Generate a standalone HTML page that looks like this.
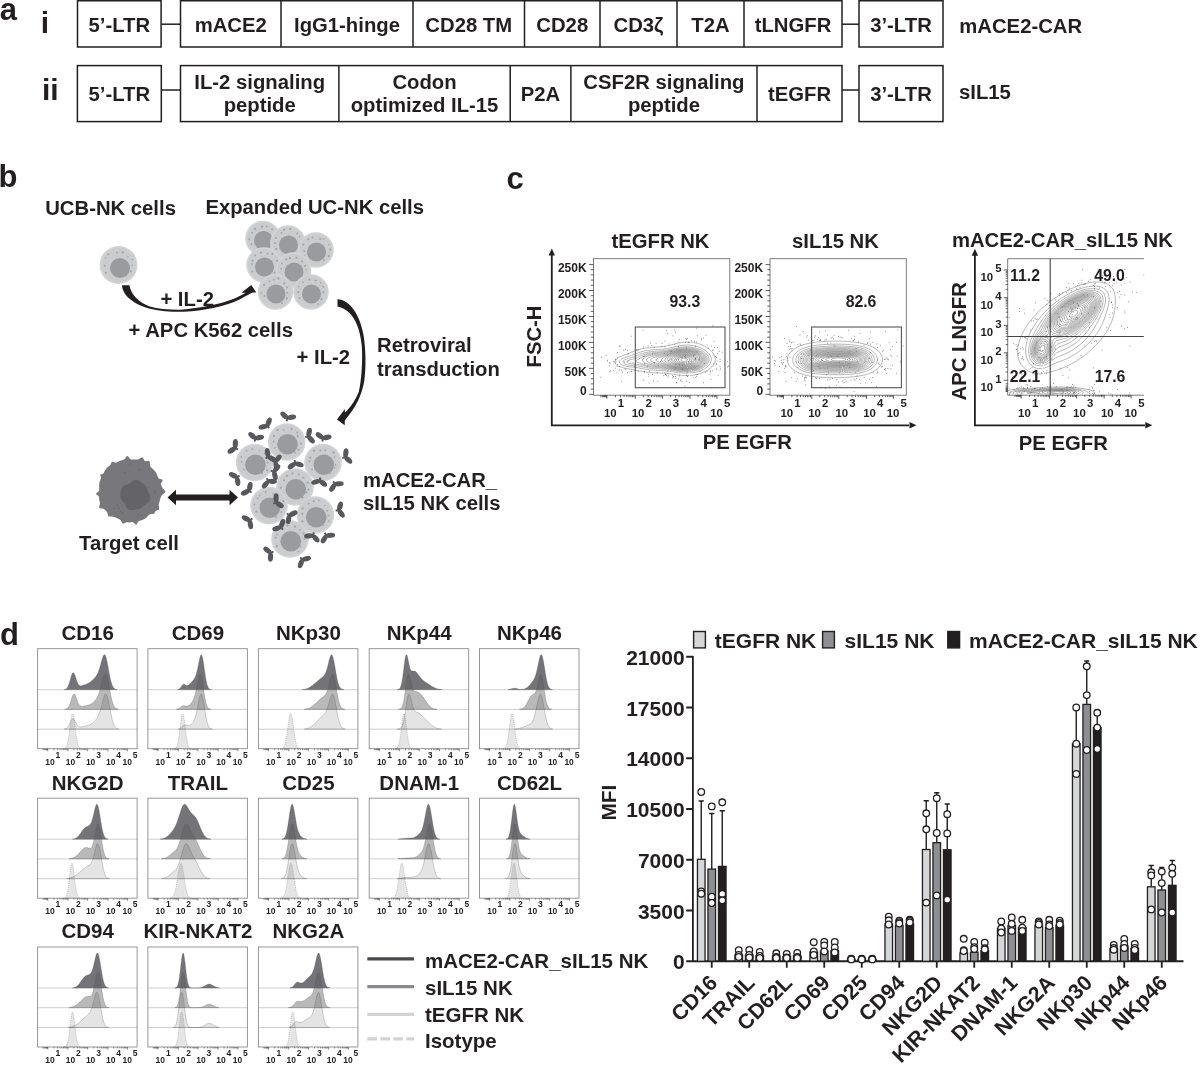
<!DOCTYPE html>
<html><head><meta charset="utf-8"><title>Figure</title>
<style>
html,body{margin:0;padding:0;background:#fff;}
svg{display:block;}
text{font-family:"Liberation Sans", Arial, Helvetica, sans-serif;font-weight:bold;fill:#231f20;}
</style></head>
<body>
<svg width="1200" height="1066" viewBox="0 0 1200 1066">
<rect width="1200" height="1066" fill="#fff"/>
<text x="-0.30" y="20.30" font-size="31">a</text>
<text x="40.80" y="32.60" font-size="30">i</text>
<text x="42.00" y="99.80" font-size="30">ii</text>
<g fill="none" stroke="#231f20" stroke-width="1.5">
<rect x="77.5" y="0.75" width="83.60" height="46.25"/>
<line x1="161.1" y1="24.2" x2="180.5" y2="24.2"/>
<rect x="180.5" y="0.75" width="661.50" height="46.25"/>
<line x1="281" y1="0.75" x2="281" y2="47.0"/>
<line x1="413" y1="0.75" x2="413" y2="47.0"/>
<line x1="524.5" y1="0.75" x2="524.5" y2="47.0"/>
<line x1="600" y1="0.75" x2="600" y2="47.0"/>
<line x1="677" y1="0.75" x2="677" y2="47.0"/>
<line x1="744" y1="0.75" x2="744" y2="47.0"/>
<line x1="842" y1="24.2" x2="859" y2="24.2"/>
<rect x="859" y="0.75" width="84" height="46.25"/>
<rect x="77.4" y="65.6" width="83.90" height="56.00"/>
<line x1="161.3" y1="90" x2="180.5" y2="90"/>
<rect x="180.5" y="65.6" width="661.50" height="56.00"/>
<line x1="338.9" y1="65.6" x2="338.9" y2="121.6"/>
<line x1="510.2" y1="65.6" x2="510.2" y2="121.6"/>
<line x1="570.9" y1="65.6" x2="570.9" y2="121.6"/>
<line x1="757" y1="65.6" x2="757" y2="121.6"/>
<line x1="842" y1="90" x2="859" y2="90"/>
<rect x="859" y="65.6" width="84" height="56.00"/>
</g>
<text x="119.30" y="32.20" font-size="20.3" text-anchor="middle">5’-LTR</text>
<text x="230.75" y="32.20" font-size="20.3" text-anchor="middle">mACE2</text>
<text x="347.00" y="32.20" font-size="20.3" text-anchor="middle">IgG1-hinge</text>
<text x="468.75" y="32.20" font-size="20.3" text-anchor="middle">CD28 TM</text>
<text x="562.25" y="32.20" font-size="20.3" text-anchor="middle">CD28</text>
<text x="638.50" y="32.20" font-size="20.3" text-anchor="middle">CD3ζ</text>
<text x="710.50" y="32.20" font-size="20.3" text-anchor="middle">T2A</text>
<text x="793.00" y="32.20" font-size="20.3" text-anchor="middle">tLNGFR</text>
<text x="901.00" y="32.20" font-size="20.3" text-anchor="middle">3’-LTR</text>
<text x="959.30" y="33.00" font-size="20.3">mACE2-CAR</text>
<text x="119.35" y="100.80" font-size="20.3" text-anchor="middle">5’-LTR</text>
<text x="259.70" y="88.80" font-size="20.3" text-anchor="middle">IL-2 signaling</text>
<text x="259.70" y="111.60" font-size="20.3" text-anchor="middle">peptide</text>
<text x="424.55" y="88.80" font-size="20.3" text-anchor="middle">Codon</text>
<text x="424.55" y="111.60" font-size="20.3" text-anchor="middle">optimized IL-15</text>
<text x="540.55" y="100.80" font-size="20.3" text-anchor="middle">P2A</text>
<text x="663.95" y="88.80" font-size="20.3" text-anchor="middle">CSF2R signaling</text>
<text x="663.95" y="111.60" font-size="20.3" text-anchor="middle">peptide</text>
<text x="799.50" y="100.80" font-size="20.3" text-anchor="middle">tEGFR</text>
<text x="901.00" y="100.80" font-size="20.3" text-anchor="middle">3’-LTR</text>
<text x="959.00" y="99.40" font-size="20.3">sIL15</text>
<text x="-1.50" y="186.60" font-size="31">b</text>
<text x="45.20" y="214.60" font-size="20.3">UCB-NK cells</text>
<text x="205.40" y="214.40" font-size="20.3">Expanded UC-NK cells</text>
<circle cx="118.5" cy="265.0" r="19.0" fill="#d3d4d6"/>
<circle cx="118.5" cy="265.0" r="17.4" fill="#cbccce"/>
<circle cx="120.0" cy="268.0" r="10.0" fill="#9a9b9f"/>
<circle cx="105.9" cy="272.7" r="1.07" fill="#a4a5a9"/>
<circle cx="104.7" cy="265.8" r="0.96" fill="#a4a5a9"/>
<circle cx="105.6" cy="258.0" r="0.83" fill="#a4a5a9"/>
<circle cx="108.3" cy="254.3" r="0.95" fill="#a4a5a9"/>
<circle cx="116.9" cy="252.6" r="0.96" fill="#a4a5a9"/>
<circle cx="122.7" cy="252.5" r="1.13" fill="#a4a5a9"/>
<circle cx="127.8" cy="256.5" r="0.81" fill="#a4a5a9"/>
<circle cx="132.5" cy="259.6" r="0.93" fill="#a4a5a9"/>
<circle cx="132.2" cy="265.2" r="0.81" fill="#a4a5a9"/>
<circle cx="130.7" cy="271.2" r="0.97" fill="#a4a5a9"/>
<circle cx="126.3" cy="275.6" r="0.88" fill="#a4a5a9"/>
<circle cx="263.0" cy="238.5" r="17.8" fill="#d3d4d6"/>
<circle cx="263.0" cy="238.5" r="16.2" fill="#cbccce"/>
<circle cx="263.5" cy="240.5" r="9.5" fill="#9a9b9f"/>
<circle cx="251.4" cy="244.0" r="1.00" fill="#a4a5a9"/>
<circle cx="249.3" cy="239.4" r="1.09" fill="#a4a5a9"/>
<circle cx="252.3" cy="232.7" r="0.98" fill="#a4a5a9"/>
<circle cx="255.1" cy="229.0" r="1.13" fill="#a4a5a9"/>
<circle cx="262.2" cy="226.7" r="1.10" fill="#a4a5a9"/>
<circle cx="266.7" cy="226.4" r="0.90" fill="#a4a5a9"/>
<circle cx="272.0" cy="229.3" r="1.04" fill="#a4a5a9"/>
<circle cx="274.4" cy="234.5" r="1.07" fill="#a4a5a9"/>
<circle cx="276.9" cy="241.3" r="1.01" fill="#a4a5a9"/>
<circle cx="273.7" cy="243.4" r="0.85" fill="#a4a5a9"/>
<circle cx="268.6" cy="249.7" r="0.93" fill="#a4a5a9"/>
<circle cx="288.0" cy="243.0" r="17.8" fill="#d3d4d6"/>
<circle cx="288.0" cy="243.0" r="16.2" fill="#cbccce"/>
<circle cx="288.5" cy="245.0" r="9.5" fill="#9a9b9f"/>
<circle cx="276.3" cy="249.0" r="1.12" fill="#a4a5a9"/>
<circle cx="275.0" cy="243.1" r="1.01" fill="#a4a5a9"/>
<circle cx="275.9" cy="238.1" r="1.02" fill="#a4a5a9"/>
<circle cx="281.4" cy="233.0" r="0.91" fill="#a4a5a9"/>
<circle cx="284.1" cy="229.8" r="1.04" fill="#a4a5a9"/>
<circle cx="290.3" cy="229.0" r="1.14" fill="#a4a5a9"/>
<circle cx="297.2" cy="233.4" r="0.86" fill="#a4a5a9"/>
<circle cx="299.5" cy="236.8" r="0.82" fill="#a4a5a9"/>
<circle cx="300.4" cy="243.1" r="0.81" fill="#a4a5a9"/>
<circle cx="299.1" cy="249.5" r="1.09" fill="#a4a5a9"/>
<circle cx="295.2" cy="254.3" r="0.97" fill="#a4a5a9"/>
<circle cx="316.0" cy="250.0" r="17.8" fill="#d3d4d6"/>
<circle cx="316.0" cy="250.0" r="16.2" fill="#cbccce"/>
<circle cx="316.5" cy="252.0" r="9.5" fill="#9a9b9f"/>
<circle cx="304.0" cy="256.0" r="1.03" fill="#a4a5a9"/>
<circle cx="304.3" cy="251.0" r="0.93" fill="#a4a5a9"/>
<circle cx="303.4" cy="244.5" r="1.04" fill="#a4a5a9"/>
<circle cx="308.3" cy="239.3" r="1.03" fill="#a4a5a9"/>
<circle cx="312.5" cy="237.6" r="0.86" fill="#a4a5a9"/>
<circle cx="320.3" cy="238.9" r="1.09" fill="#a4a5a9"/>
<circle cx="323.9" cy="239.1" r="0.92" fill="#a4a5a9"/>
<circle cx="328.7" cy="244.6" r="0.81" fill="#a4a5a9"/>
<circle cx="330.0" cy="249.6" r="0.98" fill="#a4a5a9"/>
<circle cx="328.8" cy="256.1" r="1.13" fill="#a4a5a9"/>
<circle cx="323.9" cy="260.1" r="0.85" fill="#a4a5a9"/>
<circle cx="264.0" cy="265.0" r="17.8" fill="#d3d4d6"/>
<circle cx="264.0" cy="265.0" r="16.2" fill="#cbccce"/>
<circle cx="264.5" cy="267.0" r="9.5" fill="#9a9b9f"/>
<circle cx="252.3" cy="271.6" r="1.04" fill="#a4a5a9"/>
<circle cx="251.8" cy="264.0" r="0.88" fill="#a4a5a9"/>
<circle cx="252.6" cy="260.5" r="1.06" fill="#a4a5a9"/>
<circle cx="255.2" cy="255.3" r="0.87" fill="#a4a5a9"/>
<circle cx="261.0" cy="252.5" r="1.09" fill="#a4a5a9"/>
<circle cx="267.4" cy="253.7" r="0.90" fill="#a4a5a9"/>
<circle cx="272.4" cy="253.9" r="1.08" fill="#a4a5a9"/>
<circle cx="277.2" cy="260.8" r="1.06" fill="#a4a5a9"/>
<circle cx="277.5" cy="267.6" r="0.89" fill="#a4a5a9"/>
<circle cx="274.5" cy="272.6" r="1.06" fill="#a4a5a9"/>
<circle cx="270.8" cy="275.9" r="0.93" fill="#a4a5a9"/>
<circle cx="293.5" cy="270.0" r="17.8" fill="#d3d4d6"/>
<circle cx="293.5" cy="270.0" r="16.2" fill="#cbccce"/>
<circle cx="294.0" cy="272.0" r="9.5" fill="#9a9b9f"/>
<circle cx="282.0" cy="277.1" r="1.03" fill="#a4a5a9"/>
<circle cx="281.1" cy="268.7" r="0.89" fill="#a4a5a9"/>
<circle cx="281.9" cy="263.4" r="0.91" fill="#a4a5a9"/>
<circle cx="286.3" cy="259.5" r="1.07" fill="#a4a5a9"/>
<circle cx="290.1" cy="258.2" r="1.12" fill="#a4a5a9"/>
<circle cx="296.4" cy="257.9" r="1.08" fill="#a4a5a9"/>
<circle cx="301.9" cy="261.2" r="0.99" fill="#a4a5a9"/>
<circle cx="305.0" cy="265.9" r="1.03" fill="#a4a5a9"/>
<circle cx="306.1" cy="269.9" r="0.83" fill="#a4a5a9"/>
<circle cx="306.2" cy="276.4" r="0.94" fill="#a4a5a9"/>
<circle cx="299.1" cy="281.5" r="1.01" fill="#a4a5a9"/>
<circle cx="275.5" cy="292.0" r="17.8" fill="#d3d4d6"/>
<circle cx="275.5" cy="292.0" r="16.2" fill="#cbccce"/>
<circle cx="276.0" cy="294.0" r="9.5" fill="#9a9b9f"/>
<circle cx="264.4" cy="296.0" r="1.06" fill="#a4a5a9"/>
<circle cx="261.3" cy="293.1" r="0.81" fill="#a4a5a9"/>
<circle cx="264.1" cy="284.9" r="1.10" fill="#a4a5a9"/>
<circle cx="269.3" cy="281.3" r="0.92" fill="#a4a5a9"/>
<circle cx="273.8" cy="279.7" r="0.89" fill="#a4a5a9"/>
<circle cx="278.3" cy="278.4" r="1.11" fill="#a4a5a9"/>
<circle cx="284.3" cy="283.4" r="1.12" fill="#a4a5a9"/>
<circle cx="287.0" cy="287.5" r="0.96" fill="#a4a5a9"/>
<circle cx="287.4" cy="292.7" r="1.00" fill="#a4a5a9"/>
<circle cx="287.0" cy="298.4" r="1.13" fill="#a4a5a9"/>
<circle cx="282.0" cy="303.0" r="1.10" fill="#a4a5a9"/>
<circle cx="311.0" cy="292.0" r="17.8" fill="#d3d4d6"/>
<circle cx="311.0" cy="292.0" r="16.2" fill="#cbccce"/>
<circle cx="311.5" cy="294.0" r="9.5" fill="#9a9b9f"/>
<circle cx="299.6" cy="298.1" r="0.95" fill="#a4a5a9"/>
<circle cx="298.2" cy="292.1" r="1.03" fill="#a4a5a9"/>
<circle cx="298.7" cy="286.8" r="0.80" fill="#a4a5a9"/>
<circle cx="302.9" cy="282.3" r="0.85" fill="#a4a5a9"/>
<circle cx="309.4" cy="279.6" r="1.08" fill="#a4a5a9"/>
<circle cx="315.6" cy="280.5" r="1.11" fill="#a4a5a9"/>
<circle cx="320.7" cy="282.7" r="0.81" fill="#a4a5a9"/>
<circle cx="323.3" cy="286.9" r="0.90" fill="#a4a5a9"/>
<circle cx="323.5" cy="292.2" r="0.89" fill="#a4a5a9"/>
<circle cx="321.3" cy="299.2" r="0.95" fill="#a4a5a9"/>
<circle cx="318.2" cy="304.1" r="0.90" fill="#a4a5a9"/>
<path d="M122,285.3 C122.5,296 135,305 150,308.7 C160,311 170,311.8 180,311.8 C200,311.5 228,306.5 243,297.5 L252.5,292.6 L256.3,292.5 L251.3,285 L241.3,292.7 L245.5,292.8 C236,299.5 212,307.5 180,309.7 C168,309.8 158,308.6 150,306.4 C140,303 131.5,296 129.3,285.3 Z" fill="#231f20"/>
<text x="160.40" y="305.60" font-size="20.3">+ IL-2</text>
<text x="128.50" y="336.80" font-size="20.3">+ APC K562 cells</text>
<path d="M337.5,299.2 C350,299.5 360,315 363.5,335 C366,350 366,368 364.4,380 C362.5,392 358,403 351.3,411.9 L344.8,420.5 L344.7,425.3 L337,419.6 L344.9,409.1 L344.9,412.5 C351,407 356,399 358.8,391.7 C361.5,381 362.8,360 361.8,346 C360,325 352,309.5 337.5,306.4 Z" fill="#231f20"/>
<text x="296.60" y="363.70" font-size="20.3">+ IL-2</text>
<text x="377.00" y="352.00" font-size="20.3">Retroviral</text>
<text x="377.00" y="375.80" font-size="20.3">transduction</text>
<circle cx="286.7" cy="442.0" r="18.8" fill="#d3d4d6"/>
<circle cx="286.7" cy="442.0" r="17.2" fill="#cbccce"/>
<circle cx="287.5" cy="444.2" r="10.3" fill="#9a9b9f"/>
<circle cx="274.8" cy="447.7" r="0.81" fill="#a4a5a9"/>
<circle cx="273.7" cy="441.5" r="0.89" fill="#a4a5a9"/>
<circle cx="273.9" cy="436.0" r="1.15" fill="#a4a5a9"/>
<circle cx="277.5" cy="430.1" r="1.15" fill="#a4a5a9"/>
<circle cx="283.6" cy="429.8" r="0.86" fill="#a4a5a9"/>
<circle cx="291.5" cy="428.9" r="1.12" fill="#a4a5a9"/>
<circle cx="297.3" cy="432.6" r="0.99" fill="#a4a5a9"/>
<circle cx="297.7" cy="436.2" r="1.08" fill="#a4a5a9"/>
<circle cx="301.0" cy="443.7" r="1.00" fill="#a4a5a9"/>
<circle cx="298.5" cy="449.7" r="1.11" fill="#a4a5a9"/>
<circle cx="295.1" cy="452.8" r="0.91" fill="#a4a5a9"/>
<circle cx="254.6" cy="462.5" r="18.8" fill="#d3d4d6"/>
<circle cx="254.6" cy="462.5" r="17.2" fill="#cbccce"/>
<circle cx="255.4" cy="464.7" r="10.3" fill="#9a9b9f"/>
<circle cx="243.9" cy="469.4" r="0.94" fill="#a4a5a9"/>
<circle cx="241.8" cy="461.9" r="0.84" fill="#a4a5a9"/>
<circle cx="241.3" cy="456.9" r="0.85" fill="#a4a5a9"/>
<circle cx="246.7" cy="450.8" r="0.85" fill="#a4a5a9"/>
<circle cx="252.2" cy="449.1" r="0.94" fill="#a4a5a9"/>
<circle cx="259.4" cy="450.8" r="0.81" fill="#a4a5a9"/>
<circle cx="264.6" cy="453.5" r="0.87" fill="#a4a5a9"/>
<circle cx="266.8" cy="457.0" r="1.13" fill="#a4a5a9"/>
<circle cx="267.6" cy="462.6" r="1.00" fill="#a4a5a9"/>
<circle cx="267.3" cy="470.3" r="1.09" fill="#a4a5a9"/>
<circle cx="262.0" cy="473.1" r="1.09" fill="#a4a5a9"/>
<circle cx="323.0" cy="462.5" r="18.8" fill="#d3d4d6"/>
<circle cx="323.0" cy="462.5" r="17.2" fill="#cbccce"/>
<circle cx="323.8" cy="464.7" r="10.3" fill="#9a9b9f"/>
<circle cx="312.0" cy="469.4" r="0.91" fill="#a4a5a9"/>
<circle cx="309.4" cy="461.2" r="1.05" fill="#a4a5a9"/>
<circle cx="310.2" cy="457.6" r="1.10" fill="#a4a5a9"/>
<circle cx="314.1" cy="450.6" r="1.11" fill="#a4a5a9"/>
<circle cx="320.3" cy="450.4" r="1.06" fill="#a4a5a9"/>
<circle cx="325.2" cy="450.3" r="1.06" fill="#a4a5a9"/>
<circle cx="333.6" cy="452.5" r="1.13" fill="#a4a5a9"/>
<circle cx="334.4" cy="457.0" r="0.84" fill="#a4a5a9"/>
<circle cx="335.5" cy="465.0" r="0.86" fill="#a4a5a9"/>
<circle cx="334.4" cy="467.7" r="0.81" fill="#a4a5a9"/>
<circle cx="330.3" cy="473.1" r="0.91" fill="#a4a5a9"/>
<circle cx="295.0" cy="487.0" r="18.8" fill="#d3d4d6"/>
<circle cx="295.0" cy="487.0" r="17.2" fill="#cbccce"/>
<circle cx="295.8" cy="489.2" r="10.3" fill="#9a9b9f"/>
<circle cx="282.3" cy="493.0" r="1.09" fill="#a4a5a9"/>
<circle cx="280.9" cy="487.7" r="1.11" fill="#a4a5a9"/>
<circle cx="284.1" cy="480.2" r="1.03" fill="#a4a5a9"/>
<circle cx="287.0" cy="475.8" r="1.14" fill="#a4a5a9"/>
<circle cx="292.5" cy="473.6" r="1.13" fill="#a4a5a9"/>
<circle cx="298.9" cy="474.4" r="0.91" fill="#a4a5a9"/>
<circle cx="303.4" cy="477.6" r="1.01" fill="#a4a5a9"/>
<circle cx="307.8" cy="482.7" r="1.10" fill="#a4a5a9"/>
<circle cx="308.6" cy="489.5" r="1.04" fill="#a4a5a9"/>
<circle cx="306.3" cy="492.4" r="1.14" fill="#a4a5a9"/>
<circle cx="302.6" cy="497.5" r="1.11" fill="#a4a5a9"/>
<circle cx="269.0" cy="505.6" r="18.8" fill="#d3d4d6"/>
<circle cx="269.0" cy="505.6" r="17.2" fill="#cbccce"/>
<circle cx="269.8" cy="507.8" r="10.3" fill="#9a9b9f"/>
<circle cx="256.4" cy="511.7" r="1.10" fill="#a4a5a9"/>
<circle cx="254.3" cy="504.2" r="0.93" fill="#a4a5a9"/>
<circle cx="257.6" cy="498.3" r="0.91" fill="#a4a5a9"/>
<circle cx="259.7" cy="495.5" r="0.85" fill="#a4a5a9"/>
<circle cx="265.6" cy="492.0" r="1.07" fill="#a4a5a9"/>
<circle cx="273.1" cy="493.7" r="0.82" fill="#a4a5a9"/>
<circle cx="277.6" cy="494.8" r="1.09" fill="#a4a5a9"/>
<circle cx="283.2" cy="501.1" r="1.01" fill="#a4a5a9"/>
<circle cx="282.1" cy="507.1" r="0.91" fill="#a4a5a9"/>
<circle cx="281.3" cy="511.9" r="1.01" fill="#a4a5a9"/>
<circle cx="276.1" cy="517.0" r="0.95" fill="#a4a5a9"/>
<circle cx="315.4" cy="515.0" r="18.8" fill="#d3d4d6"/>
<circle cx="315.4" cy="515.0" r="17.2" fill="#cbccce"/>
<circle cx="316.2" cy="517.2" r="10.3" fill="#9a9b9f"/>
<circle cx="302.4" cy="521.2" r="1.06" fill="#a4a5a9"/>
<circle cx="302.3" cy="513.8" r="1.14" fill="#a4a5a9"/>
<circle cx="302.6" cy="508.4" r="1.06" fill="#a4a5a9"/>
<circle cx="308.6" cy="503.8" r="0.93" fill="#a4a5a9"/>
<circle cx="313.5" cy="501.2" r="1.06" fill="#a4a5a9"/>
<circle cx="318.9" cy="500.5" r="0.80" fill="#a4a5a9"/>
<circle cx="324.9" cy="505.5" r="0.81" fill="#a4a5a9"/>
<circle cx="327.2" cy="510.8" r="0.88" fill="#a4a5a9"/>
<circle cx="328.2" cy="515.5" r="0.86" fill="#a4a5a9"/>
<circle cx="328.7" cy="521.2" r="0.83" fill="#a4a5a9"/>
<circle cx="323.1" cy="525.0" r="1.12" fill="#a4a5a9"/>
<circle cx="290.0" cy="539.0" r="18.8" fill="#d3d4d6"/>
<circle cx="290.0" cy="539.0" r="17.2" fill="#cbccce"/>
<circle cx="290.8" cy="541.2" r="10.3" fill="#9a9b9f"/>
<circle cx="276.8" cy="546.2" r="1.14" fill="#a4a5a9"/>
<circle cx="275.6" cy="537.5" r="1.11" fill="#a4a5a9"/>
<circle cx="276.8" cy="534.3" r="0.89" fill="#a4a5a9"/>
<circle cx="282.4" cy="527.8" r="1.00" fill="#a4a5a9"/>
<circle cx="287.5" cy="525.3" r="1.09" fill="#a4a5a9"/>
<circle cx="295.0" cy="526.7" r="1.08" fill="#a4a5a9"/>
<circle cx="299.9" cy="529.9" r="0.84" fill="#a4a5a9"/>
<circle cx="303.4" cy="533.6" r="0.98" fill="#a4a5a9"/>
<circle cx="304.3" cy="539.1" r="0.91" fill="#a4a5a9"/>
<circle cx="300.4" cy="546.6" r="1.01" fill="#a4a5a9"/>
<circle cx="298.4" cy="551.4" r="0.85" fill="#a4a5a9"/>
<g transform="translate(286.7,421.3) rotate(14) scale(1.0)" fill="#58585c"><ellipse cx="-3.7" cy="-5.1" rx="4.7" ry="2.6" transform="rotate(27 -3.7 -5.1)"/><ellipse cx="3.7" cy="-5.1" rx="4.7" ry="2.6" transform="rotate(-27 3.7 -5.1)"/><path d="M-0.9,0 L0.9,0 L1.2,-3.6 L-1.2,-3.6 Z"/></g>
<g transform="translate(269.3,428.2) rotate(-41) scale(1.0)" fill="#58585c"><ellipse cx="-3.7" cy="-5.1" rx="4.7" ry="2.6" transform="rotate(27 -3.7 -5.1)"/><ellipse cx="3.7" cy="-5.1" rx="4.7" ry="2.6" transform="rotate(-27 3.7 -5.1)"/><path d="M-0.9,0 L0.9,0 L1.2,-3.6 L-1.2,-3.6 Z"/></g>
<g transform="translate(254.6,441.6) rotate(14) scale(1.0)" fill="#58585c"><ellipse cx="-3.7" cy="-5.1" rx="4.7" ry="2.6" transform="rotate(27 -3.7 -5.1)"/><ellipse cx="3.7" cy="-5.1" rx="4.7" ry="2.6" transform="rotate(-27 3.7 -5.1)"/><path d="M-0.9,0 L0.9,0 L1.2,-3.6 L-1.2,-3.6 Z"/></g>
<g transform="translate(238.0,449.5) rotate(-61) scale(1.0)" fill="#58585c"><ellipse cx="-3.7" cy="-5.1" rx="4.7" ry="2.6" transform="rotate(27 -3.7 -5.1)"/><ellipse cx="3.7" cy="-5.1" rx="4.7" ry="2.6" transform="rotate(-27 3.7 -5.1)"/><path d="M-0.9,0 L0.9,0 L1.2,-3.6 L-1.2,-3.6 Z"/></g>
<g transform="translate(305.2,437.2) rotate(75) scale(1.0)" fill="#58585c"><ellipse cx="-3.7" cy="-5.1" rx="4.7" ry="2.6" transform="rotate(27 -3.7 -5.1)"/><ellipse cx="3.7" cy="-5.1" rx="4.7" ry="2.6" transform="rotate(-27 3.7 -5.1)"/><path d="M-0.9,0 L0.9,0 L1.2,-3.6 L-1.2,-3.6 Z"/></g>
<g transform="translate(322.3,441.6) rotate(12) scale(1.0)" fill="#58585c"><ellipse cx="-3.7" cy="-5.1" rx="4.7" ry="2.6" transform="rotate(27 -3.7 -5.1)"/><ellipse cx="3.7" cy="-5.1" rx="4.7" ry="2.6" transform="rotate(-27 3.7 -5.1)"/><path d="M-0.9,0 L0.9,0 L1.2,-3.6 L-1.2,-3.6 Z"/></g>
<g transform="translate(342.3,458.2) rotate(70) scale(1.0)" fill="#58585c"><ellipse cx="-3.7" cy="-5.1" rx="4.7" ry="2.6" transform="rotate(27 -3.7 -5.1)"/><ellipse cx="3.7" cy="-5.1" rx="4.7" ry="2.6" transform="rotate(-27 3.7 -5.1)"/><path d="M-0.9,0 L0.9,0 L1.2,-3.6 L-1.2,-3.6 Z"/></g>
<g transform="translate(265.6,458.6) rotate(54) scale(1.0)" fill="#58585c"><ellipse cx="-3.7" cy="-5.1" rx="4.7" ry="2.6" transform="rotate(27 -3.7 -5.1)"/><ellipse cx="3.7" cy="-5.1" rx="4.7" ry="2.6" transform="rotate(-27 3.7 -5.1)"/><path d="M-0.9,0 L0.9,0 L1.2,-3.6 L-1.2,-3.6 Z"/></g>
<g transform="translate(272.1,461.1) rotate(103) scale(1.0)" fill="#58585c"><ellipse cx="-3.7" cy="-5.1" rx="4.7" ry="2.6" transform="rotate(27 -3.7 -5.1)"/><ellipse cx="3.7" cy="-5.1" rx="4.7" ry="2.6" transform="rotate(-27 3.7 -5.1)"/><path d="M-0.9,0 L0.9,0 L1.2,-3.6 L-1.2,-3.6 Z"/></g>
<g transform="translate(294.6,460.0) rotate(170) scale(1.0)" fill="#58585c"><ellipse cx="-3.7" cy="-5.1" rx="4.7" ry="2.6" transform="rotate(27 -3.7 -5.1)"/><ellipse cx="3.7" cy="-5.1" rx="4.7" ry="2.6" transform="rotate(-27 3.7 -5.1)"/><path d="M-0.9,0 L0.9,0 L1.2,-3.6 L-1.2,-3.6 Z"/></g>
<g transform="translate(239.6,475.4) rotate(-126) scale(1.0)" fill="#58585c"><ellipse cx="-3.7" cy="-5.1" rx="4.7" ry="2.6" transform="rotate(27 -3.7 -5.1)"/><ellipse cx="3.7" cy="-5.1" rx="4.7" ry="2.6" transform="rotate(-27 3.7 -5.1)"/><path d="M-0.9,0 L0.9,0 L1.2,-3.6 L-1.2,-3.6 Z"/></g>
<g transform="translate(270.8,470.9) rotate(103) scale(1.0)" fill="#58585c"><ellipse cx="-3.7" cy="-5.1" rx="4.7" ry="2.6" transform="rotate(27 -3.7 -5.1)"/><ellipse cx="3.7" cy="-5.1" rx="4.7" ry="2.6" transform="rotate(-27 3.7 -5.1)"/><path d="M-0.9,0 L0.9,0 L1.2,-3.6 L-1.2,-3.6 Z"/></g>
<g transform="translate(266.8,478.2) rotate(156) scale(1.0)" fill="#58585c"><ellipse cx="-3.7" cy="-5.1" rx="4.7" ry="2.6" transform="rotate(27 -3.7 -5.1)"/><ellipse cx="3.7" cy="-5.1" rx="4.7" ry="2.6" transform="rotate(-27 3.7 -5.1)"/><path d="M-0.9,0 L0.9,0 L1.2,-3.6 L-1.2,-3.6 Z"/></g>
<g transform="translate(251.6,492.6) rotate(-52) scale(1.0)" fill="#58585c"><ellipse cx="-3.7" cy="-5.1" rx="4.7" ry="2.6" transform="rotate(27 -3.7 -5.1)"/><ellipse cx="3.7" cy="-5.1" rx="4.7" ry="2.6" transform="rotate(-27 3.7 -5.1)"/><path d="M-0.9,0 L0.9,0 L1.2,-3.6 L-1.2,-3.6 Z"/></g>
<g transform="translate(320.3,477.5) rotate(-170) scale(1.0)" fill="#58585c"><ellipse cx="-3.7" cy="-5.1" rx="4.7" ry="2.6" transform="rotate(27 -3.7 -5.1)"/><ellipse cx="3.7" cy="-5.1" rx="4.7" ry="2.6" transform="rotate(-27 3.7 -5.1)"/><path d="M-0.9,0 L0.9,0 L1.2,-3.6 L-1.2,-3.6 Z"/></g>
<g transform="translate(333.2,481.3) rotate(149) scale(1.0)" fill="#58585c"><ellipse cx="-3.7" cy="-5.1" rx="4.7" ry="2.6" transform="rotate(27 -3.7 -5.1)"/><ellipse cx="3.7" cy="-5.1" rx="4.7" ry="2.6" transform="rotate(-27 3.7 -5.1)"/><path d="M-0.9,0 L0.9,0 L1.2,-3.6 L-1.2,-3.6 Z"/></g>
<g transform="translate(273.3,503.7) rotate(62) scale(1.0)" fill="#58585c"><ellipse cx="-3.7" cy="-5.1" rx="4.7" ry="2.6" transform="rotate(27 -3.7 -5.1)"/><ellipse cx="3.7" cy="-5.1" rx="4.7" ry="2.6" transform="rotate(-27 3.7 -5.1)"/><path d="M-0.9,0 L0.9,0 L1.2,-3.6 L-1.2,-3.6 Z"/></g>
<g transform="translate(335.6,510.6) rotate(81) scale(1.0)" fill="#58585c"><ellipse cx="-3.7" cy="-5.1" rx="4.7" ry="2.6" transform="rotate(27 -3.7 -5.1)"/><ellipse cx="3.7" cy="-5.1" rx="4.7" ry="2.6" transform="rotate(-27 3.7 -5.1)"/><path d="M-0.9,0 L0.9,0 L1.2,-3.6 L-1.2,-3.6 Z"/></g>
<g transform="translate(252.4,518.6) rotate(-126) scale(1.0)" fill="#58585c"><ellipse cx="-3.7" cy="-5.1" rx="4.7" ry="2.6" transform="rotate(27 -3.7 -5.1)"/><ellipse cx="3.7" cy="-5.1" rx="4.7" ry="2.6" transform="rotate(-27 3.7 -5.1)"/><path d="M-0.9,0 L0.9,0 L1.2,-3.6 L-1.2,-3.6 Z"/></g>
<g transform="translate(286.8,513.4) rotate(128) scale(1.0)" fill="#58585c"><ellipse cx="-3.7" cy="-5.1" rx="4.7" ry="2.6" transform="rotate(27 -3.7 -5.1)"/><ellipse cx="3.7" cy="-5.1" rx="4.7" ry="2.6" transform="rotate(-27 3.7 -5.1)"/><path d="M-0.9,0 L0.9,0 L1.2,-3.6 L-1.2,-3.6 Z"/></g>
<g transform="translate(283.0,529.6) rotate(-43) scale(1.0)" fill="#58585c"><ellipse cx="-3.7" cy="-5.1" rx="4.7" ry="2.6" transform="rotate(27 -3.7 -5.1)"/><ellipse cx="3.7" cy="-5.1" rx="4.7" ry="2.6" transform="rotate(-27 3.7 -5.1)"/><path d="M-0.9,0 L0.9,0 L1.2,-3.6 L-1.2,-3.6 Z"/></g>
<g transform="translate(314.0,532.4) rotate(-160) scale(1.0)" fill="#58585c"><ellipse cx="-3.7" cy="-5.1" rx="4.7" ry="2.6" transform="rotate(27 -3.7 -5.1)"/><ellipse cx="3.7" cy="-5.1" rx="4.7" ry="2.6" transform="rotate(-27 3.7 -5.1)"/><path d="M-0.9,0 L0.9,0 L1.2,-3.6 L-1.2,-3.6 Z"/></g>
<g transform="translate(324.7,532.8) rotate(149) scale(1.0)" fill="#58585c"><ellipse cx="-3.7" cy="-5.1" rx="4.7" ry="2.6" transform="rotate(27 -3.7 -5.1)"/><ellipse cx="3.7" cy="-5.1" rx="4.7" ry="2.6" transform="rotate(-27 3.7 -5.1)"/><path d="M-0.9,0 L0.9,0 L1.2,-3.6 L-1.2,-3.6 Z"/></g>
<g transform="translate(273.6,551.5) rotate(-115) scale(1.0)" fill="#58585c"><ellipse cx="-3.7" cy="-5.1" rx="4.7" ry="2.6" transform="rotate(27 -3.7 -5.1)"/><ellipse cx="3.7" cy="-5.1" rx="4.7" ry="2.6" transform="rotate(-27 3.7 -5.1)"/><path d="M-0.9,0 L0.9,0 L1.2,-3.6 L-1.2,-3.6 Z"/></g>
<g transform="translate(300.2,557.4) rotate(138) scale(1.0)" fill="#58585c"><ellipse cx="-3.7" cy="-5.1" rx="4.7" ry="2.6" transform="rotate(27 -3.7 -5.1)"/><ellipse cx="3.7" cy="-5.1" rx="4.7" ry="2.6" transform="rotate(-27 3.7 -5.1)"/><path d="M-0.9,0 L0.9,0 L1.2,-3.6 L-1.2,-3.6 Z"/></g>
<text x="363.00" y="487.20" font-size="20.3">mACE2-CAR_</text>
<text x="363.00" y="510.20" font-size="20.3">sIL15 NK cells</text>
<path d="M164.8,490.4 L165.4,491.3 L165.2,492.2 L164.4,493.1 L163.3,493.9 L162.3,494.7 L161.7,495.4 L161.2,496.2 L160.9,497.0 L160.6,497.8 L160.4,498.5 L160.2,499.3 L159.9,500.1 L159.7,500.9 L159.5,501.7 L159.2,502.5 L159.0,503.3 L158.8,504.1 L158.7,505.0 L158.8,506.1 L159.1,507.2 L159.3,508.4 L159.1,509.3 L158.4,509.9 L157.4,510.3 L156.3,510.6 L155.6,511.1 L155.2,511.9 L154.8,512.8 L154.3,513.4 L153.4,513.8 L152.3,513.9 L151.2,514.0 L150.3,514.2 L149.5,514.5 L148.9,515.0 L148.3,515.6 L147.7,516.2 L147.2,516.8 L146.5,517.4 L145.9,517.9 L145.2,518.5 L144.5,518.9 L143.8,519.3 L143.0,519.7 L142.3,520.0 L141.5,520.3 L140.7,520.5 L139.9,520.7 L139.0,520.9 L138.3,521.4 L137.7,522.3 L137.1,523.8 L136.4,524.8 L135.4,524.5 L134.3,523.2 L133.4,522.4 L132.5,522.1 L131.7,522.2 L130.8,522.3 L130.0,522.3 L129.2,522.4 L128.3,522.4 L127.5,522.3 L126.6,522.3 L125.8,522.5 L124.9,522.9 L123.9,523.4 L123.0,523.5 L122.2,522.9 L121.6,521.9 L121.0,520.8 L120.4,520.0 L119.7,519.4 L119.0,519.0 L118.3,518.7 L117.5,518.4 L116.8,518.1 L116.0,517.8 L115.3,517.5 L114.5,517.3 L113.7,517.0 L112.9,516.7 L112.1,516.4 L111.1,516.4 L110.0,516.5 L108.8,516.5 L108.1,516.0 L107.8,515.0 L107.7,513.9 L107.4,513.0 L107.0,512.2 L106.5,511.6 L106.0,510.9 L105.5,510.3 L104.9,509.7 L104.2,509.2 L103.2,508.8 L102.0,508.6 L100.6,508.4 L99.5,508.0 L99.1,507.2 L99.3,506.1 L99.7,504.9 L100.0,503.8 L100.0,502.8 L99.8,502.0 L99.6,501.2 L99.4,500.3 L99.2,499.5 L99.1,498.7 L99.1,497.8 L99.0,497.0 L98.7,496.2 L97.9,495.5 L96.7,494.8 L95.9,494.0 L96.5,493.0 L97.9,492.1 L98.8,491.2 L99.2,490.4 L99.3,489.6 L99.2,488.8 L99.2,488.0 L99.2,487.2 L99.1,486.3 L99.2,485.5 L99.2,484.7 L99.3,483.9 L99.4,483.0 L99.5,482.2 L99.8,481.4 L100.0,480.7 L100.3,479.9 L100.6,479.1 L100.9,478.4 L101.0,477.5 L100.7,476.4 L100.3,475.3 L100.7,474.5 L101.9,474.2 L102.9,473.8 L103.5,473.2 L104.0,472.5 L104.3,471.8 L104.7,471.0 L105.1,470.3 L105.6,469.5 L106.0,468.8 L106.6,468.2 L107.1,467.5 L107.7,466.9 L108.4,466.4 L109.0,465.9 L109.7,465.4 L110.4,464.9 L110.9,464.1 L111.3,463.1 L111.6,462.1 L112.5,461.8 L113.7,462.1 L114.9,462.5 L115.8,462.6 L116.7,462.4 L117.4,462.1 L118.2,461.8 L118.9,461.5 L119.6,461.1 L120.4,460.8 L121.1,460.5 L121.9,460.2 L122.7,459.9 L123.5,459.7 L124.2,459.4 L125.0,458.8 L125.7,457.7 L126.4,456.4 L127.3,455.9 L128.2,456.5 L129.1,457.8 L130.0,458.8 L130.8,459.2 L131.6,459.4 L132.4,459.5 L133.2,459.5 L134.1,459.5 L134.9,459.5 L135.7,459.5 L136.6,459.5 L137.4,459.4 L138.4,459.2 L139.4,458.7 L140.5,458.0 L141.7,457.5 L142.6,457.5 L143.3,458.2 L143.8,459.3 L144.3,460.4 L144.9,461.1 L145.8,461.3 L146.9,461.1 L148.1,460.9 L149.1,460.9 L149.7,461.7 L149.9,463.0 L149.9,464.4 L150.1,465.6 L150.4,466.5 L150.9,467.2 L151.5,467.7 L152.1,468.3 L152.7,468.9 L153.3,469.4 L153.9,470.0 L154.4,470.6 L155.0,471.2 L155.5,471.9 L155.9,472.6 L156.3,473.3 L156.7,474.0 L157.0,474.8 L157.4,475.5 L157.6,476.3 L157.9,477.1 L158.3,477.8 L158.9,478.4 L160.0,478.9 L161.5,479.3 L162.6,479.8 L162.6,480.8 L161.8,481.9 L161.1,482.9 L160.9,483.8 L161.1,484.6 L161.3,485.4 L161.6,486.2 L162.0,487.0 L162.4,487.9 L163.0,488.7 L163.9,489.5 Z" fill="#78787c"/>
<path d="M149.8,495.4 L150.3,497.4 L150.1,499.5 L149.1,501.3 L147.6,502.7 L146.0,503.9 L144.7,505.1 L143.4,506.3 L142.0,507.6 L140.4,508.5 L138.7,509.0 L136.8,509.4 L135.0,509.7 L133.1,510.1 L131.0,510.2 L129.0,509.8 L127.4,508.6 L126.2,506.9 L125.3,505.1 L124.5,503.4 L123.4,502.1 L122.2,500.7 L121.0,499.1 L120.3,497.3 L120.2,495.4 L120.4,493.5 L120.8,491.6 L121.2,489.7 L122.0,487.9 L123.2,486.3 L124.8,485.2 L126.7,484.6 L128.4,484.0 L129.9,483.2 L131.4,482.0 L133.1,480.8 L135.0,480.1 L137.0,480.1 L138.9,480.8 L140.6,481.9 L142.2,482.9 L143.7,484.0 L145.2,485.2 L146.3,486.7 L147.0,488.5 L147.5,490.2 L148.0,491.9 L148.9,493.6 Z" fill="#646468"/>
<circle cx="117.4" cy="505.5" r="0.9" fill="#6c6c70"/>
<circle cx="141.4" cy="505.2" r="0.9" fill="#6c6c70"/>
<circle cx="122.4" cy="513.2" r="0.9" fill="#6c6c70"/>
<circle cx="154.8" cy="490.9" r="0.9" fill="#6c6c70"/>
<circle cx="118.9" cy="508.4" r="0.9" fill="#6c6c70"/>
<circle cx="139.5" cy="469.7" r="0.9" fill="#6c6c70"/>
<circle cx="120.8" cy="511.3" r="0.9" fill="#6c6c70"/>
<circle cx="124.8" cy="472.6" r="0.9" fill="#6c6c70"/>
<circle cx="148.0" cy="487.6" r="0.9" fill="#6c6c70"/>
<circle cx="130.0" cy="464.0" r="0.9" fill="#6c6c70"/>
<circle cx="155.7" cy="493.3" r="0.9" fill="#6c6c70"/>
<circle cx="114.1" cy="508.1" r="0.9" fill="#6c6c70"/>
<circle cx="148.4" cy="491.5" r="0.9" fill="#6c6c70"/>
<circle cx="141.6" cy="515.4" r="0.9" fill="#6c6c70"/>
<circle cx="138.4" cy="514.5" r="0.9" fill="#6c6c70"/>
<circle cx="154.8" cy="478.7" r="0.9" fill="#6c6c70"/>
<path d="M167.5,497.5 L176,489.8 L176,494.6 L229.5,494.6 L229.5,489.8 L238,497.5 L229.5,505.2 L229.5,500.4 L176,500.4 L176,505.2 Z" fill="#231f20"/>
<text x="79.00" y="550.00" font-size="20.3">Target cell</text>
<text x="506.50" y="189.00" font-size="31">c</text>
<text x="660.50" y="247.50" font-size="20.3" text-anchor="middle">tEGFR NK</text>
<text x="835.50" y="247.50" font-size="20.3" text-anchor="middle">sIL15 NK</text>
<text x="1062.40" y="247.20" font-size="20.3" text-anchor="middle">mACE2-CAR_sIL15 NK</text>
<path d="M551.8,255 V425.3 H909" fill="none" stroke="#231f20" stroke-width="1.8"/>
<path d="M551.8,248.5 L548.5999999999999,255.5 L555.0,255.5 Z" fill="#231f20"/>
<path d="M916.5,425.3 L909.5,422.1 L909.5,428.5 Z" fill="#231f20"/>
<path d="M974.9,255 V425.3 H1145" fill="none" stroke="#231f20" stroke-width="1.8"/>
<path d="M974.9,248.8 L971.6999999999999,255.8 L978.1,255.8 Z" fill="#231f20"/>
<path d="M1152.3,425.3 L1145.3,422.1 L1145.3,428.5 Z" fill="#231f20"/>
<text x="541.30" y="336.50" font-size="20.3" text-anchor="middle" transform="rotate(-90 541.3 336.5)">FSC-H</text>
<text x="966.30" y="341.30" font-size="20.3" text-anchor="middle" transform="rotate(-90 966.3 341.3)">APC LNGFR</text>
<text x="747.30" y="448.80" font-size="20.3" text-anchor="middle">PE EGFR</text>
<text x="1063.30" y="449.60" font-size="20.3" text-anchor="middle">PE EGFR</text>
<defs><clipPath id="cp1"><rect x="593.5" y="258.7" width="136.3" height="136.5"/></clipPath><clipPath id="cp2"><rect x="770" y="258.7" width="136.3" height="136.5"/></clipPath><clipPath id="cp3"><rect x="1007.7" y="258.7" width="136.3" height="136.2"/></clipPath></defs>
<path d="M606.8,361.1h0.7M681.7,381.4h0.7M700.8,340.0h0.7M623.0,350.0h0.7M688.6,342.5h0.7M713.6,341.4h0.7M693.5,377.8h0.7M716.9,353.7h0.7M685.7,359.8h0.7M704.3,363.5h0.7M728.2,366.2h0.7M664.5,373.1h0.7M654.1,363.2h0.7M643.2,347.1h0.7M600.5,377.2h0.7M624.6,369.0h0.7M627.6,353.8h0.7M696.1,376.4h0.7M658.1,365.9h0.7M609.0,362.9h0.7M680.0,380.8h0.7M634.3,366.6h0.7M668.6,344.0h0.7M672.3,377.9h0.7M704.9,372.4h0.7M693.1,355.3h0.7M614.8,362.8h0.7M660.3,361.5h0.7M605.7,355.6h0.7M666.1,375.7h0.7M719.6,366.2h0.7M655.7,343.4h0.7M685.5,338.4h0.7M631.5,371.1h0.7M695.5,377.7h0.7M648.7,382.9h0.7M699.1,357.8h0.7M642.7,330.2h0.7M648.4,374.2h0.7M709.9,370.9h0.7M644.0,356.4h0.7M635.2,344.9h0.7M613.0,370.7h0.7M665.5,374.5h0.7M682.3,365.3h0.7M672.0,375.6h0.7M718.8,351.4h0.7M680.7,357.5h0.7M679.5,376.2h0.7M625.5,369.4h0.7M668.0,360.6h0.7M717.4,347.6h0.7M715.1,356.7h0.7M627.3,350.4h0.7M632.6,362.8h0.7M712.4,370.7h0.7M653.1,380.9h0.7M661.6,343.4h0.7M716.1,363.6h0.7M678.5,342.0h0.7M727.0,367.1h0.7M676.5,349.2h0.7M686.1,375.2h0.7M617.5,366.4h0.7M637.1,350.8h0.7M672.6,335.9h0.7M715.8,364.7h0.7M699.7,371.5h0.7M709.7,374.0h0.7M727.0,361.7h0.7M615.3,368.1h0.7M665.5,374.6h0.7M694.3,354.7h0.7M679.4,339.6h0.7M621.4,370.2h0.7M687.3,376.0h0.7M686.2,339.2h0.7M652.3,374.3h0.7M716.4,369.4h0.7M667.4,355.3h0.7M673.0,376.5h0.7M634.8,370.6h0.7M685.3,357.7h0.7M696.5,328.2h0.7M697.0,374.5h0.7M670.4,351.6h0.7M679.2,364.7h0.7M678.3,346.4h0.7M610.2,371.0h0.7M721.9,352.2h0.7M686.3,348.0h0.7M619.4,366.5h0.7M686.1,381.2h0.7M607.2,360.2h0.7M676.2,382.4h0.7M685.1,342.4h0.7M686.8,372.2h0.7M691.0,340.7h0.7M702.9,338.1h0.7M638.3,350.0h0.7M675.6,364.1h0.7M713.3,364.1h0.7M707.7,348.1h0.7M639.0,358.6h0.7M690.9,361.7h0.7M675.5,367.8h0.7M695.1,359.6h0.7M617.1,352.5h0.7M709.8,371.8h0.7M671.0,351.0h0.7M623.9,361.9h0.7M662.9,375.7h0.7M647.9,376.2h0.7M705.5,335.3h0.7M689.6,359.8h0.7M636.1,349.8h0.7M716.0,357.5h0.7M653.9,347.5h0.7M713.4,355.0h0.7M627.6,360.8h0.7M667.1,371.2h0.7M644.4,363.5h0.7M619.3,346.3h0.7M712.0,350.6h0.7M653.5,362.6h0.7M693.3,355.9h0.7M652.0,354.0h0.7M719.7,370.0h0.7M609.8,363.4h0.7M719.7,359.5h0.7M627.0,372.7h0.7M643.8,371.8h0.7M675.6,359.1h0.7M675.6,378.2h0.7M660.9,346.4h0.7M631.3,371.6h0.7M696.3,341.9h0.7M714.0,347.4h0.7M674.5,369.4h0.7M695.3,358.5h0.7M688.0,361.7h0.7M678.0,378.9h0.7M674.5,330.1h0.7M698.8,359.7h0.7M615.6,361.1h0.7M615.0,359.6h0.7M695.2,358.0h0.7M694.0,341.2h0.7M679.5,350.0h0.7M664.5,346.8h0.7M617.4,358.1h0.7M678.0,359.2h0.7M706.7,344.9h0.7M684.7,386.0h0.7M667.7,377.1h0.7M615.6,359.3h0.7M713.2,349.8h0.7M717.7,375.2h0.7M716.5,368.1h0.7M719.7,361.7h0.7M667.0,333.7h0.7M631.2,336.2h0.7M711.4,387.8h0.7M621.1,381.4h0.7M642.9,380.4h0.7M681.8,357.7h0.7M675.2,332.3h0.7M647.1,366.1h0.7M616.9,364.7h0.7M637.8,371.6h0.7M701.0,338.7h0.7M647.7,345.8h0.7M696.5,374.4h0.7M608.9,371.8h0.7M720.1,368.2h0.7M675.1,376.6h0.7M688.4,342.2h0.7M643.3,356.6h0.7M629.7,371.7h0.7M685.2,355.6h0.7M712.6,325.8h0.7M651.5,345.5h0.7M625.1,349.3h0.7M695.2,346.1h0.7M616.6,372.9h0.7M622.1,372.1h0.7M619.0,369.7h0.7M649.1,370.9h0.7M619.8,346.2h0.7M650.1,342.9h0.7M682.2,369.3h0.7M666.0,330.7h0.7M664.6,341.0h0.7M710.6,379.4h0.7M644.3,372.0h0.7M703.0,382.8h0.7M664.1,353.3h0.7M668.1,375.2h0.7M687.3,376.5h0.7M657.0,373.0h0.7M696.5,351.9h0.7M686.9,338.5h0.7M657.5,381.3h0.7M678.9,375.1h0.7M673.4,376.8h0.7M696.9,335.7h0.7M676.1,383.0h0.7M608.8,365.8h0.7M684.0,356.6h0.7M628.0,353.9h0.7M670.7,359.2h0.7M711.3,346.1h0.7M613.3,361.7h0.7M601.4,357.3h0.7M674.5,344.4h0.7M706.7,371.3h0.7M680.7,379.7h0.7M689.0,382.5h0.7M724.3,363.8h0.7M716.6,361.1h0.7" stroke="#3a3a3a" stroke-width="0.75" fill="none"/>
<path d="M686.5,361.0 685.0,361.4 683.5,361.4 682.0,361.1 681.0,360.5 681.0,359.2 682.0,358.6 683.5,358.3 685.0,358.3 686.2,358.5 687.2,359.0 687.7,360.0 686.6,361.0 M684.5,362.5 683.0,362.5 681.5,362.2 680.0,361.7 679.0,361.2 678.2,360.0 679.0,358.5 680.0,357.9 681.3,357.5 682.5,357.3 684.0,357.1 685.5,357.2 687.0,357.4 688.5,358.0 689.5,358.6 690.1,360.0 689.5,361.0 688.5,361.6 687.0,362.2 685.5,362.5 M687.0,363.1 685.5,363.3 684.0,363.3 682.5,363.2 681.0,363.0 679.5,362.6 678.0,362.0 677.0,361.3 676.3,360.0 676.9,358.5 678.0,357.7 679.0,357.3 680.5,356.8 681.9,356.5 683.0,356.4 684.5,356.3 686.0,356.4 687.5,356.6 688.8,357.0 690.0,357.5 691.0,358.2 691.7,359.5 691.5,360.7 690.5,361.7 689.5,362.3 688.0,362.8 M685.0,364.0 683.5,364.0 682.0,363.9 680.5,363.7 679.0,363.3 677.5,362.8 676.5,362.3 675.5,361.7 674.6,360.5 674.7,359.0 675.5,358.1 676.5,357.4 677.5,356.9 679.0,356.3 680.3,356.0 681.5,355.8 683.0,355.6 684.5,355.6 686.0,355.6 687.5,355.8 689.0,356.2 690.1,356.5 691.1,357.0 692.5,358.0 693.2,359.0 693.2,360.5 692.5,361.5 691.5,362.3 690.5,362.9 689.0,363.4 687.5,363.8 686.0,364.0 M686.5,364.5 685.0,364.6 683.5,364.6 682.0,364.5 680.5,364.3 679.0,364.0 677.5,363.6 676.0,363.1 675.0,362.6 674.0,361.9 673.2,361.0 672.9,359.5 673.4,358.5 674.5,357.5 675.5,356.9 676.5,356.4 677.6,356.0 679.0,355.6 680.5,355.3 682.0,355.1 683.5,354.9 685.0,354.9 686.4,355.0 687.5,355.1 689.0,355.4 690.5,355.8 692.0,356.5 693.0,357.1 693.9,358.0 694.5,359.0 694.5,360.5 694.0,361.5 693.0,362.4 692.1,363.0 691.0,363.5 689.5,364.0 688.0,364.3 686.8,364.5 M688.0,365.0 686.5,365.2 685.0,365.3 683.5,365.3 682.0,365.2 680.5,365.0 679.0,364.7 677.9,364.5 676.5,364.1 675.0,363.5 674.0,363.1 673.0,362.5 672.0,361.7 671.2,360.5 671.3,359.0 672.0,358.1 673.0,357.3 674.0,356.6 675.0,356.2 676.5,355.6 678.0,355.1 679.5,354.8 681.0,354.5 682.5,354.4 684.0,354.3 685.5,354.3 687.0,354.4 688.5,354.6 690.0,354.9 691.5,355.4 692.9,356.0 694.0,356.7 695.0,357.5 695.7,358.5 695.9,360.0 695.5,361.3 694.5,362.4 693.5,363.2 692.5,363.7 691.0,364.3 689.5,364.7 688.0,365.0 M688.5,365.6 687.0,365.7 685.5,365.8 684.0,365.9 682.5,365.8 681.0,365.7 679.6,365.5 678.5,365.3 677.2,365.0 676.0,364.7 674.5,364.2 673.0,363.6 672.0,363.1 671.0,362.4 670.0,361.5 669.4,360.5 669.5,359.0 670.2,358.0 671.5,357.0 672.5,356.4 673.5,355.9 674.5,355.5 675.9,355.0 677.0,354.7 678.5,354.3 680.0,354.0 681.5,353.8 683.0,353.7 684.5,353.6 686.0,353.7 687.5,353.8 689.0,354.0 690.5,354.3 692.0,354.8 693.5,355.4 694.5,355.9 695.5,356.7 696.3,357.5 696.9,358.5 697.2,360.0 696.7,361.5 695.9,362.5 695.0,363.2 694.0,363.8 693.0,364.3 691.5,364.9 690.0,365.3 688.8,365.5 M689.5,366.0 688.0,366.3 686.5,366.4 685.0,366.5 683.5,366.5 682.0,366.4 680.5,366.3 679.0,366.0 677.5,365.8 676.3,365.5 675.0,365.1 673.5,364.7 672.0,364.1 671.0,363.6 670.0,363.1 669.0,362.5 668.0,361.7 667.2,360.5 667.4,359.0 668.1,358.0 669.4,357.0 670.5,356.4 671.5,355.9 673.0,355.2 674.5,354.7 676.0,354.2 677.5,353.8 679.0,353.5 680.5,353.3 682.0,353.1 683.5,353.0 685.0,353.0 686.5,353.0 688.0,353.2 689.5,353.4 691.0,353.7 692.1,354.0 693.5,354.5 694.5,354.9 695.5,355.5 696.5,356.2 697.3,357.0 698.0,358.0 698.4,359.0 698.4,360.5 697.7,362.0 696.8,363.0 695.5,363.9 694.5,364.5 693.3,365.0 692.0,365.4 690.5,365.8 M686.0,367.0 684.5,367.0 683.0,367.0 681.5,366.9 680.0,366.8 678.5,366.6 677.0,366.3 675.7,366.0 674.5,365.7 673.0,365.2 671.5,364.7 670.0,364.1 668.6,363.5 667.5,362.9 666.5,362.3 665.5,361.5 664.8,360.5 665.0,359.0 665.9,358.0 667.0,357.2 668.0,356.6 669.0,356.1 670.0,355.6 671.5,355.0 672.5,354.6 674.0,354.1 675.5,353.7 677.0,353.3 678.5,353.0 680.0,352.7 681.5,352.6 683.0,352.4 684.5,352.4 686.0,352.4 687.5,352.5 689.0,352.6 690.5,352.9 692.0,353.2 693.5,353.7 695.0,354.3 696.0,354.9 697.0,355.5 698.0,356.3 699.0,357.5 699.4,358.5 699.6,360.0 699.2,361.5 698.5,362.5 697.5,363.5 696.5,364.2 695.5,364.8 694.5,365.3 693.0,365.8 691.5,366.2 690.3,366.5 689.0,366.7 687.5,366.9 686.2,367.0 M687.0,367.5 685.5,367.6 684.0,367.6 682.5,367.6 681.0,367.5 679.5,367.3 678.0,367.1 676.5,366.8 675.1,366.5 674.0,366.2 672.5,365.8 671.4,365.5 670.0,365.0 668.5,364.5 667.2,364.0 666.0,363.5 665.0,363.0 664.0,362.5 663.0,362.0 662.0,361.3 661.2,360.0 662.0,358.6 663.0,357.9 664.0,357.3 665.0,356.8 666.0,356.4 667.0,355.9 668.5,355.3 670.0,354.7 671.5,354.2 673.0,353.7 674.5,353.3 676.0,352.9 677.5,352.5 679.0,352.3 680.5,352.0 682.0,351.9 683.5,351.8 685.0,351.7 686.5,351.8 688.0,351.9 689.2,352.0 690.5,352.2 691.9,352.5 693.0,352.8 694.5,353.3 696.0,354.0 697.0,354.5 698.0,355.2 699.0,356.0 699.9,357.0 700.4,358.0 700.8,359.5 700.6,361.0 700.1,362.0 699.4,363.0 698.5,363.8 697.6,364.5 696.5,365.1 695.5,365.6 694.0,366.2 692.5,366.6 691.0,367.0 689.5,367.3 688.0,367.4 M687.5,368.0 686.0,368.1 684.5,368.1 683.0,368.1 681.5,368.0 680.0,367.9 678.5,367.7 677.3,367.5 676.0,367.3 674.8,367.0 673.5,366.7 672.0,366.3 670.8,366.0 669.5,365.6 668.0,365.1 666.5,364.7 665.0,364.2 663.5,363.6 662.0,363.1 660.5,362.6 659.0,362.1 657.5,361.5 656.5,361.0 655.8,360.0 656.5,359.0 657.5,358.4 659.0,357.8 660.5,357.3 662.0,356.7 663.5,356.2 665.0,355.7 666.5,355.2 668.0,354.6 669.5,354.1 671.0,353.6 672.5,353.2 674.0,352.8 675.5,352.4 677.0,352.1 678.5,351.8 680.0,351.5 681.5,351.4 683.0,351.2 684.5,351.2 686.0,351.2 687.5,351.2 689.0,351.4 690.5,351.6 692.0,351.9 693.5,352.3 695.0,352.8 696.5,353.4 697.5,354.0 698.5,354.6 699.5,355.3 700.5,356.4 701.3,357.5 701.8,359.0 701.8,360.5 701.2,362.0 700.5,363.0 699.5,364.0 698.5,364.7 697.5,365.3 696.5,365.8 695.0,366.5 693.5,367.0 692.0,367.3 690.5,367.6 689.0,367.9 687.7,368.0 M687.0,368.5 685.5,368.6 684.0,368.6 682.5,368.5 681.0,368.4 679.5,368.3 678.0,368.1 676.5,367.9 675.0,367.6 673.5,367.3 672.4,367.0 671.0,366.7 669.5,366.3 668.0,365.8 666.8,365.5 665.5,365.2 664.0,364.8 662.5,364.4 661.0,364.0 659.5,363.7 658.0,363.4 656.5,363.1 655.0,362.7 653.5,362.3 652.0,361.7 651.0,361.0 650.5,360.0 651.0,359.0 652.0,358.3 653.0,357.9 654.1,357.5 655.5,357.1 657.0,356.8 658.2,356.5 659.5,356.2 661.0,355.9 662.5,355.5 664.0,355.1 665.5,354.7 667.0,354.2 668.5,353.8 670.0,353.3 671.5,352.9 672.8,352.5 674.0,352.2 675.5,351.8 677.0,351.5 678.5,351.2 680.0,351.0 681.5,350.8 683.0,350.7 684.5,350.6 686.0,350.6 687.5,350.7 689.0,350.8 690.3,351.0 691.5,351.2 692.8,351.5 694.0,351.8 695.5,352.3 697.0,353.0 698.0,353.5 699.0,354.1 700.0,354.8 701.0,355.7 702.0,357.0 702.5,358.0 702.8,359.5 702.6,361.0 702.0,362.3 701.1,363.5 700.0,364.5 699.0,365.2 698.0,365.8 697.0,366.3 695.5,366.9 694.0,367.4 692.5,367.8 691.3,368.0 690.0,368.2 688.5,368.4 687.0,368.5 M687.5,369.0 686.0,369.1 684.5,369.1 683.0,369.1 681.6,369.0 680.5,368.9 679.0,368.8 677.5,368.5 676.0,368.3 674.5,368.0 673.0,367.7 671.5,367.4 670.0,367.0 668.5,366.7 667.0,366.3 665.7,366.0 664.5,365.7 663.4,365.5 662.0,365.2 660.7,365.0 659.5,364.8 658.0,364.6 656.5,364.4 655.0,364.2 653.5,363.9 652.0,363.6 650.5,363.2 649.0,362.6 648.0,362.1 647.1,361.5 646.4,360.5 646.8,359.0 648.0,358.0 649.0,357.5 650.1,357.0 651.5,356.6 653.0,356.2 654.5,355.9 656.0,355.7 657.5,355.4 659.0,355.2 660.1,355.0 661.5,354.7 662.7,354.5 664.0,354.2 665.5,353.8 666.8,353.5 668.0,353.2 669.5,352.8 671.0,352.4 672.4,352.0 673.5,351.7 675.0,351.4 676.5,351.0 678.0,350.8 679.5,350.5 681.0,350.3 682.5,350.2 684.0,350.1 685.5,350.1 687.0,350.1 688.5,350.2 690.0,350.3 691.1,350.5 692.5,350.8 694.0,351.1 695.2,351.5 696.5,352.0 697.7,352.5 698.6,353.0 700.0,353.8 700.9,354.5 702.0,355.5 702.8,356.5 703.3,357.5 703.8,359.0 703.7,360.5 703.2,362.0 702.6,363.0 701.7,364.0 700.5,365.0 699.5,365.7 698.5,366.3 697.5,366.7 696.0,367.3 694.5,367.8 693.0,368.2 691.6,368.5 690.5,368.7 689.0,368.9 687.7,369.0 M688.5,369.5 687.0,369.6 685.5,369.7 684.0,369.7 682.5,369.6 681.0,369.5 679.5,369.4 678.0,369.2 676.6,369.0 675.5,368.8 674.0,368.5 672.5,368.3 671.3,368.0 670.0,367.7 668.5,367.4 667.0,367.1 665.5,366.8 664.0,366.5 662.5,366.3 661.0,366.0 659.5,365.9 658.0,365.7 656.5,365.5 655.0,365.4 653.5,365.2 652.0,364.9 650.5,364.6 649.0,364.3 647.9,364.0 646.5,363.5 645.1,363.0 644.1,362.5 643.0,361.8 642.2,360.5 643.0,359.0 644.0,358.1 645.0,357.4 646.0,356.9 647.5,356.3 649.0,355.8 650.5,355.4 652.0,355.1 653.5,354.8 655.0,354.6 656.5,354.4 658.0,354.2 659.5,354.1 661.0,353.8 662.5,353.6 664.0,353.3 665.5,353.0 667.0,352.7 668.5,352.3 669.6,352.0 671.0,351.7 672.5,351.3 673.7,351.0 675.0,350.7 676.5,350.4 678.0,350.1 679.5,349.9 681.0,349.7 682.5,349.5 684.0,349.4 685.5,349.4 687.0,349.4 688.5,349.5 690.0,349.6 691.5,349.9 693.0,350.2 694.4,350.5 695.5,350.8 697.0,351.4 698.4,352.0 699.5,352.6 700.5,353.2 701.5,353.9 702.5,354.7 703.5,355.9 704.2,357.0 704.8,358.5 704.9,360.0 704.6,361.5 704.1,362.5 703.4,363.5 702.5,364.5 701.5,365.3 700.5,366.0 699.5,366.5 698.5,367.0 697.5,367.5 696.1,368.0 695.0,368.3 693.5,368.7 692.3,369.0 691.0,369.2 689.5,369.4 M690.0,370.0 688.5,370.2 687.0,370.3 685.5,370.3 684.0,370.3 682.5,370.2 681.0,370.1 679.5,370.0 678.0,369.8 676.5,369.6 675.0,369.4 673.5,369.1 672.0,368.8 670.5,368.5 669.0,368.3 667.7,368.0 666.5,367.8 665.0,367.5 663.5,367.3 662.0,367.1 660.5,366.9 659.0,366.8 657.5,366.7 656.0,366.5 654.5,366.4 653.0,366.2 651.5,366.0 650.0,365.8 648.5,365.5 647.0,365.2 645.5,364.8 644.0,364.4 642.8,364.0 641.5,363.6 640.0,363.1 638.5,362.7 637.0,362.2 635.6,361.5 636.3,360.5 637.5,359.8 638.5,359.1 639.5,358.5 640.5,357.9 641.5,357.3 642.5,356.8 643.5,356.3 645.0,355.7 646.5,355.1 648.0,354.7 649.5,354.3 651.0,354.1 652.5,353.8 654.0,353.6 655.2,353.5 656.5,353.4 658.0,353.2 659.5,353.1 661.0,352.9 662.5,352.7 663.6,352.5 665.0,352.2 666.2,352.0 667.5,351.7 669.0,351.4 670.5,351.0 672.0,350.7 673.5,350.3 675.0,350.0 676.5,349.7 678.0,349.4 679.5,349.2 680.8,349.0 682.0,348.9 683.5,348.7 685.0,348.7 686.5,348.7 688.0,348.7 689.5,348.8 691.0,349.0 692.5,349.2 693.7,349.5 695.0,349.8 696.5,350.3 698.0,350.9 699.0,351.3 700.0,351.8 701.0,352.4 702.0,353.1 703.0,353.9 704.0,354.9 704.9,356.0 705.5,357.0 706.0,358.5 706.1,360.0 705.8,361.5 705.4,362.5 704.7,363.5 703.8,364.5 703.0,365.2 702.0,366.0 701.0,366.6 700.0,367.2 699.0,367.7 697.5,368.3 696.0,368.8 694.5,369.2 693.1,369.5 692.0,369.7 690.5,369.9 M691.0,370.6 689.5,370.7 688.0,370.9 686.5,370.9 685.0,370.9 683.5,370.9 682.0,370.9 680.5,370.7 679.0,370.6 677.5,370.4 676.0,370.2 674.8,370.0 673.5,369.8 672.0,369.5 670.5,369.3 669.1,369.0 667.5,368.7 666.1,368.5 664.5,368.3 663.0,368.1 661.5,367.9 660.0,367.8 658.5,367.7 657.0,367.6 655.7,367.5 654.5,367.4 653.0,367.3 651.5,367.1 650.0,366.9 648.5,366.7 647.0,366.4 645.5,366.0 644.0,365.7 642.5,365.3 641.0,365.0 639.5,364.7 638.0,364.4 636.5,364.2 635.0,364.1 633.8,364.0 632.5,363.9 631.0,363.7 629.7,363.5 628.5,363.1 627.5,362.6 627.0,361.5 628.0,360.6 629.0,360.1 630.5,359.6 632.0,359.2 633.5,358.9 634.7,358.5 636.0,358.1 637.4,357.5 638.5,357.0 639.5,356.5 640.5,356.1 641.5,355.6 643.0,355.0 644.0,354.6 645.5,354.1 647.0,353.7 648.5,353.4 650.0,353.1 651.5,352.9 653.0,352.7 654.5,352.6 656.0,352.4 657.5,352.3 659.0,352.2 660.5,352.0 662.0,351.8 663.5,351.6 665.0,351.4 666.5,351.1 668.0,350.8 669.4,350.5 671.0,350.1 672.5,349.8 673.9,349.5 675.0,349.2 676.2,349.0 677.5,348.8 679.0,348.5 680.5,348.3 682.0,348.1 683.2,348.0 684.5,347.9 686.0,347.9 687.5,347.9 689.0,348.0 690.5,348.1 692.0,348.3 693.5,348.6 695.0,349.0 696.5,349.4 698.0,350.0 699.3,350.5 700.3,351.0 701.5,351.7 702.5,352.3 703.4,353.0 704.5,353.9 705.5,355.0 706.2,356.0 706.8,357.0 707.2,358.5 707.3,360.0 707.0,361.5 706.5,362.7 705.6,364.0 704.7,365.0 703.5,366.0 702.5,366.7 701.5,367.3 700.5,367.8 699.5,368.3 698.0,368.9 696.5,369.4 695.0,369.8 693.5,370.1 692.0,370.4 M690.5,371.6 689.0,371.7 687.5,371.8 686.0,371.8 684.5,371.8 683.0,371.8 681.5,371.7 680.0,371.6 678.5,371.4 677.0,371.2 675.5,371.0 674.0,370.8 672.5,370.5 671.0,370.3 669.5,370.0 668.0,369.8 666.5,369.6 665.0,369.4 663.5,369.2 662.0,369.1 660.6,369.0 659.0,368.9 657.5,368.8 656.0,368.7 654.5,368.6 653.0,368.5 651.5,368.4 650.0,368.2 648.5,368.0 647.0,367.8 645.6,367.5 644.5,367.3 643.2,367.0 642.0,366.8 640.8,366.5 639.5,366.3 638.0,366.0 636.5,365.8 635.0,365.7 633.5,365.5 632.0,365.4 630.5,365.3 629.0,365.1 627.5,364.8 626.4,364.5 625.0,364.0 624.0,363.4 623.2,362.5 623.3,361.0 624.4,360.0 625.5,359.4 627.0,358.8 628.5,358.4 629.8,358.0 631.0,357.7 632.5,357.3 634.0,356.8 635.5,356.3 637.0,355.7 638.5,355.1 639.8,354.5 641.0,354.0 642.5,353.5 644.0,353.0 645.5,352.6 647.0,352.3 648.5,352.0 650.0,351.8 651.5,351.6 653.0,351.5 654.5,351.3 656.0,351.2 657.5,351.1 658.8,351.0 660.0,350.9 661.5,350.8 663.0,350.6 664.5,350.4 666.0,350.1 667.5,349.9 669.0,349.6 670.5,349.2 672.0,348.9 673.5,348.6 675.0,348.2 676.1,348.0 677.5,347.7 678.8,347.5 680.0,347.3 681.5,347.1 683.0,346.9 684.5,346.8 686.0,346.8 687.5,346.8 689.0,346.8 690.5,347.0 692.0,347.2 693.5,347.4 695.0,347.8 696.5,348.2 698.0,348.7 699.5,349.3 700.5,349.7 701.5,350.2 702.5,350.8 703.5,351.4 704.5,352.2 705.5,353.0 706.5,354.0 707.3,355.0 708.0,356.0 708.5,357.0 708.9,358.5 709.0,360.0 708.7,361.5 708.0,363.0 707.4,364.0 706.5,365.0 705.5,366.0 704.5,366.7 703.5,367.4 702.5,368.0 701.5,368.5 700.5,369.0 699.3,369.5 698.0,369.9 696.5,370.4 695.0,370.8 693.5,371.1 692.0,371.4 690.5,371.6 M689.0,373.0 687.5,373.1 686.0,373.1 684.5,373.1 683.0,373.1 681.5,373.0 680.0,372.8 678.5,372.7 677.1,372.5 675.5,372.3 674.0,372.1 672.5,371.8 671.0,371.6 669.5,371.4 668.0,371.2 666.5,371.0 665.0,370.8 663.5,370.7 662.0,370.6 660.5,370.5 659.0,370.4 657.5,370.4 656.0,370.3 654.5,370.2 653.0,370.1 651.5,370.0 650.0,369.9 648.5,369.7 647.1,369.5 645.5,369.3 644.1,369.0 643.0,368.8 641.6,368.5 640.0,368.2 638.5,367.9 637.0,367.7 635.5,367.4 634.0,367.3 632.5,367.1 631.0,366.9 629.5,366.8 628.0,366.5 626.5,366.3 625.3,366.0 624.0,365.6 622.5,365.1 621.5,364.6 620.5,363.9 619.7,363.0 619.4,361.5 619.9,360.5 620.9,359.5 622.0,358.8 623.0,358.3 624.5,357.7 626.0,357.2 627.5,356.8 629.0,356.3 630.1,356.0 631.5,355.5 633.0,355.0 634.3,354.5 635.5,354.0 636.7,353.5 638.0,353.0 639.0,352.6 640.5,352.1 642.0,351.6 643.5,351.2 645.0,350.9 646.5,350.6 648.0,350.4 649.5,350.2 651.0,350.0 652.5,349.9 654.0,349.7 655.5,349.6 657.0,349.5 658.5,349.5 660.0,349.3 661.5,349.2 663.0,349.1 664.5,348.9 666.0,348.6 667.5,348.4 669.0,348.1 670.5,347.7 672.0,347.4 673.5,347.1 675.0,346.7 676.5,346.4 678.0,346.1 679.5,345.8 681.0,345.6 682.5,345.4 684.0,345.2 685.5,345.2 687.0,345.1 688.5,345.1 690.0,345.2 691.5,345.4 693.0,345.6 694.5,345.9 696.0,346.2 697.5,346.6 698.5,347.0 699.9,347.5 701.0,348.0 702.0,348.5 703.0,349.0 704.0,349.6 705.0,350.2 706.0,350.9 707.0,351.8 708.0,352.7 709.0,353.8 709.9,355.0 710.4,356.0 711.0,357.5 711.3,359.0 711.2,360.5 710.8,362.0 710.1,363.5 709.5,364.5 708.6,365.5 707.6,366.5 706.5,367.4 705.5,368.1 704.5,368.7 703.5,369.3 702.5,369.8 701.5,370.2 700.0,370.8 698.5,371.3 697.0,371.8 695.5,372.1 694.0,372.4 692.5,372.7 691.0,372.9 689.5,373.0 M689.0,375.5 687.5,375.6 686.0,375.6 684.5,375.5 683.0,375.5 681.5,375.3 680.0,375.2 678.5,375.0 677.0,374.8 675.5,374.6 674.0,374.4 672.5,374.2 671.0,373.9 669.5,373.7 668.0,373.5 666.5,373.4 665.0,373.2 663.5,373.1 662.0,373.0 660.5,373.0 659.0,372.9 657.5,372.9 656.0,372.8 654.5,372.8 653.0,372.7 651.5,372.6 650.0,372.5 648.5,372.3 647.0,372.2 645.9,372.0 644.5,371.8 643.0,371.5 641.5,371.3 640.2,371.0 639.0,370.8 637.8,370.5 636.5,370.2 635.3,370.0 634.0,369.8 632.5,369.5 631.0,369.3 629.5,369.0 628.0,368.8 626.5,368.5 625.0,368.2 623.9,368.0 622.5,367.6 621.0,367.2 619.5,366.6 618.5,366.2 617.5,365.6 616.5,364.9 615.6,364.0 615.0,363.0 614.8,361.5 615.4,360.0 616.3,359.0 617.5,358.1 618.4,357.5 619.5,357.0 620.5,356.5 621.7,356.0 623.0,355.5 624.4,355.0 625.5,354.6 627.0,354.0 628.4,353.5 629.5,353.0 630.7,352.5 631.9,352.0 633.0,351.5 634.3,351.0 635.5,350.5 637.0,350.0 638.5,349.6 640.0,349.2 641.5,348.8 643.0,348.5 644.5,348.2 645.9,348.0 647.5,347.8 649.0,347.6 650.1,347.5 651.5,347.4 653.0,347.3 654.5,347.2 656.0,347.1 657.4,347.0 658.5,346.9 660.0,346.8 661.5,346.7 663.0,346.5 664.5,346.3 666.0,346.0 667.5,345.7 668.6,345.5 670.0,345.2 671.5,344.8 673.0,344.4 674.5,344.0 676.0,343.6 677.5,343.3 678.8,343.0 680.0,342.8 681.5,342.5 683.0,342.3 684.5,342.2 686.0,342.1 687.5,342.1 689.0,342.1 690.5,342.2 692.0,342.3 693.5,342.5 695.0,342.8 696.1,343.0 697.5,343.3 699.0,343.8 700.5,344.3 702.0,344.9 703.4,345.5 704.4,346.0 705.5,346.6 706.5,347.2 707.5,347.9 708.5,348.6 709.5,349.4 710.5,350.3 711.5,351.3 712.5,352.5 713.2,353.5 713.8,354.5 714.3,355.5 714.9,357.0 715.2,358.5 715.2,360.0 715.0,361.4 714.7,362.5 714.0,364.0 713.4,365.0 712.6,366.0 711.7,367.0 710.6,368.0 709.5,368.9 708.5,369.6 707.5,370.3 706.5,370.8 705.5,371.4 704.5,371.9 703.5,372.3 702.0,372.9 700.5,373.5 699.0,373.9 697.5,374.3 696.0,374.7 694.5,374.9 693.0,375.2 691.5,375.3 690.0,375.5" fill="none" stroke="#5e5e5e" stroke-width="0.45" clip-path="url(#cp1)"/>
<path d="M828.0,357.0h0.7M854.6,380.2h0.7M787.8,346.3h0.7M830.5,343.0h0.7M859.8,383.4h0.7M799.6,335.0h0.7M878.0,363.1h0.7M819.6,368.5h0.7M853.7,391.7h0.7M805.6,377.0h0.7M885.4,359.0h0.7M889.9,355.2h0.7M825.4,330.8h0.7M809.7,350.6h0.7M783.5,362.8h0.7M785.3,366.0h0.7M824.8,388.2h0.7M869.9,352.6h0.7M824.7,340.1h0.7M808.4,340.2h0.7M888.8,342.4h0.7M856.8,361.6h0.7M774.6,365.1h0.7M900.8,354.3h0.7M820.5,387.1h0.7M813.6,340.2h0.7M787.7,360.3h0.7M786.5,353.9h0.7M876.7,373.4h0.7M799.7,343.8h0.7M785.5,365.9h0.7M816.0,378.4h0.7M853.6,340.8h0.7M783.6,359.6h0.7M774.0,363.6h0.7M784.3,368.4h0.7M887.4,359.2h0.7M819.9,340.5h0.7M850.9,338.1h0.7M876.1,386.7h0.7M805.3,384.9h0.7M842.2,381.1h0.7M796.1,362.2h0.7M900.0,361.9h0.7M870.0,332.3h0.7M781.2,362.6h0.7M884.3,359.5h0.7M827.0,334.8h0.7M819.2,378.4h0.7M849.4,367.3h0.7M838.5,382.2h0.7M816.9,339.4h0.7M848.2,330.3h0.7M789.7,357.1h0.7M806.4,337.2h0.7M855.9,378.5h0.7M837.4,356.1h0.7M811.0,339.5h0.7M797.5,344.8h0.7M828.9,386.3h0.7M863.7,345.0h0.7M791.7,350.7h0.7M815.4,377.7h0.7M802.9,331.5h0.7M806.8,335.7h0.7M838.9,372.8h0.7M791.2,377.8h0.7M806.1,377.8h0.7M872.0,377.6h0.7M885.0,331.4h0.7M825.8,339.4h0.7M815.2,335.8h0.7M794.0,372.9h0.7M870.0,344.1h0.7M864.7,362.0h0.7M818.1,337.3h0.7M885.1,370.1h0.7M892.0,346.9h0.7M853.9,336.3h0.7M787.2,358.2h0.7M843.6,366.0h0.7M804.3,378.1h0.7M849.0,352.2h0.7M833.3,338.8h0.7M792.8,342.2h0.7M784.9,366.3h0.7M854.2,339.3h0.7M772.4,357.0h0.7M827.2,367.9h0.7M814.1,337.2h0.7M830.7,338.0h0.7M902.7,345.9h0.7M897.5,330.0h0.7M891.5,356.1h0.7M859.1,379.3h0.7M789.5,349.1h0.7M804.7,377.5h0.7M827.1,343.1h0.7M867.2,343.5h0.7M803.6,363.4h0.7M779.6,357.7h0.7M829.7,379.4h0.7M801.2,353.8h0.7M846.6,365.3h0.7M892.1,365.3h0.7M827.8,352.9h0.7M798.3,362.1h0.7M877.5,372.5h0.7M859.5,333.5h0.7M796.1,326.5h0.7M775.4,361.0h0.7M782.2,364.3h0.7M886.5,357.8h0.7M795.8,381.3h0.7M780.8,360.3h0.7M785.6,367.0h0.7M790.0,346.5h0.7M831.9,337.2h0.7M784.2,338.6h0.7M818.9,340.4h0.7M844.7,379.3h0.7M841.8,337.8h0.7M786.1,356.6h0.7M869.1,358.1h0.7M884.1,369.6h0.7M864.9,382.8h0.7M901.2,359.7h0.7M867.6,342.4h0.7M869.4,379.2h0.7M872.6,342.3h0.7M832.2,378.6h0.7M847.3,359.5h0.7M782.6,362.9h0.7M857.9,370.0h0.7M803.5,354.3h0.7M836.5,379.7h0.7M878.7,364.1h0.7M779.4,366.6h0.7M800.1,344.9h0.7M828.1,372.8h0.7M833.6,345.0h0.7M852.8,340.6h0.7M820.0,339.9h0.7M810.9,381.0h0.7M838.3,336.3h0.7M791.1,342.8h0.7M872.0,362.2h0.7M815.9,355.8h0.7M896.1,342.4h0.7M881.0,367.0h0.7M784.7,372.6h0.7M836.1,385.3h0.7M845.7,381.6h0.7M890.2,349.6h0.7M848.8,363.4h0.7M877.0,347.5h0.7M849.2,358.9h0.7M840.6,337.2h0.7M810.9,361.7h0.7M879.9,345.3h0.7M845.6,361.4h0.7M858.3,341.9h0.7M886.4,373.6h0.7M818.5,366.3h0.7M896.8,356.1h0.7M863.8,377.7h0.7M839.3,366.2h0.7M872.7,372.9h0.7M778.4,371.5h0.7M834.6,346.3h0.7M843.7,382.6h0.7M797.4,378.9h0.7M850.8,380.0h0.7M871.1,382.6h0.7M800.6,363.6h0.7M803.8,380.0h0.7M855.7,348.3h0.7M831.3,356.3h0.7M896.2,373.2h0.7M802.2,376.1h0.7M788.6,339.7h0.7M839.7,386.9h0.7M821.2,359.9h0.7M813.0,370.6h0.7M855.9,351.1h0.7M881.8,366.4h0.7M856.7,375.9h0.7M826.2,374.6h0.7M853.7,379.3h0.7M869.1,338.6h0.7M887.6,368.5h0.7M890.5,368.8h0.7M839.0,362.3h0.7M888.0,359.8h0.7M812.8,358.7h0.7M822.1,360.4h0.7M833.7,335.4h0.7M882.2,351.7h0.7M791.7,348.5h0.7M790.5,348.6h0.7M884.9,368.5h0.7M876.4,344.0h0.7M786.7,343.4h0.7M789.3,341.6h0.7M883.0,350.3h0.7M800.9,358.5h0.7M804.7,381.0h0.7M819.3,332.2h0.7M781.0,356.6h0.7M812.2,340.6h0.7M797.4,367.5h0.7M773.9,360.4h0.7M876.8,371.2h0.7M827.4,379.9h0.7M807.8,355.4h0.7M811.0,359.8h0.7M855.5,372.5h0.7M785.8,381.4h0.7M877.2,359.9h0.7M829.7,355.9h0.7" stroke="#3a3a3a" stroke-width="0.75" fill="none"/>
<path d="M843.5,360.5 842.0,360.7 840.5,360.8 839.0,360.9 837.5,360.9 836.0,360.9 834.5,360.7 833.0,360.5 831.5,360.1 831.3,359.0 832.5,358.6 834.0,358.3 835.5,358.1 837.0,358.0 838.5,358.0 840.0,358.1 841.5,358.2 843.0,358.4 844.5,358.6 845.7,359.0 845.0,360.2 843.7,360.5 M844.5,361.5 843.0,361.6 841.5,361.7 840.0,361.8 838.5,361.8 837.0,361.8 835.5,361.8 834.0,361.7 832.5,361.6 831.0,361.4 829.5,361.2 828.0,360.9 826.7,360.5 825.7,360.0 826.0,358.9 827.5,358.4 828.8,358.0 830.0,357.8 831.5,357.5 833.0,357.4 834.5,357.2 836.0,357.1 837.5,357.1 839.0,357.1 840.5,357.2 842.0,357.2 843.5,357.3 845.0,357.5 846.5,357.7 848.0,358.0 849.5,358.5 850.5,359.5 849.5,360.5 848.0,361.0 846.5,361.2 845.0,361.5 M840.0,362.5 838.5,362.5 837.0,362.5 835.5,362.5 834.0,362.4 832.5,362.3 831.0,362.2 829.5,362.1 828.0,361.9 826.5,361.6 825.0,361.4 823.5,361.1 822.0,360.6 821.1,359.5 822.0,358.7 823.5,358.2 825.0,357.8 826.3,357.5 827.5,357.3 829.0,357.1 830.5,356.9 832.0,356.7 833.5,356.6 834.7,356.5 836.0,356.5 837.5,356.4 839.0,356.4 840.5,356.5 842.0,356.5 843.5,356.6 845.0,356.7 846.5,356.9 848.0,357.1 849.5,357.4 851.0,357.8 852.0,358.3 852.8,359.0 852.5,360.3 851.5,361.0 850.0,361.5 848.5,361.8 847.1,362.0 846.0,362.1 844.5,362.3 843.0,362.4 841.5,362.4 840.2,362.5 M843.0,363.0 841.5,363.1 840.0,363.1 838.5,363.1 837.0,363.1 835.5,363.1 834.0,363.1 832.6,363.0 831.0,362.9 829.5,362.8 828.0,362.6 826.8,362.5 825.5,362.3 824.0,362.1 822.5,361.9 821.0,361.6 819.5,361.1 818.5,360.6 817.9,359.5 818.8,358.5 819.9,358.0 821.0,357.7 822.5,357.3 824.0,357.0 825.5,356.8 827.0,356.6 828.5,356.4 830.0,356.2 831.5,356.1 833.0,356.0 834.5,355.9 836.0,355.8 837.5,355.8 839.0,355.8 840.5,355.8 842.0,355.9 843.5,356.0 845.0,356.1 846.5,356.2 848.0,356.4 849.5,356.6 851.0,356.9 852.5,357.3 853.5,357.8 854.5,358.5 854.8,360.0 854.0,360.8 853.0,361.4 851.5,361.9 850.0,362.3 848.7,362.5 847.5,362.6 846.0,362.8 844.5,362.9 843.1,363.0 M844.5,363.5 843.0,363.6 841.5,363.7 840.0,363.7 838.5,363.7 837.0,363.7 835.5,363.7 834.0,363.7 832.5,363.6 831.0,363.5 829.5,363.4 828.0,363.3 826.5,363.2 825.0,363.0 823.5,362.9 822.0,362.7 820.8,362.5 819.5,362.2 818.0,361.8 816.5,361.1 815.5,360.0 816.0,358.7 816.9,358.0 818.0,357.5 819.5,357.1 821.0,356.7 822.3,356.5 823.5,356.3 825.0,356.1 826.5,355.9 828.0,355.8 829.5,355.6 830.8,355.5 832.0,355.4 833.5,355.3 835.0,355.3 836.5,355.2 838.0,355.2 839.5,355.2 841.0,355.3 842.5,355.3 844.0,355.4 845.5,355.5 847.0,355.6 848.5,355.8 850.0,356.0 851.5,356.2 852.6,356.5 854.0,357.0 855.0,357.5 856.0,358.3 856.5,359.5 856.0,360.7 855.0,361.5 854.0,362.0 852.5,362.5 851.0,362.8 849.5,363.1 848.0,363.2 846.5,363.4 845.0,363.5 M846.5,364.0 845.0,364.1 843.5,364.2 842.0,364.3 840.5,364.3 839.0,364.3 837.5,364.3 836.0,364.3 834.5,364.3 833.0,364.3 831.5,364.2 830.0,364.1 828.5,364.0 827.0,363.9 825.5,363.8 824.0,363.6 822.5,363.5 821.0,363.3 819.5,363.1 818.0,362.8 816.8,362.5 815.5,362.0 814.5,361.4 813.7,360.5 813.7,359.0 814.5,358.1 815.5,357.4 816.5,357.0 818.0,356.5 819.5,356.2 820.6,356.0 822.0,355.8 823.5,355.6 825.0,355.4 826.5,355.2 828.0,355.1 829.5,355.0 831.0,354.8 832.5,354.8 834.0,354.7 835.5,354.6 837.0,354.6 838.5,354.6 840.0,354.6 841.5,354.7 843.0,354.7 844.5,354.8 846.0,354.9 847.4,355.0 848.5,355.1 850.0,355.3 851.4,355.5 852.5,355.7 853.6,356.0 855.0,356.5 856.0,356.9 857.0,357.6 857.7,358.5 858.0,359.6 857.5,360.8 856.5,361.7 855.5,362.3 854.0,362.8 852.5,363.2 851.1,363.5 850.0,363.7 848.5,363.8 847.0,364.0 M848.0,364.5 846.5,364.6 845.0,364.7 843.5,364.8 842.0,364.9 840.5,364.9 839.0,364.9 837.5,365.0 836.0,364.9 834.5,364.9 833.0,364.9 831.5,364.8 830.0,364.7 828.5,364.6 827.0,364.6 825.5,364.4 824.0,364.3 822.5,364.2 821.0,364.1 819.5,363.9 818.0,363.6 816.5,363.3 815.4,363.0 814.2,362.5 813.0,361.8 812.2,361.0 811.8,359.5 812.5,358.2 813.5,357.4 814.5,356.8 816.0,356.3 817.5,355.8 819.0,355.5 820.5,355.3 822.0,355.1 823.5,354.9 825.0,354.7 826.5,354.6 828.0,354.4 829.5,354.3 831.0,354.2 832.5,354.1 834.0,354.1 835.5,354.0 837.0,354.0 838.5,354.0 840.0,354.0 841.5,354.1 843.0,354.1 844.5,354.2 846.0,354.3 847.5,354.4 848.8,354.5 850.0,354.6 851.5,354.8 853.0,355.1 854.5,355.5 856.0,356.0 857.0,356.5 858.0,357.1 858.9,358.0 859.4,359.0 859.2,360.5 858.5,361.4 857.5,362.2 856.5,362.7 855.0,363.3 853.5,363.7 852.2,364.0 851.0,364.2 849.5,364.4 848.2,364.5 M839.0,365.5 837.5,365.5 836.0,365.5 834.8,365.5 833.5,365.5 832.0,365.4 830.5,365.4 829.0,365.3 827.5,365.2 826.0,365.1 824.6,365.0 823.0,364.9 821.5,364.8 820.0,364.6 818.5,364.4 817.0,364.2 815.5,363.8 814.4,363.5 813.1,363.0 812.0,362.3 811.0,361.5 810.4,360.5 810.5,359.0 811.1,358.0 812.0,357.2 813.0,356.6 814.0,356.1 815.5,355.6 817.0,355.2 818.5,354.9 820.0,354.7 821.3,354.5 822.5,354.4 824.0,354.2 825.5,354.1 827.0,353.9 828.5,353.8 830.0,353.7 831.5,353.6 833.0,353.5 834.5,353.5 836.0,353.4 837.5,353.4 839.0,353.4 840.5,353.5 841.8,353.5 843.0,353.5 844.5,353.6 846.0,353.7 847.5,353.8 849.0,353.9 850.5,354.1 852.0,354.3 853.2,354.5 854.5,354.8 856.0,355.2 857.5,355.8 858.5,356.4 859.5,357.2 860.2,358.0 860.7,359.5 860.2,361.0 859.3,362.0 858.0,362.9 857.0,363.3 855.5,363.9 854.0,364.3 852.9,364.5 851.5,364.7 850.0,364.9 848.5,365.1 847.0,365.2 845.5,365.3 844.0,365.4 842.5,365.4 841.0,365.5 839.5,365.5 M842.5,366.0 841.0,366.1 839.5,366.1 838.0,366.1 836.5,366.1 835.0,366.1 833.5,366.1 832.0,366.0 830.5,366.0 829.0,365.9 827.5,365.8 826.0,365.7 824.5,365.6 823.0,365.5 821.5,365.4 820.0,365.3 818.5,365.1 817.0,364.9 815.5,364.6 814.0,364.2 812.5,363.7 811.5,363.2 810.5,362.5 809.5,361.5 809.0,360.5 809.0,359.3 809.5,358.1 810.5,357.0 811.5,356.4 812.5,355.8 814.0,355.3 815.5,354.8 816.9,354.5 818.5,354.2 820.0,354.0 821.5,353.8 823.0,353.7 824.5,353.5 826.0,353.4 827.5,353.3 829.0,353.1 830.5,353.0 832.0,353.0 833.5,352.9 835.0,352.9 836.5,352.8 838.0,352.8 839.5,352.9 841.0,352.9 842.5,352.9 844.0,353.0 845.5,353.1 847.0,353.2 848.5,353.3 850.0,353.4 851.5,353.6 853.0,353.8 854.5,354.1 856.0,354.5 857.5,355.0 858.6,355.5 860.0,356.4 861.0,357.3 861.7,358.5 861.8,360.0 861.2,361.5 860.2,362.5 859.0,363.3 858.0,363.7 856.5,364.3 855.0,364.7 853.7,365.0 852.5,365.2 851.0,365.4 849.5,365.6 848.0,365.7 846.5,365.8 845.0,365.9 843.5,366.0 M845.5,366.5 844.0,366.6 842.5,366.6 841.0,366.7 839.5,366.7 838.0,366.7 836.5,366.7 835.0,366.7 833.5,366.7 832.0,366.7 830.5,366.6 829.0,366.5 827.5,366.5 826.0,366.4 824.5,366.3 823.0,366.2 821.5,366.1 820.3,366.0 819.0,365.9 817.5,365.7 816.3,365.5 815.0,365.3 813.9,365.0 812.5,364.6 811.1,364.0 810.0,363.4 809.0,362.6 808.0,361.5 807.5,360.0 807.8,358.5 808.4,357.5 809.5,356.5 810.5,355.8 811.5,355.3 813.0,354.7 814.5,354.3 815.7,354.0 817.0,353.7 818.5,353.5 820.0,353.3 821.5,353.1 822.7,353.0 824.0,352.9 825.5,352.7 827.0,352.6 828.5,352.5 830.0,352.4 831.5,352.3 833.0,352.3 834.5,352.2 836.0,352.2 837.5,352.2 839.0,352.2 840.5,352.2 842.0,352.3 843.5,352.3 845.0,352.4 846.5,352.5 848.0,352.6 849.5,352.7 851.0,352.9 852.5,353.1 854.0,353.3 855.5,353.6 856.9,354.0 858.0,354.4 859.5,355.0 860.5,355.6 861.5,356.3 862.5,357.4 863.0,358.4 863.1,360.0 862.5,361.5 861.7,362.5 860.5,363.4 859.5,363.9 858.5,364.4 857.0,364.9 855.5,365.3 854.0,365.6 852.5,365.9 851.0,366.1 849.5,366.2 848.0,366.3 846.5,366.4 M848.5,367.0 847.0,367.1 845.5,367.2 844.0,367.3 842.5,367.3 841.0,367.4 839.5,367.4 838.0,367.4 836.5,367.4 835.0,367.4 833.5,367.4 832.0,367.4 830.5,367.3 829.0,367.3 827.5,367.2 826.0,367.1 824.5,367.0 823.0,366.9 821.5,366.8 820.0,366.7 818.5,366.6 817.0,366.4 815.5,366.2 814.0,365.9 812.6,365.5 811.5,365.1 810.0,364.5 809.0,364.0 808.0,363.3 807.2,362.5 806.5,361.5 806.1,360.0 806.3,358.5 806.9,357.5 807.8,356.5 809.0,355.6 810.0,355.0 811.0,354.5 812.5,354.0 814.0,353.6 815.5,353.2 816.8,353.0 818.0,352.8 819.5,352.6 821.0,352.4 822.5,352.3 824.0,352.1 825.5,352.0 827.0,351.9 828.5,351.8 830.0,351.7 831.5,351.6 833.0,351.6 834.5,351.5 836.0,351.5 837.5,351.5 839.0,351.5 840.5,351.5 842.0,351.6 843.5,351.6 845.0,351.7 846.5,351.8 848.0,351.9 849.4,352.0 851.0,352.2 852.5,352.3 853.7,352.5 855.0,352.7 856.2,353.0 857.5,353.3 859.0,353.8 860.5,354.5 861.5,355.1 862.5,355.8 863.5,356.8 864.2,358.0 864.5,359.5 864.2,361.0 863.6,362.0 862.7,363.0 861.5,363.9 860.5,364.5 859.5,364.9 858.0,365.5 856.5,365.9 855.0,366.2 853.5,366.5 852.0,366.7 850.5,366.8 849.0,367.0 M842.0,368.0 840.5,368.0 839.0,368.1 837.5,368.1 836.0,368.1 834.5,368.1 833.0,368.1 831.5,368.0 830.0,368.0 828.5,367.9 827.0,367.8 825.5,367.8 824.0,367.7 822.5,367.6 821.2,367.5 820.0,367.4 818.5,367.3 817.0,367.1 815.5,366.9 814.0,366.6 812.5,366.3 811.0,365.8 809.5,365.2 808.5,364.7 807.5,364.1 806.5,363.3 805.7,362.5 805.1,361.5 804.8,360.0 805.0,358.5 805.5,357.5 806.2,356.5 807.4,355.5 808.5,354.8 809.5,354.3 811.0,353.7 812.5,353.2 814.0,352.8 815.5,352.5 817.0,352.2 818.5,352.0 820.0,351.8 821.5,351.7 823.0,351.5 824.5,351.4 826.0,351.3 827.5,351.2 829.0,351.1 830.5,351.0 832.0,350.9 833.5,350.9 835.0,350.9 836.5,350.8 838.0,350.8 839.5,350.9 841.0,350.9 842.5,350.9 843.9,351.0 845.5,351.1 847.0,351.2 848.5,351.3 850.0,351.4 851.2,351.5 852.5,351.7 854.0,351.9 855.5,352.1 857.0,352.5 858.5,352.9 860.0,353.4 861.3,354.0 862.5,354.7 863.5,355.4 864.5,356.4 865.3,357.5 865.7,359.0 865.6,360.5 865.0,361.9 864.1,363.0 863.0,364.0 862.0,364.6 861.0,365.1 859.5,365.7 858.0,366.2 856.5,366.6 855.0,366.9 853.5,367.2 852.0,367.4 850.6,367.5 849.0,367.6 847.5,367.7 846.0,367.8 844.5,367.9 843.0,368.0 M847.5,368.5 846.0,368.6 844.5,368.7 843.0,368.7 841.5,368.8 840.0,368.8 838.5,368.9 837.0,368.9 835.5,368.9 834.0,368.9 832.5,368.8 831.0,368.8 829.5,368.7 828.0,368.7 826.5,368.6 825.0,368.5 823.5,368.4 822.0,368.4 820.5,368.3 819.0,368.1 817.6,368.0 816.5,367.9 815.0,367.7 813.5,367.4 812.0,367.1 810.5,366.6 809.0,366.1 808.0,365.6 807.0,365.1 806.0,364.4 805.0,363.6 804.1,362.5 803.6,361.5 803.3,360.0 803.5,358.5 804.0,357.3 805.0,356.0 806.0,355.2 807.0,354.5 808.0,353.9 809.0,353.5 810.1,353.0 811.5,352.6 813.0,352.2 814.5,351.8 816.0,351.6 817.5,351.3 819.0,351.1 820.3,351.0 821.5,350.9 823.0,350.7 824.5,350.6 826.0,350.5 827.5,350.4 829.0,350.3 830.5,350.2 832.0,350.2 833.5,350.1 835.0,350.1 836.5,350.1 838.0,350.1 839.5,350.1 841.0,350.1 842.5,350.2 844.0,350.2 845.5,350.3 847.0,350.4 848.5,350.5 850.0,350.6 851.5,350.7 853.0,350.9 854.5,351.1 856.0,351.4 857.5,351.7 859.0,352.1 860.1,352.5 861.4,353.0 862.5,353.5 863.5,354.1 864.5,354.8 865.5,355.7 866.5,357.0 866.9,358.0 867.2,359.5 867.0,360.7 866.5,361.9 865.7,363.0 864.7,364.0 863.5,364.9 862.5,365.4 861.5,365.9 860.0,366.5 858.5,367.0 857.0,367.3 855.5,367.6 854.0,367.9 852.5,368.1 851.0,368.2 849.5,368.4 848.0,368.5 M843.5,369.5 842.0,369.6 840.5,369.6 839.0,369.6 837.5,369.7 836.0,369.7 834.5,369.7 833.0,369.6 831.5,369.6 830.0,369.6 828.6,369.5 827.0,369.4 825.5,369.4 824.0,369.3 822.5,369.2 821.0,369.1 819.5,369.0 818.0,368.9 816.5,368.7 815.0,368.5 813.5,368.3 812.2,368.0 811.0,367.7 809.5,367.3 808.0,366.7 807.0,366.3 806.0,365.7 805.0,365.1 804.0,364.3 803.0,363.2 802.3,362.0 801.8,360.5 801.8,359.0 802.3,357.5 802.9,356.5 803.8,355.5 805.0,354.5 806.0,353.8 807.0,353.3 808.0,352.8 809.5,352.2 811.0,351.8 812.5,351.4 814.0,351.0 815.5,350.8 817.0,350.6 818.5,350.4 820.0,350.2 821.5,350.0 823.0,349.9 824.5,349.8 826.0,349.7 827.5,349.6 828.7,349.5 830.0,349.4 831.5,349.4 833.0,349.3 834.5,349.3 836.0,349.3 837.5,349.3 839.0,349.3 840.5,349.3 842.0,349.3 843.5,349.4 845.0,349.5 846.5,349.6 848.0,349.7 849.5,349.8 851.0,349.9 852.5,350.1 854.0,350.2 855.5,350.5 857.0,350.8 858.1,351.0 859.5,351.4 861.0,351.9 862.5,352.5 863.5,352.9 864.5,353.5 865.5,354.2 866.5,355.0 867.4,356.0 868.0,357.0 868.5,358.4 868.6,359.5 868.4,361.0 867.7,362.5 867.0,363.4 866.0,364.4 865.0,365.1 864.0,365.7 863.0,366.3 861.5,366.9 860.0,367.4 858.5,367.8 857.0,368.2 855.5,368.5 854.0,368.7 852.5,368.9 851.4,369.0 850.0,369.1 848.5,369.2 847.0,369.3 845.5,369.4 844.0,369.5 M841.5,370.5 840.0,370.5 838.5,370.6 837.0,370.6 835.5,370.6 834.0,370.6 832.5,370.5 831.0,370.5 829.5,370.5 828.0,370.4 826.5,370.3 825.0,370.3 823.5,370.2 822.0,370.1 820.5,370.0 819.0,369.9 817.5,369.8 816.0,369.6 814.5,369.4 813.0,369.2 811.5,368.9 810.0,368.5 808.5,368.0 807.0,367.5 806.0,367.0 805.0,366.5 804.0,365.9 803.0,365.1 802.0,364.2 801.1,363.0 800.5,362.0 800.1,360.5 800.1,359.0 800.5,357.7 801.0,356.7 801.9,355.5 802.9,354.5 804.0,353.7 805.0,353.0 806.0,352.5 807.0,352.0 808.4,351.5 809.5,351.1 811.0,350.7 812.5,350.3 814.0,350.1 815.5,349.8 817.0,349.6 818.5,349.4 820.0,349.2 821.5,349.1 823.0,349.0 824.5,348.8 826.0,348.7 827.5,348.6 829.0,348.5 830.5,348.5 832.0,348.4 833.5,348.4 835.0,348.3 836.5,348.3 838.0,348.3 839.5,348.4 841.0,348.4 842.5,348.4 843.8,348.5 845.0,348.6 846.5,348.6 848.0,348.7 849.5,348.8 851.0,349.0 852.5,349.1 854.0,349.3 855.3,349.5 856.5,349.7 858.0,350.0 859.5,350.3 861.0,350.8 862.5,351.3 864.0,352.0 865.0,352.5 866.0,353.1 867.0,353.8 867.8,354.5 868.7,355.5 869.4,356.5 869.9,357.5 870.2,359.0 870.2,360.5 869.7,362.0 869.1,363.0 868.3,364.0 867.2,365.0 866.0,365.9 865.0,366.5 864.0,367.0 862.8,367.5 861.5,368.0 860.0,368.5 858.5,368.8 857.0,369.2 855.5,369.4 854.0,369.6 852.5,369.8 851.0,370.0 849.5,370.1 848.0,370.2 846.5,370.3 845.0,370.4 843.5,370.4 842.0,370.5 M843.0,371.5 841.5,371.6 840.0,371.6 838.5,371.7 837.0,371.7 835.5,371.7 834.0,371.7 832.5,371.6 831.0,371.6 829.5,371.6 828.2,371.5 827.0,371.5 825.5,371.4 824.0,371.3 822.5,371.2 821.0,371.1 819.5,371.0 818.0,370.9 816.5,370.8 815.0,370.6 813.5,370.4 812.0,370.1 810.5,369.8 809.2,369.5 808.0,369.1 806.5,368.6 805.0,368.0 804.0,367.5 803.0,366.9 802.0,366.2 801.1,365.5 800.1,364.5 799.3,363.5 798.8,362.5 798.3,361.0 798.2,359.5 798.4,358.0 799.0,356.6 799.7,355.5 800.5,354.6 801.5,353.7 802.4,353.0 803.5,352.3 804.5,351.8 805.5,351.3 807.0,350.7 808.5,350.2 810.0,349.7 811.5,349.4 813.0,349.1 814.5,348.8 816.0,348.6 817.5,348.4 819.0,348.2 820.5,348.1 822.0,347.9 823.5,347.8 825.0,347.7 826.5,347.6 828.0,347.5 829.5,347.4 831.0,347.3 832.5,347.3 834.0,347.3 835.5,347.2 837.0,347.2 838.5,347.3 840.0,347.3 841.5,347.3 843.0,347.4 844.5,347.5 846.0,347.5 847.5,347.6 849.0,347.7 850.5,347.8 852.0,348.0 853.5,348.1 855.0,348.3 856.5,348.6 858.0,348.9 859.5,349.2 860.7,349.5 862.0,349.9 863.5,350.4 864.9,351.0 865.9,351.5 867.0,352.1 868.0,352.8 868.9,353.5 870.0,354.5 870.8,355.5 871.4,356.5 871.9,358.0 872.1,359.5 872.0,360.6 871.6,362.0 871.1,363.0 870.4,364.0 869.5,364.9 868.5,365.8 867.5,366.5 866.5,367.1 865.5,367.7 864.5,368.1 863.0,368.7 861.5,369.2 860.0,369.6 858.5,370.0 857.0,370.3 855.6,370.5 854.0,370.7 852.5,370.9 851.3,371.0 850.0,371.1 848.5,371.2 847.0,371.3 845.5,371.4 844.0,371.5 M848.5,372.5 847.0,372.6 845.5,372.7 844.0,372.8 842.5,372.9 841.0,372.9 839.5,372.9 838.0,373.0 836.5,373.0 835.0,373.0 833.5,373.0 832.0,372.9 830.5,372.9 829.0,372.9 827.5,372.8 826.0,372.7 824.5,372.7 823.0,372.6 821.5,372.5 820.0,372.4 818.5,372.3 817.0,372.2 815.5,372.0 814.0,371.8 812.5,371.6 811.0,371.3 809.5,371.0 808.0,370.6 806.5,370.2 805.0,369.7 803.5,369.0 802.5,368.5 801.5,367.9 800.5,367.3 799.5,366.5 798.5,365.6 797.5,364.5 796.9,363.5 796.4,362.5 796.0,361.3 795.8,360.0 795.9,358.5 796.4,357.0 796.9,356.0 797.6,355.0 798.4,354.0 799.5,353.0 800.5,352.2 801.5,351.6 802.5,351.0 803.5,350.5 804.5,350.1 805.9,349.5 807.0,349.1 808.5,348.7 810.0,348.3 811.3,348.0 812.5,347.8 814.0,347.5 815.5,347.3 817.0,347.1 818.5,346.9 820.0,346.7 821.5,346.6 822.8,346.5 824.0,346.4 825.5,346.3 827.0,346.2 828.5,346.1 830.0,346.0 831.2,346.0 832.5,346.0 834.0,345.9 835.5,345.9 837.0,345.9 838.5,345.9 840.0,346.0 841.4,346.0 842.5,346.0 844.0,346.1 845.5,346.2 847.0,346.3 848.5,346.4 850.0,346.5 851.5,346.6 853.0,346.8 854.5,346.9 856.0,347.2 857.5,347.4 859.0,347.7 860.4,348.0 861.5,348.3 863.0,348.7 864.5,349.2 866.0,349.8 867.0,350.3 868.0,350.8 869.0,351.4 870.0,352.1 871.0,352.9 872.0,353.9 872.9,355.0 873.5,356.0 874.0,357.2 874.3,358.5 874.4,360.0 874.1,361.5 873.5,362.9 872.8,364.0 872.0,365.0 871.0,366.0 870.0,366.8 869.0,367.5 868.0,368.1 867.0,368.6 866.0,369.1 864.5,369.7 863.0,370.2 861.5,370.7 860.1,371.0 859.0,371.2 857.6,371.5 856.5,371.7 855.0,371.9 853.5,372.1 852.0,372.2 850.5,372.4 849.0,372.5 M844.5,374.5 843.0,374.6 841.5,374.6 840.0,374.7 838.5,374.7 837.0,374.7 835.5,374.8 834.0,374.7 832.5,374.7 831.0,374.7 829.5,374.7 828.0,374.6 826.5,374.5 825.0,374.5 823.5,374.4 822.0,374.3 820.5,374.2 819.0,374.1 817.8,374.0 816.5,373.9 815.0,373.7 813.5,373.5 812.0,373.3 810.5,373.1 809.0,372.8 807.8,372.5 806.5,372.2 805.0,371.7 803.5,371.2 802.0,370.6 801.0,370.1 800.0,369.6 799.0,369.0 798.0,368.3 797.0,367.5 796.0,366.7 795.0,365.6 794.2,364.5 793.6,363.5 793.1,362.0 792.8,360.5 792.8,359.0 793.0,357.7 793.4,356.5 793.9,355.5 794.5,354.6 795.4,353.5 796.4,352.5 797.5,351.5 798.5,350.8 799.5,350.2 800.5,349.6 801.5,349.1 802.5,348.7 804.0,348.1 805.5,347.6 807.0,347.1 808.5,346.7 810.0,346.4 811.5,346.1 813.0,345.8 814.5,345.6 816.0,345.4 817.5,345.2 819.0,345.0 820.5,344.9 822.0,344.7 823.5,344.6 825.0,344.5 826.5,344.4 828.0,344.3 829.5,344.3 831.0,344.2 832.5,344.2 834.0,344.1 835.5,344.1 837.0,344.1 838.5,344.1 840.0,344.2 841.5,344.2 843.0,344.3 844.5,344.3 846.0,344.4 847.5,344.5 849.0,344.6 850.5,344.8 852.0,344.9 853.5,345.1 855.0,345.2 856.5,345.4 858.0,345.7 859.5,346.0 861.0,346.3 862.5,346.6 863.8,347.0 865.0,347.4 866.5,347.9 867.9,348.5 869.0,349.0 870.0,349.5 871.0,350.1 872.0,350.8 872.9,351.5 874.0,352.4 875.0,353.5 875.8,354.5 876.4,355.5 876.8,356.5 877.2,358.0 877.4,359.5 877.2,361.0 876.8,362.5 876.3,363.5 875.7,364.5 875.0,365.4 874.0,366.5 873.0,367.4 872.0,368.1 871.0,368.8 870.0,369.4 869.0,369.9 868.0,370.4 866.5,371.0 865.1,371.5 864.0,371.9 862.5,372.3 861.0,372.6 859.5,373.0 858.0,373.2 856.5,373.5 855.0,373.7 853.5,373.8 852.0,374.0 850.5,374.1 849.0,374.2 847.5,374.3 846.0,374.4 844.8,374.5 M844.0,377.5 842.5,377.6 841.0,377.6 839.5,377.7 838.0,377.7 836.5,377.7 835.0,377.7 833.5,377.7 832.0,377.7 830.5,377.7 829.0,377.6 827.5,377.6 826.0,377.5 824.5,377.4 823.0,377.4 821.5,377.3 820.0,377.2 818.5,377.1 817.0,376.9 815.5,376.8 814.0,376.6 812.5,376.4 811.0,376.2 809.7,376.0 808.5,375.8 807.1,375.5 806.0,375.3 804.5,374.9 803.2,374.5 802.0,374.1 800.5,373.6 799.1,373.0 798.0,372.5 797.0,372.0 796.0,371.5 795.0,370.9 794.0,370.2 793.0,369.5 792.0,368.6 791.0,367.7 790.0,366.6 789.2,365.5 788.6,364.5 788.1,363.5 787.6,362.0 787.3,360.5 787.3,359.0 787.5,357.6 787.8,356.5 788.5,355.0 789.1,354.0 789.8,353.0 790.5,352.1 791.5,351.1 792.5,350.3 793.5,349.5 794.5,348.8 795.5,348.2 796.5,347.6 797.5,347.1 798.5,346.6 799.9,346.0 801.0,345.6 802.5,345.1 804.0,344.6 805.5,344.2 807.0,343.8 808.3,343.5 809.5,343.3 810.9,343.0 812.0,342.8 813.5,342.6 815.0,342.4 816.5,342.2 818.0,342.0 819.5,341.9 821.0,341.7 822.5,341.6 823.9,341.5 825.0,341.4 826.5,341.3 828.0,341.2 829.5,341.2 831.0,341.1 832.5,341.1 834.0,341.1 835.5,341.1 837.0,341.1 838.5,341.1 840.0,341.1 841.5,341.2 843.0,341.2 844.5,341.3 846.0,341.4 847.3,341.5 848.5,341.6 850.0,341.7 851.5,341.8 853.0,342.0 854.5,342.2 856.0,342.4 857.5,342.6 859.0,342.8 860.1,343.0 861.5,343.3 863.0,343.6 864.5,344.0 866.0,344.4 867.5,344.9 869.0,345.4 870.5,346.0 871.6,346.5 872.7,347.0 874.0,347.7 875.0,348.3 876.0,349.0 877.0,349.7 877.9,350.5 878.9,351.5 879.8,352.5 880.5,353.4 881.2,354.5 881.7,355.5 882.2,357.0 882.5,358.5 882.5,360.0 882.3,361.5 882.0,362.6 881.5,363.8 880.8,365.0 880.1,366.0 879.3,367.0 878.5,367.8 877.5,368.7 876.5,369.5 875.5,370.2 874.5,370.9 873.5,371.4 872.5,372.0 871.5,372.4 870.2,373.0 869.0,373.5 867.6,374.0 866.5,374.3 865.0,374.8 863.5,375.2 862.0,375.5 860.5,375.8 859.3,376.0 858.0,376.2 856.5,376.4 855.0,376.6 853.5,376.8 852.0,376.9 850.5,377.1 849.0,377.2 847.5,377.3 846.0,377.4 844.5,377.5" fill="none" stroke="#5e5e5e" stroke-width="0.45" clip-path="url(#cp2)"/>
<path d="M1081.5,282.9h0.7M1124.4,295.0h0.7M1022.4,356.9h0.7M1067.0,319.2h0.7M1092.9,390.4h0.7M1040.2,360.0h0.7M1046.6,326.3h0.7M1093.0,367.9h0.7M1109.0,282.4h0.7M1046.3,356.8h0.7M1099.1,391.8h0.7M1044.6,298.3h0.7M1066.8,367.6h0.7M1058.6,294.3h0.7M1084.6,307.6h0.7M1043.7,358.1h0.7M1023.9,388.4h0.7M1116.4,282.2h0.7M1075.0,387.4h0.7M1094.3,393.1h0.7M1076.3,317.7h0.7M1071.2,318.4h0.7M1015.7,344.7h0.7M1013.1,343.7h0.7M1077.3,303.7h0.7M1109.6,317.7h0.7M1059.2,326.8h0.7M1120.7,294.5h0.7M1072.9,312.0h0.7M1050.5,385.7h0.7M1108.4,393.1h0.7M1047.2,327.6h0.7M1092.2,393.4h0.7M1046.6,358.2h0.7M1018.0,353.7h0.7M1072.8,388.0h0.7M1022.3,336.9h0.7M1127.3,327.5h0.7M1046.7,370.7h0.7M1060.5,368.3h0.7M1072.6,309.0h0.7M1059.9,336.3h0.7M1111.3,302.0h0.7M1066.3,287.6h0.7M1023.6,309.3h0.7M1040.8,343.6h0.7M1069.4,369.9h0.7M1091.6,387.1h0.7M1031.7,388.9h0.7M1085.5,333.2h0.7M1020.8,358.9h0.7M1009.2,394.4h0.7M1040.5,351.1h0.7M1084.4,346.0h0.7M1072.9,283.6h0.7M1060.1,320.3h0.7M1050.9,346.9h0.7M1121.0,326.2h0.7M1042.0,391.8h0.7M1100.5,306.7h0.7M1094.0,384.3h0.7M1109.3,278.8h0.7M1089.4,392.0h0.7M1094.1,307.9h0.7M1112.1,285.8h0.7M1077.3,318.0h0.7M1119.4,297.3h0.7M1034.7,348.1h0.7M1037.1,374.0h0.7M1123.9,328.7h0.7M1136.0,292.6h0.7M1016.3,388.6h0.7M1058.9,333.7h0.7M1015.8,349.6h0.7M1044.0,345.0h0.7M1009.4,388.9h0.7M1023.3,359.8h0.7M1094.2,283.9h0.7M1143.5,275.0h0.7M1101.7,350.1h0.7M1071.6,309.6h0.7M1129.6,281.9h0.7M1061.0,321.5h0.7M1039.4,350.4h0.7M1096.1,341.3h0.7M1025.7,384.8h0.7M1124.5,283.2h0.7M1083.4,294.7h0.7M1052.6,394.4h0.7M1108.8,314.8h0.7M1055.9,386.9h0.7M1073.0,302.8h0.7M1057.0,321.9h0.7M1059.4,295.7h0.7M1083.4,284.4h0.7M1048.7,300.9h0.7M1039.6,347.4h0.7M1089.1,391.3h0.7M1017.3,388.0h0.7M1022.4,358.2h0.7M1016.6,346.3h0.7M1031.3,353.9h0.7M1076.2,289.0h0.7M1050.1,368.7h0.7M1104.7,282.3h0.7M1089.2,322.6h0.7M1019.1,311.5h0.7M1058.7,330.8h0.7M1094.1,286.3h0.7M1073.6,386.2h0.7M1122.0,277.4h0.7M1057.2,313.6h0.7M1109.9,291.3h0.7M1050.6,293.6h0.7M1088.1,281.2h0.7M1019.0,392.1h0.7M1025.2,372.2h0.7M1129.1,393.0h0.7M1049.0,305.4h0.7M1043.4,362.2h0.7M1084.6,284.3h0.7M1027.2,388.7h0.7M1132.4,291.9h0.7M1058.9,324.9h0.7M1087.4,295.0h0.7M1018.3,355.2h0.7M1109.9,330.4h0.7M1106.4,327.3h0.7M1061.8,307.1h0.7M1117.3,307.7h0.7M1058.8,317.2h0.7M1117.0,292.8h0.7M1076.9,285.5h0.7M1023.1,349.2h0.7M1124.5,310.9h0.7M1024.2,313.2h0.7M1046.8,344.1h0.7M1106.7,277.0h0.7M1093.1,394.3h0.7M1126.5,277.5h0.7M1046.7,335.9h0.7M1018.1,344.9h0.7M1094.3,341.4h0.7M1021.1,387.0h0.7M1034.7,318.4h0.7M1110.3,276.7h0.7M1027.2,387.4h0.7M1041.5,325.8h0.7M1062.7,391.2h0.7M1038.9,390.0h0.7M1088.1,313.1h0.7M1024.6,370.7h0.7M1081.6,280.3h0.7M1053.2,383.4h0.7M1033.1,320.8h0.7M1077.7,289.8h0.7M1059.9,331.0h0.7M1033.4,363.9h0.7M1104.2,282.7h0.7M1094.9,283.3h0.7M1092.3,387.9h0.7M1030.5,386.7h0.7M1054.9,300.0h0.7M1024.4,337.1h0.7M1073.9,392.4h0.7M1036.7,352.7h0.7M1073.1,393.4h0.7M1068.4,283.6h0.7M1099.9,301.4h0.7M1123.5,279.1h0.7M1119.4,291.3h0.7M1067.5,290.2h0.7M1124.6,269.3h0.7M1080.6,355.5h0.7M1129.5,346.0h0.7M1073.8,392.8h0.7M1074.4,392.1h0.7M1088.8,389.2h0.7M1016.0,349.2h0.7M1030.3,330.0h0.7M1078.0,305.2h0.7M1020.0,348.7h0.7M1049.2,326.5h0.7M1018.9,352.8h0.7M1030.3,393.1h0.7M1056.6,331.8h0.7M1058.8,317.0h0.7M1021.2,373.9h0.7M1070.9,311.7h0.7M1055.2,348.9h0.7M1035.8,319.3h0.7M1046.6,304.8h0.7M1061.9,292.7h0.7M1032.8,371.9h0.7M1037.8,393.6h0.7M1095.5,340.4h0.7M1075.5,307.3h0.7M1015.4,391.1h0.7M1042.1,360.0h0.7M1084.5,317.8h0.7M1069.3,393.9h0.7M1027.3,385.0h0.7M1067.3,386.9h0.7M1068.4,377.8h0.7M1093.2,296.4h0.7M1039.3,392.8h0.7M1022.2,347.1h0.7M1113.8,283.8h0.7M1049.6,387.3h0.7M1068.0,311.6h0.7M1045.0,336.8h0.7M1047.4,386.6h0.7M1112.2,313.1h0.7M1056.8,324.7h0.7M1042.3,350.3h0.7M1059.3,293.6h0.7M1128.4,301.8h0.7M1018.1,388.8h0.7M1068.8,387.5h0.7M1079.7,287.1h0.7M1094.4,393.7h0.7M1089.1,327.2h0.7M1113.1,276.4h0.7M1093.8,390.3h0.7M1062.6,375.4h0.7M1031.7,367.6h0.7M1065.9,387.3h0.7M1038.6,357.2h0.7M1102.5,275.3h0.7M1046.7,300.4h0.7M1102.1,281.1h0.7M1044.7,341.5h0.7M1042.9,371.7h0.7M1094.1,288.8h0.7M1069.2,316.4h0.7M1075.6,319.4h0.7M1070.4,387.5h0.7M1022.8,376.3h0.7M1061.4,389.6h0.7M1084.5,305.9h0.7M1104.8,286.6h0.7M1077.1,308.5h0.7M1035.2,302.8h0.7M1112.0,305.1h0.7M1035.0,370.3h0.7M1120.8,284.8h0.7M1009.1,317.7h0.7M1013.7,389.4h0.7M1035.6,375.3h0.7M1031.4,321.0h0.7M1093.0,285.6h0.7M1082.3,269.6h0.7M1019.5,387.9h0.7M1033.6,310.0h0.7M1066.3,292.6h0.7M1024.2,391.4h0.7M1030.3,368.8h0.7M1036.8,319.2h0.7M1031.4,392.4h0.7M1025.0,337.6h0.7M1051.9,334.5h0.7M1078.6,283.3h0.7M1034.4,388.7h0.7M1117.3,389.5h0.7M1069.2,288.1h0.7M1111.2,302.5h0.7M1084.8,283.6h0.7M1067.6,390.4h0.7M1041.3,372.9h0.7M1025.7,338.6h0.7M1046.2,373.3h0.7M1071.1,386.7h0.7M1051.7,359.1h0.7M1022.7,389.1h0.7M1042.2,388.0h0.7M1098.8,288.3h0.7M1081.1,313.8h0.7M1110.5,393.9h0.7M1034.7,388.5h0.7M1019.2,308.5h0.7M1050.8,358.9h0.7M1112.4,307.7h0.7M1023.0,387.9h0.7M1089.8,279.6h0.7M1072.1,384.4h0.7M1066.5,387.7h0.7M1039.9,388.3h0.7M1010.6,392.8h0.7M1033.4,363.3h0.7M1071.3,290.7h0.7M1045.7,331.5h0.7M1033.8,388.7h0.7M1091.6,343.4h0.7M1047.6,337.6h0.7M1071.9,314.9h0.7M1070.6,307.9h0.7M1078.5,306.0h0.7M1036.4,342.1h0.7M1124.6,312.8h0.7M1089.5,393.5h0.7" stroke="#3a3a3a" stroke-width="0.75" fill="none"/>
<path d="M1072.0,317.0 1070.5,317.1 1069.5,316.6 1069.3,315.5 1070.0,314.0 1070.8,313.0 1071.9,312.0 1073.0,311.3 1074.0,310.7 1075.5,310.3 1077.0,310.3 1077.9,311.5 1077.5,312.8 1076.7,314.0 1075.7,315.0 1074.5,315.9 1073.5,316.4 1072.1,317.0 M1071.5,319.1 1070.0,319.4 1068.5,319.4 1067.3,319.0 1066.6,318.0 1066.5,316.8 1066.9,315.5 1067.4,314.5 1068.2,313.5 1069.0,312.5 1070.0,311.6 1071.0,310.8 1072.0,310.1 1073.0,309.5 1074.0,309.0 1075.0,308.6 1076.5,308.1 1078.0,308.0 1079.5,308.3 1080.5,309.4 1080.5,311.0 1080.0,312.3 1079.3,313.5 1078.5,314.4 1077.5,315.5 1076.5,316.3 1075.6,317.0 1074.5,317.7 1073.5,318.3 1072.5,318.7 M1069.5,321.0 1068.0,321.2 1066.5,321.0 1065.5,320.6 1064.6,319.5 1064.4,318.0 1064.8,316.5 1065.2,315.5 1065.8,314.5 1066.5,313.6 1067.4,312.5 1068.4,311.5 1069.5,310.6 1070.5,309.8 1071.5,309.1 1072.5,308.5 1073.5,308.0 1074.5,307.5 1075.9,307.0 1077.0,306.7 1078.5,306.4 1080.0,306.5 1081.5,307.0 1082.3,308.0 1082.6,309.5 1082.2,311.0 1081.5,312.5 1080.8,313.5 1080.1,314.5 1079.1,315.5 1078.1,316.5 1077.0,317.4 1076.0,318.1 1075.0,318.8 1074.0,319.3 1073.0,319.8 1071.5,320.5 1070.0,320.9 M1069.0,322.5 1067.5,322.8 1066.0,322.8 1064.7,322.5 1063.5,321.8 1062.7,320.5 1062.5,319.4 1062.7,318.0 1063.2,316.5 1063.7,315.5 1064.4,314.5 1065.1,313.5 1066.0,312.5 1066.9,311.5 1068.0,310.5 1069.0,309.7 1069.9,309.0 1071.0,308.3 1072.0,307.6 1073.0,307.1 1074.0,306.6 1075.4,306.0 1076.5,305.6 1078.0,305.2 1079.2,305.0 1080.5,304.9 1082.0,305.2 1083.5,306.0 1084.2,307.0 1084.4,308.5 1084.2,310.0 1083.6,311.5 1083.0,312.5 1082.3,313.5 1081.6,314.5 1080.7,315.5 1079.7,316.5 1078.6,317.5 1077.5,318.4 1076.6,319.0 1075.5,319.7 1074.5,320.3 1073.5,320.9 1072.5,321.4 1071.0,322.0 1069.5,322.4 M1068.0,324.1 1066.5,324.3 1065.0,324.3 1063.5,324.0 1062.4,323.5 1061.5,322.7 1060.9,321.5 1060.7,320.0 1061.0,318.5 1061.5,317.1 1062.0,316.1 1062.7,315.0 1063.4,314.0 1064.2,313.0 1065.0,312.1 1066.0,311.1 1067.0,310.1 1068.0,309.3 1069.0,308.5 1070.0,307.8 1071.0,307.2 1072.0,306.6 1073.0,306.0 1074.0,305.5 1075.0,305.1 1076.5,304.5 1078.0,304.1 1079.5,303.8 1081.0,303.6 1082.5,303.7 1083.7,304.0 1085.0,304.8 1085.8,306.0 1086.1,307.5 1085.9,309.0 1085.5,310.3 1085.0,311.4 1084.4,312.5 1083.7,313.5 1083.0,314.4 1082.1,315.5 1081.1,316.5 1080.1,317.5 1079.0,318.4 1078.0,319.2 1077.0,319.9 1076.0,320.6 1075.0,321.2 1074.0,321.8 1073.0,322.3 1072.0,322.8 1070.5,323.4 1069.0,323.8 M1067.0,325.6 1065.5,325.8 1064.0,325.8 1062.5,325.6 1061.0,325.0 1060.0,324.2 1059.3,323.0 1059.0,321.5 1059.1,320.0 1059.5,318.6 1059.9,317.5 1060.4,316.5 1061.0,315.5 1061.7,314.5 1062.5,313.5 1063.3,312.5 1064.2,311.5 1065.3,310.5 1066.4,309.5 1067.5,308.6 1068.5,307.8 1069.5,307.1 1070.4,306.5 1071.5,305.8 1072.5,305.3 1073.5,304.8 1074.5,304.3 1076.0,303.7 1077.5,303.1 1079.0,302.7 1080.2,302.5 1081.5,302.3 1083.0,302.3 1084.1,302.5 1085.5,303.0 1086.5,303.7 1087.4,305.0 1087.7,306.5 1087.6,308.0 1087.2,309.5 1086.5,311.0 1086.0,312.0 1085.4,313.0 1084.6,314.0 1083.9,315.0 1083.0,316.0 1082.0,317.0 1081.0,318.0 1080.0,318.9 1079.0,319.7 1078.0,320.4 1077.0,321.1 1076.0,321.8 1075.0,322.4 1074.0,323.0 1073.0,323.5 1072.0,324.0 1070.7,324.5 1069.5,324.9 1068.0,325.4 M1066.5,327.0 1065.0,327.3 1063.5,327.4 1062.0,327.3 1060.8,327.0 1059.6,326.5 1058.5,325.6 1057.7,324.5 1057.3,323.0 1057.3,321.5 1057.5,320.4 1057.9,319.0 1058.5,317.6 1059.1,316.5 1059.7,315.5 1060.4,314.5 1061.2,313.5 1062.0,312.5 1062.9,311.5 1063.9,310.5 1065.0,309.5 1066.0,308.6 1067.0,307.8 1068.0,307.1 1069.0,306.4 1070.0,305.7 1071.0,305.1 1072.0,304.5 1073.0,304.0 1074.0,303.5 1075.0,303.1 1076.4,302.5 1077.5,302.1 1079.0,301.7 1080.5,301.3 1082.0,301.1 1083.5,301.1 1085.0,301.2 1086.1,301.5 1087.2,302.0 1088.3,303.0 1088.9,304.0 1089.3,305.5 1089.2,307.0 1089.0,308.2 1088.6,309.5 1088.0,310.7 1087.3,312.0 1086.7,313.0 1086.0,314.0 1085.2,315.0 1084.3,316.0 1083.5,316.9 1082.5,317.9 1081.5,318.9 1080.5,319.7 1079.6,320.5 1078.5,321.3 1077.5,322.0 1076.5,322.7 1075.5,323.3 1074.5,323.9 1073.5,324.4 1072.5,324.9 1071.5,325.4 1070.1,326.0 1069.0,326.4 1067.5,326.8 M1064.5,328.5 1063.0,328.6 1061.5,328.6 1060.0,328.3 1058.5,327.7 1057.5,327.0 1056.6,326.0 1056.2,325.0 1055.9,323.5 1056.0,322.0 1056.3,320.5 1056.8,319.0 1057.2,318.0 1057.8,317.0 1058.4,316.0 1059.0,315.0 1059.8,314.0 1060.5,313.1 1061.4,312.0 1062.4,311.0 1063.4,310.0 1064.5,309.0 1065.5,308.2 1066.5,307.4 1067.5,306.6 1068.5,305.9 1069.5,305.2 1070.5,304.6 1071.5,304.0 1072.5,303.5 1073.5,303.0 1074.5,302.5 1075.6,302.0 1076.9,301.5 1078.0,301.1 1079.5,300.7 1081.0,300.4 1082.5,300.1 1084.0,300.1 1085.5,300.2 1087.0,300.5 1088.1,301.0 1089.4,302.0 1090.0,302.9 1090.4,304.0 1090.6,305.5 1090.4,307.0 1090.0,308.5 1089.5,309.8 1089.0,310.8 1088.4,312.0 1087.7,313.0 1087.0,314.0 1086.3,315.0 1085.5,315.9 1084.5,317.0 1083.6,318.0 1082.5,319.0 1081.5,319.9 1080.5,320.8 1079.6,321.5 1078.5,322.3 1077.5,323.0 1076.5,323.7 1075.5,324.3 1074.5,324.9 1073.5,325.4 1072.5,326.0 1071.5,326.4 1070.1,327.0 1069.0,327.4 1067.5,327.9 1066.0,328.3 1064.7,328.5 M1042.5,351.5 1041.3,351.5 1040.3,350.5 1040.0,349.0 1040.3,347.5 1040.8,346.5 1041.5,345.7 1042.5,345.1 1044.0,345.5 1044.6,346.5 1044.7,348.0 1044.5,349.2 1044.0,350.2 1043.0,351.3 M1065.0,329.6 1063.5,329.8 1062.0,329.9 1060.5,329.8 1059.0,329.5 1057.6,329.0 1056.5,328.3 1055.7,327.5 1055.1,326.5 1054.7,325.0 1054.6,323.5 1054.8,322.0 1055.2,320.5 1055.8,319.0 1056.2,318.0 1056.8,317.0 1057.4,316.0 1058.1,315.0 1058.8,314.0 1059.6,313.0 1060.5,312.0 1061.4,311.0 1062.4,310.0 1063.5,309.0 1064.5,308.2 1065.5,307.3 1066.5,306.6 1067.5,305.8 1068.5,305.1 1069.5,304.5 1070.5,303.9 1071.5,303.3 1072.5,302.8 1073.5,302.2 1074.5,301.8 1076.0,301.1 1077.5,300.6 1079.0,300.1 1080.5,299.7 1082.0,299.4 1083.5,299.2 1085.0,299.2 1086.5,299.3 1088.0,299.7 1089.5,300.4 1090.5,301.3 1091.3,302.5 1091.7,304.0 1091.7,305.5 1091.5,306.8 1091.2,308.0 1090.6,309.5 1090.2,310.5 1089.6,311.5 1089.0,312.5 1088.3,313.5 1087.6,314.5 1086.8,315.5 1086.0,316.5 1085.1,317.5 1084.1,318.5 1083.1,319.5 1082.0,320.5 1081.0,321.3 1080.0,322.1 1079.0,322.9 1078.0,323.6 1077.0,324.3 1076.0,325.0 1075.0,325.6 1074.0,326.1 1073.0,326.7 1072.0,327.2 1071.0,327.6 1069.5,328.2 1068.0,328.8 1066.5,329.2 1065.3,329.5 M1042.0,353.5 1040.5,353.3 1039.5,352.5 1038.9,351.5 1038.6,350.0 1038.7,348.5 1039.0,347.0 1039.5,345.9 1040.4,344.5 1041.5,343.5 1042.5,343.0 1044.0,343.0 1045.0,343.5 1045.8,344.5 1046.2,346.0 1046.3,347.5 1046.0,349.0 1045.5,350.5 1044.9,351.5 1044.0,352.5 1043.0,353.2 M1063.0,331.1 1061.5,331.2 1060.0,331.2 1058.7,331.0 1057.5,330.7 1056.0,330.0 1055.0,329.3 1054.0,328.0 1053.6,327.0 1053.3,325.5 1053.3,324.0 1053.5,322.5 1053.9,321.0 1054.5,319.5 1055.0,318.5 1055.5,317.5 1056.1,316.5 1056.8,315.5 1057.5,314.5 1058.3,313.5 1059.0,312.6 1060.0,311.5 1061.0,310.5 1062.0,309.5 1063.0,308.6 1064.0,307.7 1064.9,307.0 1066.0,306.1 1067.0,305.4 1068.0,304.7 1069.0,304.1 1070.0,303.4 1071.0,302.8 1072.0,302.3 1073.0,301.8 1074.0,301.3 1075.0,300.8 1076.5,300.2 1078.0,299.6 1079.5,299.2 1081.0,298.8 1082.4,298.5 1084.0,298.3 1085.5,298.2 1087.0,298.3 1088.5,298.6 1090.0,299.2 1091.0,299.9 1091.9,301.0 1092.5,302.0 1092.8,303.5 1092.9,305.0 1092.6,306.5 1092.2,308.0 1091.6,309.5 1091.1,310.5 1090.6,311.5 1090.0,312.5 1089.3,313.5 1088.6,314.5 1087.9,315.5 1087.0,316.5 1086.1,317.5 1085.2,318.5 1084.2,319.5 1083.2,320.5 1082.0,321.5 1081.0,322.4 1080.0,323.2 1079.0,323.9 1078.0,324.6 1077.0,325.3 1076.0,326.0 1075.0,326.6 1074.0,327.1 1073.0,327.7 1072.0,328.2 1071.0,328.7 1069.5,329.3 1068.0,329.9 1066.5,330.3 1065.0,330.7 1063.5,331.0 M1041.5,355.0 1040.0,354.7 1039.0,354.0 1038.3,353.0 1037.7,351.5 1037.5,350.0 1037.6,348.5 1037.9,347.0 1038.5,345.5 1039.0,344.5 1039.7,343.5 1040.5,342.7 1041.5,341.9 1042.5,341.4 1044.0,341.1 1045.3,341.5 1046.5,342.5 1047.0,343.5 1047.4,345.0 1047.6,346.5 1047.4,348.0 1047.1,349.5 1046.5,350.9 1045.9,352.0 1045.2,353.0 1044.1,354.0 1043.0,354.7 1041.8,355.0 M1061.5,332.5 1060.0,332.6 1058.5,332.5 1057.0,332.3 1055.5,331.8 1054.5,331.3 1053.5,330.5 1052.7,329.5 1052.2,328.5 1051.9,327.0 1051.8,325.5 1052.0,324.0 1052.3,322.5 1052.8,321.0 1053.4,319.5 1053.9,318.5 1054.5,317.5 1055.1,316.5 1055.8,315.5 1056.5,314.5 1057.3,313.5 1058.1,312.5 1059.0,311.5 1060.0,310.5 1061.0,309.5 1062.0,308.6 1063.0,307.7 1063.9,307.0 1065.0,306.1 1066.0,305.3 1067.0,304.6 1067.9,304.0 1069.0,303.3 1070.0,302.7 1071.0,302.1 1072.0,301.6 1073.0,301.0 1074.0,300.5 1075.0,300.1 1076.4,299.5 1077.5,299.1 1079.0,298.6 1080.5,298.1 1082.0,297.8 1083.5,297.5 1085.0,297.4 1086.5,297.3 1088.0,297.5 1089.5,297.8 1091.0,298.4 1092.0,299.1 1092.9,300.0 1093.5,301.0 1093.9,302.5 1094.0,304.0 1093.9,305.5 1093.6,307.0 1093.0,308.5 1092.5,309.8 1092.0,310.8 1091.3,312.0 1090.7,313.0 1090.0,314.0 1089.3,315.0 1088.5,316.0 1087.7,317.0 1086.8,318.0 1086.0,318.8 1085.0,319.9 1084.0,320.8 1083.0,321.7 1082.1,322.5 1081.0,323.4 1080.0,324.2 1079.0,325.0 1078.0,325.7 1077.0,326.4 1076.1,327.0 1075.0,327.7 1074.0,328.2 1073.0,328.8 1072.0,329.3 1071.0,329.8 1070.0,330.3 1068.5,330.9 1067.0,331.4 1065.5,331.8 1064.0,332.2 1062.5,332.4 M1042.5,356.1 1041.0,356.3 1039.7,356.0 1038.5,355.2 1037.5,354.0 1037.1,353.0 1036.7,351.5 1036.6,350.0 1036.7,348.5 1037.0,347.0 1037.5,345.5 1037.9,344.5 1038.5,343.5 1039.2,342.5 1040.0,341.6 1041.0,340.7 1042.0,340.1 1043.5,339.5 1045.0,339.5 1046.5,340.0 1047.5,341.0 1048.0,342.0 1048.5,343.5 1048.7,345.0 1048.7,346.5 1048.5,347.9 1048.3,349.0 1047.8,350.5 1047.3,351.5 1046.8,352.5 1046.1,353.5 1045.1,354.5 1044.0,355.4 1043.0,355.9 M1061.5,334.0 1060.0,334.2 1058.5,334.2 1057.0,334.1 1055.5,333.9 1054.0,333.5 1052.8,333.0 1051.6,332.0 1051.0,331.0 1050.5,329.5 1050.3,328.0 1050.3,326.5 1050.5,325.1 1050.8,323.5 1051.3,322.0 1051.9,320.5 1052.4,319.5 1052.9,318.5 1053.5,317.5 1054.1,316.5 1054.8,315.5 1055.5,314.5 1056.3,313.5 1057.2,312.5 1058.0,311.6 1059.0,310.5 1060.0,309.5 1061.0,308.6 1062.0,307.7 1063.0,306.9 1064.0,306.0 1065.0,305.3 1066.0,304.5 1067.0,303.8 1068.0,303.2 1069.0,302.5 1070.0,301.9 1071.0,301.4 1072.0,300.8 1073.0,300.3 1074.0,299.8 1075.0,299.4 1076.5,298.7 1078.0,298.1 1079.5,297.6 1081.0,297.2 1082.5,296.9 1084.0,296.6 1085.5,296.5 1087.0,296.4 1088.3,296.5 1089.5,296.7 1090.7,297.0 1091.9,297.5 1093.0,298.2 1094.0,299.3 1094.7,300.5 1095.1,302.0 1095.2,303.5 1095.1,305.0 1094.7,306.5 1094.3,308.0 1093.6,309.5 1093.1,310.5 1092.6,311.5 1092.0,312.5 1091.4,313.5 1090.7,314.5 1090.0,315.4 1089.2,316.5 1088.3,317.5 1087.5,318.4 1086.5,319.5 1085.5,320.5 1084.5,321.5 1083.5,322.4 1082.5,323.3 1081.5,324.2 1080.5,325.0 1079.5,325.8 1078.5,326.5 1077.5,327.2 1076.5,327.9 1075.6,328.5 1074.5,329.1 1073.5,329.7 1072.5,330.3 1071.5,330.8 1070.5,331.3 1069.5,331.7 1068.0,332.3 1066.5,332.9 1065.0,333.3 1063.5,333.7 1062.0,334.0 M1043.0,357.1 1041.5,357.4 1040.0,357.3 1038.5,356.6 1037.5,355.7 1036.7,354.5 1036.1,353.0 1035.8,351.5 1035.7,350.0 1035.8,348.5 1036.0,347.4 1036.4,346.0 1036.9,344.5 1037.4,343.5 1038.0,342.5 1038.8,341.5 1039.5,340.6 1040.5,339.7 1041.4,339.0 1042.5,338.4 1044.0,337.8 1045.5,337.5 1047.0,337.8 1048.0,338.4 1048.8,339.5 1049.4,341.0 1049.7,342.5 1049.9,344.0 1049.9,345.5 1049.7,347.0 1049.4,348.5 1049.0,349.9 1048.6,351.0 1048.1,352.0 1047.5,353.0 1046.8,354.0 1046.0,355.0 1045.0,355.9 1044.0,356.6 1043.0,357.1 M1042.5,358.1 1041.0,358.3 1039.5,358.1 1038.2,357.5 1037.0,356.5 1036.3,355.5 1035.8,354.5 1035.3,353.0 1035.1,351.5 1035.0,350.0 1035.1,348.5 1035.4,347.0 1035.8,345.5 1036.4,344.0 1036.9,343.0 1037.5,342.0 1038.2,341.0 1039.0,340.0 1040.0,339.0 1041.0,338.1 1042.0,337.4 1043.0,336.8 1044.0,336.3 1045.5,335.7 1047.0,335.1 1048.0,334.6 1048.7,333.5 1048.8,332.0 1048.8,330.5 1048.9,329.0 1049.0,327.5 1049.2,326.0 1049.5,324.6 1049.8,323.5 1050.3,322.0 1051.0,320.5 1051.5,319.5 1052.0,318.5 1052.6,317.5 1053.3,316.5 1054.0,315.5 1054.7,314.5 1055.5,313.5 1056.4,312.5 1057.2,311.5 1058.0,310.7 1059.0,309.7 1060.0,308.7 1060.8,308.0 1062.0,307.0 1063.0,306.1 1064.0,305.4 1065.0,304.6 1066.0,303.9 1067.0,303.2 1068.0,302.5 1069.0,301.9 1070.0,301.3 1071.0,300.7 1072.0,300.2 1073.0,299.7 1074.0,299.2 1075.0,298.7 1076.5,298.1 1078.0,297.5 1079.5,297.0 1081.0,296.6 1082.5,296.2 1083.7,296.0 1085.0,295.8 1086.5,295.7 1088.0,295.7 1089.5,295.8 1091.0,296.1 1092.1,296.5 1093.1,297.0 1094.0,297.7 1094.8,298.5 1095.4,299.5 1096.0,301.0 1096.2,302.5 1096.1,304.0 1095.9,305.5 1095.5,306.9 1095.1,308.0 1094.5,309.5 1094.0,310.5 1093.5,311.5 1092.9,312.5 1092.2,313.5 1091.5,314.5 1090.8,315.5 1090.1,316.5 1089.3,317.5 1088.5,318.4 1087.5,319.5 1086.6,320.5 1085.6,321.5 1084.5,322.5 1083.5,323.5 1082.5,324.4 1081.5,325.2 1080.5,326.0 1079.5,326.8 1078.6,327.5 1077.5,328.3 1076.5,329.0 1075.5,329.6 1074.5,330.3 1073.5,330.8 1072.5,331.4 1071.5,331.9 1070.5,332.4 1069.5,332.9 1068.1,333.5 1067.0,333.9 1065.5,334.4 1064.0,334.9 1062.5,335.2 1061.0,335.5 1059.5,335.6 1058.0,335.7 1056.5,335.8 1055.0,335.8 1053.5,335.9 1052.0,336.2 1051.1,337.0 1050.9,338.5 1050.9,340.0 1051.0,341.5 1051.0,343.0 1050.9,344.5 1050.8,346.0 1050.5,347.5 1050.1,349.0 1049.6,350.5 1049.0,351.8 1048.4,353.0 1047.7,354.0 1047.0,355.0 1046.0,356.0 1045.0,356.9 1044.0,357.5 1043.0,358.0 M1063.0,393.0 1061.5,393.2 1060.0,393.3 1058.5,393.4 1057.0,393.4 1055.5,393.3 1054.0,393.2 1052.5,393.0 1051.5,392.5 1052.5,392.0 1054.0,391.8 1055.5,391.7 1057.0,391.6 1058.5,391.6 1060.0,391.7 1061.5,391.8 1063.0,392.0 1064.0,392.5 1063.0,393.0 M1042.5,359.0 1041.0,359.3 1039.5,359.1 1038.0,358.5 1037.0,357.7 1036.0,356.5 1035.4,355.5 1034.8,354.0 1034.5,352.6 1034.3,351.0 1034.4,349.5 1034.5,348.1 1034.7,347.0 1035.0,345.8 1035.4,344.5 1036.0,343.2 1036.5,342.2 1037.2,341.0 1037.9,340.0 1038.7,339.0 1039.5,338.2 1040.5,337.2 1041.3,336.5 1042.5,335.6 1043.5,334.9 1044.5,334.1 1045.5,333.2 1046.3,332.0 1046.9,330.5 1047.3,329.0 1047.5,327.9 1047.8,326.5 1048.2,325.0 1048.7,323.5 1049.3,322.0 1049.7,321.0 1050.2,320.0 1050.8,319.0 1051.4,318.0 1052.0,317.0 1052.7,316.0 1053.4,315.0 1054.2,314.0 1055.0,313.0 1055.9,312.0 1056.8,311.0 1057.8,310.0 1058.8,309.0 1059.9,308.0 1061.0,307.0 1062.0,306.2 1062.9,305.5 1064.0,304.6 1065.0,303.9 1066.0,303.2 1067.0,302.5 1068.0,301.9 1069.0,301.2 1070.0,300.7 1071.0,300.1 1072.0,299.6 1073.0,299.0 1074.0,298.6 1075.0,298.1 1076.4,297.5 1077.5,297.1 1079.0,296.5 1080.5,296.0 1082.0,295.6 1083.5,295.3 1085.0,295.1 1086.5,294.9 1088.0,294.8 1089.5,294.9 1091.0,295.1 1092.3,295.5 1093.5,296.0 1094.5,296.6 1095.5,297.5 1096.2,298.5 1096.7,299.5 1097.1,301.0 1097.2,302.5 1097.1,304.0 1096.8,305.5 1096.5,306.7 1096.0,308.0 1095.5,309.3 1095.0,310.3 1094.4,311.5 1093.8,312.5 1093.2,313.5 1092.5,314.5 1091.8,315.5 1091.1,316.5 1090.3,317.5 1089.5,318.4 1088.6,319.5 1087.7,320.5 1086.8,321.5 1085.8,322.5 1084.7,323.5 1083.7,324.5 1082.6,325.5 1081.5,326.4 1080.5,327.3 1079.6,328.0 1078.5,328.8 1077.6,329.5 1076.5,330.3 1075.5,330.9 1074.5,331.6 1073.5,332.2 1072.5,332.8 1071.5,333.3 1070.5,333.9 1069.5,334.4 1068.5,334.8 1067.0,335.4 1065.5,336.0 1064.0,336.5 1062.5,336.8 1061.0,337.1 1059.5,337.4 1058.0,337.6 1056.5,337.9 1055.0,338.3 1054.0,339.0 1053.3,340.0 1052.7,341.5 1052.4,343.0 1052.1,344.5 1051.9,346.0 1051.5,347.5 1051.1,349.0 1050.5,350.5 1050.0,351.6 1049.5,352.6 1048.7,354.0 1048.0,355.0 1047.1,356.0 1046.1,357.0 1045.0,357.9 1044.0,358.5 1042.6,359.0 M1057.2,394.0 1056.0,394.0 1054.5,393.9 1053.0,393.8 1051.5,393.7 1050.0,393.5 1048.5,393.2 1047.0,392.5 1048.0,391.9 1049.5,391.6 1051.0,391.4 1052.5,391.2 1054.0,391.1 1055.5,391.0 1056.9,391.0 1058.0,391.0 1059.5,391.0 1061.0,391.1 1062.5,391.2 1064.0,391.3 1065.4,391.5 1066.5,391.8 1068.0,392.5 1067.0,393.1 1065.5,393.5 1064.0,393.7 1062.5,393.8 1061.0,393.9 1059.5,394.0 M1042.5,360.1 1041.0,360.3 1039.5,360.2 1038.0,359.7 1037.0,359.1 1036.0,358.1 1035.2,357.0 1034.6,356.0 1034.1,354.5 1033.7,353.0 1033.6,351.5 1033.5,350.0 1033.6,348.5 1033.9,347.0 1034.3,345.5 1034.8,344.0 1035.4,342.5 1035.9,341.5 1036.5,340.5 1037.1,339.5 1037.9,338.5 1038.7,337.5 1039.5,336.6 1040.5,335.6 1041.5,334.6 1042.5,333.6 1043.5,332.5 1044.3,331.5 1044.8,330.5 1045.3,329.5 1045.8,328.0 1046.3,326.5 1046.9,325.0 1047.4,323.5 1048.0,322.2 1048.5,321.1 1049.1,320.0 1049.7,319.0 1050.3,318.0 1050.9,317.0 1051.6,316.0 1052.4,315.0 1053.2,314.0 1054.0,313.0 1054.9,312.0 1055.8,311.0 1056.8,310.0 1057.8,309.0 1058.8,308.0 1060.0,307.0 1061.0,306.1 1062.0,305.3 1063.0,304.5 1064.0,303.8 1065.0,303.1 1066.0,302.4 1067.0,301.7 1068.0,301.1 1068.9,300.5 1070.0,299.9 1071.0,299.3 1072.0,298.8 1073.0,298.3 1074.0,297.8 1075.0,297.3 1076.5,296.7 1078.0,296.1 1079.5,295.6 1081.0,295.1 1082.5,294.7 1084.0,294.4 1085.5,294.1 1086.7,294.0 1088.0,293.9 1089.5,293.9 1091.0,294.1 1092.5,294.4 1094.0,294.9 1095.0,295.4 1096.0,296.1 1096.9,297.0 1097.5,298.0 1098.0,299.0 1098.3,300.5 1098.5,302.0 1098.4,303.5 1098.1,305.0 1097.7,306.5 1097.1,308.0 1096.5,309.5 1096.0,310.5 1095.5,311.5 1094.9,312.5 1094.3,313.5 1093.7,314.5 1093.0,315.5 1092.3,316.5 1091.5,317.5 1090.7,318.5 1090.0,319.4 1089.0,320.5 1088.2,321.5 1087.2,322.5 1086.3,323.5 1085.5,324.3 1084.5,325.3 1083.5,326.2 1082.7,327.0 1081.5,328.0 1080.5,328.9 1079.5,329.7 1078.5,330.5 1077.5,331.3 1076.5,332.0 1075.5,332.8 1074.5,333.4 1073.5,334.1 1072.5,334.7 1071.5,335.3 1070.5,335.9 1069.5,336.4 1068.5,336.9 1067.5,337.3 1066.0,338.0 1064.5,338.5 1063.0,339.0 1061.5,339.4 1060.0,339.7 1058.9,340.0 1057.5,340.4 1056.5,340.9 1055.5,341.7 1054.6,343.0 1054.1,344.0 1053.5,345.5 1053.0,346.9 1052.6,348.0 1052.1,349.5 1051.5,350.8 1051.0,351.8 1050.4,353.0 1049.8,354.0 1049.1,355.0 1048.3,356.0 1047.5,356.9 1046.5,357.8 1045.5,358.6 1044.5,359.3 1043.5,359.7 M1048.4,394.0 1047.0,393.8 1045.5,393.6 1044.0,393.3 1042.5,392.6 1043.5,392.0 1045.0,391.6 1046.5,391.3 1048.0,391.1 1049.5,390.9 1051.0,390.8 1052.5,390.7 1054.0,390.6 1055.5,390.5 1057.0,390.5 1058.5,390.5 1060.0,390.5 1061.5,390.6 1063.0,390.7 1064.5,390.8 1066.0,390.9 1067.5,391.1 1069.0,391.4 1070.5,391.9 1070.8,393.0 1069.5,393.5 1068.0,393.8 1066.7,394.0 M1043.0,361.0 1041.5,361.3 1040.0,361.4 1038.5,361.1 1037.2,360.5 1036.0,359.6 1035.0,358.5 1034.3,357.5 1033.8,356.5 1033.3,355.0 1032.9,353.5 1032.7,352.0 1032.7,350.5 1032.7,349.0 1032.9,347.5 1033.2,346.0 1033.7,344.5 1034.2,343.0 1034.9,341.5 1035.4,340.5 1036.0,339.5 1036.6,338.5 1037.3,337.5 1038.0,336.6 1038.9,335.5 1039.7,334.5 1040.5,333.6 1041.4,332.5 1042.1,331.5 1042.8,330.5 1043.4,329.5 1043.9,328.5 1044.5,327.0 1044.9,326.0 1045.5,324.7 1046.0,323.5 1046.5,322.5 1047.0,321.5 1047.5,320.5 1048.1,319.5 1048.7,318.5 1049.4,317.5 1050.1,316.5 1050.8,315.5 1051.5,314.6 1052.4,313.5 1053.3,312.5 1054.0,311.7 1055.0,310.6 1056.0,309.6 1057.0,308.6 1058.0,307.7 1059.0,306.8 1060.0,306.0 1061.0,305.1 1062.0,304.3 1063.0,303.6 1064.0,302.9 1065.0,302.2 1066.0,301.5 1067.0,300.8 1068.0,300.2 1069.0,299.6 1070.0,299.0 1071.0,298.5 1072.0,297.9 1073.0,297.4 1074.0,297.0 1075.0,296.5 1076.2,296.0 1077.4,295.5 1078.5,295.1 1080.0,294.6 1081.5,294.1 1083.0,293.7 1084.5,293.4 1086.0,293.1 1087.2,293.0 1088.5,292.9 1090.0,292.9 1091.5,293.0 1093.0,293.2 1094.5,293.7 1096.0,294.4 1096.9,295.0 1098.0,296.0 1098.7,297.0 1099.2,298.0 1099.6,299.5 1099.8,301.0 1099.7,302.5 1099.5,304.0 1099.2,305.5 1098.7,307.0 1098.2,308.5 1097.5,310.0 1097.0,311.0 1096.4,312.0 1095.9,313.0 1095.3,314.0 1094.6,315.0 1094.0,315.9 1093.3,317.0 1092.5,318.0 1091.8,319.0 1091.0,320.0 1090.2,321.0 1089.3,322.0 1088.5,323.0 1087.6,324.0 1086.7,325.0 1085.7,326.0 1084.8,327.0 1083.8,328.0 1082.7,329.0 1081.7,330.0 1080.6,331.0 1079.5,332.0 1078.5,332.8 1077.5,333.7 1076.5,334.5 1075.5,335.2 1074.5,336.0 1073.5,336.7 1072.5,337.3 1071.5,338.0 1070.5,338.6 1069.5,339.1 1068.5,339.7 1067.5,340.2 1066.5,340.6 1065.0,341.2 1063.5,341.8 1062.0,342.3 1060.5,342.8 1059.0,343.3 1058.0,343.8 1057.0,344.5 1056.0,345.5 1055.3,346.5 1054.6,347.5 1054.1,348.5 1053.6,349.5 1053.0,350.5 1052.5,351.5 1051.9,352.5 1051.3,353.5 1050.7,354.5 1050.0,355.4 1049.2,356.5 1048.3,357.5 1047.2,358.5 1046.0,359.5 1045.0,360.1 1044.0,360.6 M1043.0,394.0 1041.5,393.8 1040.0,393.6 1038.7,393.5 1037.5,393.3 1036.0,393.2 1034.5,393.1 1033.0,393.1 1031.5,393.1 1030.0,393.1 1028.5,393.1 1027.0,393.0 1028.5,392.6 1029.6,392.5 1031.0,392.5 1032.5,392.5 1034.0,392.4 1035.5,392.3 1037.0,392.1 1038.5,391.9 1040.0,391.6 1041.5,391.4 1043.0,391.1 1044.5,390.9 1046.0,390.7 1047.5,390.6 1049.0,390.4 1050.5,390.3 1052.0,390.2 1053.5,390.1 1055.0,390.1 1056.5,390.1 1058.0,390.1 1059.5,390.1 1061.0,390.1 1062.5,390.2 1064.0,390.2 1065.5,390.4 1067.0,390.5 1068.5,390.7 1070.0,390.9 1071.5,391.2 1072.7,391.5 1073.8,392.0 1073.5,393.1 1072.0,393.7 1070.7,394.0 M1041.0,362.5 1039.5,362.5 1038.0,362.2 1036.6,361.5 1035.5,360.7 1034.5,359.7 1033.7,358.5 1033.1,357.5 1032.5,356.0 1032.1,354.5 1031.9,353.0 1031.7,351.5 1031.7,350.0 1031.9,348.5 1032.1,347.0 1032.4,345.5 1032.8,344.0 1033.3,342.5 1034.0,341.0 1034.5,340.0 1035.0,339.0 1035.6,338.0 1036.2,337.0 1036.9,336.0 1037.6,335.0 1038.3,334.0 1039.0,333.1 1039.8,332.0 1040.5,331.0 1041.1,330.0 1041.7,329.0 1042.2,328.0 1042.7,327.0 1043.2,326.0 1043.7,325.0 1044.2,324.0 1044.7,323.0 1045.3,322.0 1045.8,321.0 1046.4,320.0 1047.0,319.1 1047.7,318.0 1048.4,317.0 1049.1,316.0 1049.9,315.0 1050.7,314.0 1051.5,313.1 1052.4,312.0 1053.4,311.0 1054.3,310.0 1055.3,309.0 1056.4,308.0 1057.5,307.0 1058.5,306.1 1059.5,305.3 1060.5,304.5 1061.5,303.7 1062.4,303.0 1063.5,302.2 1064.5,301.5 1065.5,300.8 1066.5,300.2 1067.5,299.6 1068.5,299.0 1069.5,298.4 1070.5,297.8 1071.5,297.3 1072.5,296.8 1073.5,296.3 1074.5,295.8 1076.0,295.2 1077.5,294.6 1079.0,294.0 1080.5,293.5 1082.0,293.0 1083.5,292.7 1085.0,292.3 1086.5,292.1 1088.0,291.9 1089.5,291.8 1091.0,291.8 1092.5,291.9 1094.0,292.2 1095.3,292.5 1096.5,293.0 1097.5,293.5 1098.5,294.3 1099.5,295.3 1100.2,296.5 1100.8,298.0 1101.1,299.5 1101.2,301.0 1101.1,302.5 1100.9,304.0 1100.5,305.5 1100.1,307.0 1099.5,308.5 1099.1,309.5 1098.6,310.5 1098.1,311.5 1097.6,312.5 1097.0,313.5 1096.4,314.5 1095.8,315.5 1095.2,316.5 1094.5,317.5 1093.8,318.5 1093.1,319.5 1092.4,320.5 1091.6,321.5 1090.8,322.5 1090.0,323.5 1089.2,324.5 1088.5,325.4 1087.6,326.5 1086.7,327.5 1086.0,328.3 1085.0,329.5 1084.1,330.5 1083.1,331.5 1082.2,332.5 1081.2,333.5 1080.1,334.5 1079.1,335.5 1078.0,336.5 1077.0,337.3 1076.0,338.1 1075.0,338.9 1074.0,339.7 1073.0,340.4 1072.1,341.0 1071.0,341.7 1070.0,342.3 1069.0,342.9 1068.0,343.4 1067.0,343.9 1066.0,344.4 1064.5,345.0 1063.5,345.4 1062.0,346.0 1060.6,346.5 1059.5,346.9 1058.5,347.5 1057.5,348.1 1056.5,349.0 1055.5,350.0 1054.7,351.0 1054.0,352.0 1053.3,353.0 1052.5,354.0 1051.8,355.0 1051.0,356.0 1050.2,357.0 1049.3,358.0 1048.2,359.0 1047.1,360.0 1046.0,360.7 1045.0,361.3 1044.0,361.8 1042.5,362.3 1041.0,362.5 M1023.5,394.0 1022.0,393.8 1020.8,393.5 1021.0,392.4 1022.5,392.0 1024.0,391.8 1025.5,391.7 1027.0,391.6 1028.5,391.5 1030.0,391.5 1031.5,391.4 1033.0,391.4 1034.5,391.3 1036.0,391.2 1037.5,391.1 1039.0,391.0 1040.5,390.8 1042.0,390.6 1043.5,390.5 1045.0,390.3 1046.5,390.2 1048.0,390.0 1049.5,389.9 1051.0,389.8 1052.5,389.8 1054.0,389.7 1055.5,389.7 1057.0,389.7 1058.5,389.7 1060.0,389.7 1061.5,389.7 1063.0,389.8 1064.5,389.8 1066.0,389.9 1067.5,390.0 1069.0,390.2 1070.5,390.4 1072.0,390.6 1073.5,390.9 1075.0,391.3 1076.5,392.0 1076.5,393.0 1075.5,393.6 1074.0,394.0 M1041.0,364.0 1039.5,364.0 1038.0,363.7 1036.5,363.2 1035.5,362.6 1034.5,361.8 1033.5,360.7 1032.7,359.5 1032.1,358.5 1031.5,357.0 1031.0,355.5 1030.7,354.0 1030.6,352.5 1030.5,351.0 1030.5,349.5 1030.7,348.0 1030.9,346.5 1031.2,345.0 1031.5,343.9 1032.0,342.5 1032.5,341.0 1032.9,340.0 1033.4,339.0 1033.9,338.0 1034.4,337.0 1035.0,336.0 1035.6,335.0 1036.2,334.0 1036.9,333.0 1037.5,332.0 1038.1,331.0 1038.8,330.0 1039.4,329.0 1039.9,328.0 1040.5,327.0 1041.0,326.0 1041.6,325.0 1042.1,324.0 1042.7,323.0 1043.3,322.0 1043.9,321.0 1044.5,320.1 1045.2,319.0 1045.9,318.0 1046.6,317.0 1047.4,316.0 1048.1,315.0 1049.0,314.0 1049.8,313.0 1050.7,312.0 1051.5,311.2 1052.5,310.1 1053.5,309.1 1054.5,308.2 1055.5,307.3 1056.3,306.5 1057.5,305.5 1058.5,304.7 1059.5,303.9 1060.5,303.1 1061.5,302.4 1062.5,301.6 1063.4,301.0 1064.5,300.3 1065.5,299.6 1066.4,299.0 1067.5,298.4 1068.5,297.8 1069.5,297.2 1070.5,296.6 1071.5,296.1 1072.5,295.6 1073.5,295.1 1074.5,294.7 1076.0,294.0 1077.2,293.5 1078.5,293.0 1079.9,292.5 1081.0,292.1 1082.5,291.7 1084.0,291.3 1085.4,291.0 1087.0,290.7 1088.5,290.5 1090.0,290.4 1091.5,290.4 1093.0,290.4 1094.5,290.6 1096.0,290.9 1097.5,291.4 1098.5,291.9 1099.4,292.5 1100.5,293.4 1101.5,294.5 1102.1,295.5 1102.5,296.5 1102.9,298.0 1103.1,299.5 1103.1,301.0 1102.9,302.5 1102.7,304.0 1102.3,305.5 1101.8,307.0 1101.3,308.5 1100.7,310.0 1100.2,311.0 1099.7,312.0 1099.2,313.0 1098.7,314.0 1098.1,315.0 1097.6,316.0 1097.0,317.0 1096.4,318.0 1095.8,319.0 1095.1,320.0 1094.5,321.0 1093.9,322.0 1093.2,323.0 1092.5,324.0 1091.8,325.0 1091.1,326.0 1090.5,326.9 1089.7,328.0 1089.0,329.0 1088.3,330.0 1087.5,331.0 1086.7,332.0 1086.0,332.9 1085.0,334.0 1084.2,335.0 1083.3,336.0 1082.5,336.8 1081.5,337.8 1080.5,338.8 1079.5,339.7 1078.6,340.5 1077.5,341.5 1076.5,342.3 1075.6,343.0 1074.5,343.8 1073.5,344.5 1072.5,345.1 1071.5,345.8 1070.5,346.4 1069.5,347.0 1068.5,347.5 1067.5,348.0 1066.5,348.5 1065.5,349.0 1064.2,349.5 1063.0,350.0 1061.7,350.5 1060.5,351.0 1059.3,351.5 1058.2,352.0 1057.0,352.7 1056.0,353.5 1055.0,354.4 1054.0,355.3 1053.0,356.3 1052.0,357.4 1051.0,358.4 1050.0,359.3 1049.0,360.2 1048.0,361.0 1047.0,361.7 1046.0,362.4 1045.0,362.9 1043.5,363.5 1042.0,363.9 M1018.1,394.0 1017.0,393.6 1016.7,392.5 1017.8,392.0 1019.0,391.7 1020.5,391.4 1022.0,391.2 1023.5,391.1 1025.0,391.0 1026.5,390.9 1028.0,390.9 1029.5,390.8 1031.0,390.8 1032.5,390.7 1034.0,390.6 1035.5,390.5 1037.0,390.4 1038.5,390.3 1040.0,390.2 1041.5,390.0 1043.0,389.9 1044.5,389.8 1046.0,389.6 1047.5,389.5 1049.0,389.4 1050.5,389.3 1052.0,389.3 1053.5,389.2 1055.0,389.2 1056.5,389.2 1058.0,389.2 1059.5,389.2 1061.0,389.2 1062.5,389.2 1064.0,389.3 1065.5,389.4 1067.0,389.5 1068.5,389.6 1070.0,389.7 1071.5,389.9 1073.0,390.1 1074.5,390.3 1076.0,390.6 1077.5,391.0 1079.0,391.5 1080.0,392.5 1079.0,393.5 1077.6,394.0 M1043.0,365.6 1041.5,365.9 1040.0,365.9 1038.5,365.8 1037.2,365.5 1036.0,365.1 1035.0,364.5 1034.0,363.8 1033.1,363.0 1032.2,362.0 1031.5,361.1 1030.9,360.0 1030.4,359.0 1029.8,357.5 1029.4,356.0 1029.1,354.5 1028.9,353.0 1028.8,351.5 1028.8,350.0 1028.9,348.5 1029.0,347.2 1029.2,346.0 1029.5,344.5 1029.9,343.0 1030.3,341.5 1030.9,340.0 1031.5,338.5 1032.0,337.3 1032.5,336.2 1033.0,335.2 1033.6,334.0 1034.2,333.0 1034.7,332.0 1035.3,331.0 1035.9,330.0 1036.4,329.0 1037.0,328.0 1037.6,327.0 1038.2,326.0 1038.8,325.0 1039.4,324.0 1040.0,323.0 1040.7,322.0 1041.3,321.0 1042.0,320.0 1042.7,319.0 1043.4,318.0 1044.2,317.0 1045.0,316.0 1045.8,315.0 1046.6,314.0 1047.5,313.0 1048.4,312.0 1049.4,311.0 1050.4,310.0 1051.4,309.0 1052.4,308.0 1053.5,307.0 1054.5,306.1 1055.5,305.3 1056.4,304.5 1057.5,303.6 1058.5,302.9 1059.5,302.1 1060.5,301.4 1061.5,300.6 1062.4,300.0 1063.5,299.3 1064.5,298.6 1065.5,298.0 1066.5,297.4 1067.5,296.8 1068.5,296.2 1069.5,295.7 1070.5,295.1 1071.5,294.6 1072.5,294.1 1073.5,293.6 1074.5,293.2 1076.0,292.5 1077.2,292.0 1078.5,291.5 1079.9,291.0 1081.0,290.6 1082.5,290.2 1084.0,289.8 1085.1,289.5 1086.5,289.2 1087.7,289.0 1089.0,288.8 1090.5,288.7 1092.0,288.6 1093.5,288.6 1095.0,288.7 1096.5,288.9 1098.0,289.3 1099.5,289.8 1100.5,290.3 1101.5,290.9 1102.5,291.7 1103.5,292.8 1104.3,294.0 1104.7,295.0 1105.2,296.5 1105.4,298.0 1105.5,299.5 1105.5,301.0 1105.3,302.5 1105.0,304.0 1104.7,305.5 1104.2,307.0 1103.7,308.5 1103.2,310.0 1102.6,311.5 1102.0,312.8 1101.5,313.9 1101.0,315.0 1100.5,316.0 1100.1,317.0 1099.6,318.0 1099.1,319.0 1098.6,320.0 1098.1,321.0 1097.5,322.0 1097.0,323.0 1096.5,324.0 1095.9,325.0 1095.4,326.0 1094.8,327.0 1094.2,328.0 1093.6,329.0 1093.0,330.0 1092.3,331.0 1091.6,332.0 1090.9,333.0 1090.2,334.0 1089.5,334.9 1088.6,336.0 1087.8,337.0 1087.0,337.9 1086.0,339.0 1085.0,340.0 1084.0,341.0 1083.0,342.0 1082.0,342.9 1081.0,343.8 1080.1,344.5 1079.0,345.4 1078.0,346.2 1077.0,347.0 1076.0,347.7 1075.0,348.4 1074.1,349.0 1073.0,349.7 1072.0,350.3 1071.0,350.9 1070.0,351.5 1069.0,352.0 1068.0,352.5 1067.0,353.0 1066.0,353.5 1064.8,354.0 1063.6,354.5 1062.5,354.9 1061.1,355.5 1060.0,355.9 1058.5,356.5 1057.5,357.0 1056.5,357.5 1055.5,358.0 1054.5,358.7 1053.5,359.4 1052.5,360.1 1051.5,360.8 1050.6,361.5 1049.5,362.3 1048.5,363.0 1047.5,363.6 1046.5,364.2 1045.5,364.7 1044.0,365.3 M1014.2,394.0 1013.0,393.0 1014.0,392.0 1015.5,391.5 1017.0,391.2 1018.5,390.9 1020.0,390.7 1021.5,390.6 1023.0,390.4 1024.5,390.4 1026.0,390.3 1027.5,390.2 1029.0,390.1 1030.5,390.1 1032.0,390.0 1033.5,389.9 1035.0,389.9 1036.5,389.8 1038.0,389.6 1039.5,389.5 1041.0,389.4 1042.5,389.3 1044.0,389.2 1045.5,389.1 1047.0,389.0 1048.5,388.9 1050.0,388.8 1051.5,388.7 1053.0,388.7 1054.5,388.7 1056.0,388.6 1057.5,388.6 1059.0,388.6 1060.5,388.7 1062.0,388.7 1063.5,388.7 1065.0,388.8 1066.5,388.9 1068.0,389.0 1069.5,389.1 1071.0,389.2 1072.5,389.3 1074.0,389.5 1075.5,389.7 1077.0,389.9 1078.5,390.2 1079.8,390.5 1081.0,390.8 1082.5,391.4 1083.5,392.3 1082.7,393.5 1081.5,394.0 M1042.0,368.5 1040.5,368.7 1039.0,368.7 1037.6,368.5 1036.5,368.3 1035.0,367.7 1034.0,367.3 1033.0,366.6 1032.0,365.9 1031.0,365.0 1030.1,364.0 1029.3,363.0 1028.7,362.0 1028.1,361.0 1027.6,360.0 1027.0,358.5 1026.5,357.0 1026.2,355.5 1025.9,354.0 1025.7,352.5 1025.6,351.0 1025.6,349.5 1025.7,348.0 1025.9,346.5 1026.1,345.0 1026.4,343.5 1026.7,342.0 1027.2,340.5 1027.5,339.4 1028.0,338.0 1028.5,336.6 1029.0,335.5 1029.5,334.3 1030.0,333.2 1030.5,332.2 1031.0,331.2 1031.7,330.0 1032.2,329.0 1032.8,328.0 1033.4,327.0 1034.0,326.0 1034.7,325.0 1035.3,324.0 1036.0,323.0 1036.7,322.0 1037.4,321.0 1038.1,320.0 1038.9,319.0 1039.7,318.0 1040.5,317.0 1041.3,316.0 1042.2,315.0 1043.0,314.1 1044.0,313.0 1044.9,312.0 1045.9,311.0 1046.9,310.0 1047.9,309.0 1049.0,308.0 1050.0,307.1 1051.0,306.2 1052.0,305.3 1053.0,304.5 1054.0,303.7 1055.0,302.9 1056.0,302.1 1057.0,301.4 1058.0,300.6 1059.0,299.9 1060.0,299.2 1061.0,298.5 1062.0,297.9 1063.0,297.2 1064.0,296.6 1065.0,296.0 1066.0,295.4 1067.0,294.8 1068.0,294.3 1069.0,293.7 1070.0,293.2 1071.0,292.7 1072.0,292.2 1073.0,291.7 1074.0,291.2 1075.5,290.6 1076.9,290.0 1078.0,289.6 1079.5,289.0 1081.0,288.5 1082.5,288.0 1084.0,287.6 1085.5,287.2 1087.0,286.9 1088.5,286.6 1090.0,286.4 1091.5,286.2 1093.0,286.1 1094.5,286.1 1096.0,286.1 1097.5,286.3 1098.9,286.5 1100.0,286.7 1101.5,287.2 1103.0,287.9 1104.0,288.5 1105.0,289.2 1105.9,290.0 1106.7,291.0 1107.4,292.0 1107.9,293.0 1108.4,294.5 1108.8,296.0 1109.0,297.5 1109.0,299.0 1109.0,300.5 1108.8,302.0 1108.6,303.5 1108.4,305.0 1108.0,306.5 1107.7,308.0 1107.3,309.5 1106.8,311.0 1106.5,312.1 1106.1,313.5 1105.6,315.0 1105.1,316.5 1104.6,318.0 1104.1,319.5 1103.5,320.9 1103.1,322.0 1102.5,323.3 1102.0,324.5 1101.5,325.5 1101.0,326.5 1100.5,327.5 1099.9,328.5 1099.4,329.5 1098.8,330.5 1098.1,331.5 1097.5,332.5 1096.8,333.5 1096.1,334.5 1095.4,335.5 1094.6,336.5 1093.8,337.5 1093.0,338.5 1092.1,339.5 1091.2,340.5 1090.3,341.5 1089.5,342.3 1088.5,343.4 1087.5,344.3 1086.5,345.3 1085.5,346.2 1084.6,347.0 1083.5,347.9 1082.5,348.7 1081.6,349.5 1080.5,350.3 1079.6,351.0 1078.5,351.8 1077.5,352.5 1076.5,353.2 1075.5,353.8 1074.5,354.5 1073.5,355.1 1072.5,355.7 1071.5,356.2 1070.5,356.8 1069.5,357.3 1068.5,357.8 1067.5,358.3 1066.5,358.8 1065.5,359.3 1064.0,359.9 1062.6,360.5 1061.5,360.9 1060.0,361.5 1058.5,362.0 1057.1,362.5 1056.0,362.9 1054.6,363.5 1053.5,364.0 1052.5,364.4 1051.5,364.9 1050.5,365.4 1049.5,365.9 1048.5,366.4 1047.5,366.8 1046.0,367.4 1044.5,368.0 1043.0,368.3 M1010.2,394.0 1009.3,393.0 1010.0,392.1 1011.0,391.6 1012.5,391.1 1014.0,390.7 1015.2,390.5 1016.5,390.3 1018.0,390.1 1019.5,390.0 1021.0,389.8 1022.5,389.7 1024.0,389.6 1025.5,389.5 1027.0,389.5 1028.5,389.4 1030.0,389.3 1031.5,389.2 1033.0,389.2 1034.5,389.1 1035.6,389.0 1037.0,388.9 1038.5,388.8 1040.0,388.7 1041.5,388.6 1043.0,388.5 1044.5,388.4 1046.0,388.3 1047.5,388.2 1049.0,388.1 1050.5,388.1 1052.0,388.0 1053.4,388.0 1055.0,388.0 1056.5,388.0 1058.0,388.0 1059.5,388.0 1061.0,388.0 1062.5,388.0 1064.0,388.1 1065.5,388.1 1067.0,388.2 1068.5,388.3 1070.0,388.3 1071.5,388.5 1073.0,388.6 1074.5,388.7 1076.0,388.9 1077.5,389.1 1079.0,389.3 1080.4,389.5 1081.5,389.7 1083.0,390.0 1084.5,390.4 1086.0,390.9 1087.0,391.4 1088.0,392.5 1087.3,393.5 M1043.0,373.6 1041.5,373.8 1040.0,373.9 1038.5,373.9 1037.0,373.8 1035.5,373.6 1034.0,373.2 1032.5,372.8 1031.0,372.2 1029.5,371.5 1028.5,371.0 1027.5,370.4 1026.5,369.7 1025.5,369.0 1024.5,368.2 1023.5,367.2 1022.5,366.2 1021.5,365.0 1020.8,364.0 1020.2,363.0 1019.7,362.0 1019.2,361.0 1018.6,359.5 1018.2,358.0 1017.9,356.5 1017.7,355.0 1017.5,353.5 1017.5,352.0 1017.5,350.5 1017.6,349.0 1017.8,347.5 1018.1,346.0 1018.4,344.5 1018.8,343.0 1019.2,341.5 1019.7,340.0 1020.3,338.5 1020.9,337.0 1021.5,335.5 1022.0,334.5 1022.5,333.5 1023.0,332.5 1023.5,331.5 1024.0,330.5 1024.6,329.5 1025.2,328.5 1025.8,327.5 1026.5,326.5 1027.1,325.5 1027.8,324.5 1028.5,323.5 1029.2,322.5 1030.0,321.5 1030.8,320.5 1031.5,319.6 1032.4,318.5 1033.2,317.5 1034.0,316.6 1035.0,315.5 1035.9,314.5 1036.8,313.5 1037.8,312.5 1038.8,311.5 1039.8,310.5 1040.8,309.5 1041.9,308.5 1043.0,307.5 1044.0,306.6 1045.0,305.7 1045.9,305.0 1047.0,304.1 1048.0,303.2 1048.9,302.5 1050.0,301.7 1050.9,301.0 1052.0,300.2 1052.9,299.5 1054.0,298.7 1055.0,298.1 1056.0,297.4 1057.0,296.7 1058.0,296.1 1059.0,295.4 1060.0,294.8 1061.0,294.2 1062.0,293.6 1063.0,293.0 1064.0,292.4 1065.0,291.9 1066.0,291.4 1067.0,290.8 1068.0,290.3 1069.0,289.8 1070.0,289.3 1071.0,288.9 1072.0,288.4 1073.5,287.7 1075.0,287.1 1076.5,286.5 1077.8,286.0 1079.0,285.6 1080.5,285.0 1082.0,284.6 1083.5,284.1 1085.0,283.7 1086.5,283.3 1088.0,283.0 1089.5,282.7 1090.8,282.5 1092.0,282.3 1093.5,282.2 1095.0,282.1 1096.5,282.0 1098.0,282.0 1099.5,282.1 1101.0,282.2 1102.5,282.5 1104.0,282.8 1105.5,283.3 1107.0,284.0 1108.0,284.5 1109.0,285.1 1110.0,285.9 1111.0,286.8 1112.0,288.0 1112.7,289.0 1113.3,290.0 1113.7,291.0 1114.3,292.5 1114.7,294.0 1115.0,295.5 1115.2,297.0 1115.3,298.5 1115.4,300.0 1115.4,301.5 1115.3,303.0 1115.3,304.5 1115.2,306.0 1115.0,307.5 1114.9,309.0 1114.7,310.5 1114.4,312.0 1114.1,313.5 1113.8,315.0 1113.4,316.5 1113.0,317.8 1112.6,319.0 1112.1,320.5 1111.5,322.0 1111.1,323.0 1110.5,324.3 1110.0,325.3 1109.5,326.4 1108.9,327.5 1108.4,328.5 1107.8,329.5 1107.2,330.5 1106.6,331.5 1106.0,332.4 1105.3,333.5 1104.6,334.5 1103.9,335.5 1103.2,336.5 1102.5,337.4 1101.7,338.5 1100.9,339.5 1100.1,340.5 1099.2,341.5 1098.3,342.5 1097.5,343.4 1096.5,344.5 1095.6,345.5 1094.6,346.5 1093.6,347.5 1092.5,348.5 1091.5,349.5 1090.5,350.4 1089.5,351.2 1088.6,352.0 1087.5,352.9 1086.5,353.8 1085.6,354.5 1084.5,355.3 1083.6,356.0 1082.5,356.8 1081.6,357.5 1080.5,358.2 1079.5,358.9 1078.5,359.6 1077.5,360.2 1076.5,360.9 1075.5,361.5 1074.5,362.1 1073.5,362.7 1072.5,363.2 1071.5,363.8 1070.5,364.3 1069.5,364.8 1068.5,365.3 1067.5,365.8 1066.5,366.3 1065.5,366.7 1064.0,367.4 1062.5,368.0 1061.2,368.5 1060.0,369.0 1058.5,369.5 1057.0,370.0 1055.5,370.5 1054.0,370.9 1052.5,371.3 1051.0,371.8 1049.5,372.2 1048.2,372.5 1047.0,372.8 1045.5,373.1 1044.0,373.4 M1008.0,390.7 1009.5,390.3 1010.9,390.0 1012.0,389.8 1013.5,389.5 1015.0,389.3 1016.5,389.1 1018.0,389.0 1019.5,388.9 1021.0,388.7 1022.5,388.6 1024.0,388.6 1025.5,388.5 1027.0,388.4 1028.5,388.3 1030.0,388.2 1031.5,388.1 1033.0,388.0 1034.5,387.9 1036.0,387.8 1037.5,387.7 1039.0,387.6 1040.5,387.5 1042.0,387.4 1043.5,387.3 1045.0,387.2 1046.5,387.2 1048.0,387.1 1049.5,387.1 1051.0,387.0 1052.5,387.0 1054.0,387.0 1055.5,387.0 1057.0,387.0 1058.5,387.0 1059.7,387.0 1061.0,387.0 1062.5,387.0 1064.0,387.1 1065.5,387.1 1067.0,387.2 1068.5,387.2 1070.0,387.3 1071.5,387.4 1073.0,387.5 1074.5,387.6 1076.0,387.8 1077.5,387.9 1079.0,388.1 1080.5,388.2 1082.0,388.4 1083.5,388.6 1085.0,388.9 1086.5,389.1 1088.0,389.5 1089.5,389.8 1091.0,390.3 1092.5,390.9 1093.5,391.4 1094.2,392.5 1093.6,393.5" fill="none" stroke="#5e5e5e" stroke-width="0.45" clip-path="url(#cp3)"/>
<rect x="593.5" y="258.7" width="136.3" height="136.5" fill="none" stroke="#6e6e6e" stroke-width="0.9"/>
<rect x="770" y="258.7" width="136.3" height="136.5" fill="none" stroke="#6e6e6e" stroke-width="0.9"/>
<path d="M1144.0,258.7 H1007.7 V395.2 H1144.0" fill="none" stroke="#6e6e6e" stroke-width="0.9"/>
<rect x="635.3" y="327" width="89.7" height="60.7" fill="none" stroke="#555" stroke-width="1.1"/>
<rect x="811.6" y="327" width="89.8" height="60.7" fill="none" stroke="#555" stroke-width="1.1"/>
<path d="M1050.2,258.7 V394.9 M1007.7,336.5 H1143.8" stroke="#444" stroke-width="1.1"/>
<path d="M589.1,394.3h4.4M590.8,389.1h2.7M590.8,383.9h2.7M590.8,378.7h2.7M590.8,373.5h2.7M589.1,368.4h4.4M590.8,363.2h2.7M590.8,358.0h2.7M590.8,352.8h2.7M590.8,347.6h2.7M589.1,342.4h4.4M590.8,337.2h2.7M590.8,332.0h2.7M590.8,326.8h2.7M590.8,321.6h2.7M589.1,316.5h4.4M590.8,311.3h2.7M590.8,306.1h2.7M590.8,300.9h2.7M590.8,295.7h2.7M589.1,290.5h4.4M590.8,285.3h2.7M590.8,280.1h2.7M590.8,274.9h2.7M590.8,269.7h2.7M589.1,264.6h4.4" stroke="#333" stroke-width="0.8"/>
<text x="586.60" y="394.50" font-size="12.0" text-anchor="end">0</text>
<text x="586.60" y="375.55" font-size="12.0" text-anchor="end">50K</text>
<text x="586.60" y="349.60" font-size="12.0" text-anchor="end">100K</text>
<text x="586.60" y="323.65" font-size="12.0" text-anchor="end">150K</text>
<text x="586.60" y="297.70" font-size="12.0" text-anchor="end">200K</text>
<text x="586.60" y="271.75" font-size="12.0" text-anchor="end">250K</text>
<path d="M765.6,394.3h4.4M767.3,389.1h2.7M767.3,383.9h2.7M767.3,378.7h2.7M767.3,373.5h2.7M765.6,368.4h4.4M767.3,363.2h2.7M767.3,358.0h2.7M767.3,352.8h2.7M767.3,347.6h2.7M765.6,342.4h4.4M767.3,337.2h2.7M767.3,332.0h2.7M767.3,326.8h2.7M767.3,321.6h2.7M765.6,316.5h4.4M767.3,311.3h2.7M767.3,306.1h2.7M767.3,300.9h2.7M767.3,295.7h2.7M765.6,290.5h4.4M767.3,285.3h2.7M767.3,280.1h2.7M767.3,274.9h2.7M767.3,269.7h2.7M765.6,264.6h4.4" stroke="#333" stroke-width="0.8"/>
<text x="763.10" y="394.50" font-size="12.0" text-anchor="end">0</text>
<text x="763.10" y="375.55" font-size="12.0" text-anchor="end">50K</text>
<text x="763.10" y="349.60" font-size="12.0" text-anchor="end">100K</text>
<text x="763.10" y="323.65" font-size="12.0" text-anchor="end">150K</text>
<text x="763.10" y="297.70" font-size="12.0" text-anchor="end">200K</text>
<text x="763.10" y="271.75" font-size="12.0" text-anchor="end">250K</text>
<path d="M606.9,395.2v3.6M615.4,395.2v2M620.5,395.2v2M624.0,395.2v2M626.8,395.2v2M629.0,395.2v2M630.9,395.2v2M632.5,395.2v2M634.0,395.2v2M635.3,395.2v3.6M643.4,395.2v2M648.2,395.2v2M651.6,395.2v2M654.2,395.2v2M656.3,395.2v2M658.1,395.2v2M659.7,395.2v2M661.1,395.2v2M662.3,395.2v3.6M670.6,395.2v2M675.5,395.2v2M679.0,395.2v2M681.7,395.2v2M683.9,395.2v2M685.7,395.2v2M687.3,395.2v2M688.7,395.2v2M690.0,395.2v3.6M698.1,395.2v2M702.8,395.2v2M706.2,395.2v2M708.8,395.2v2M710.9,395.2v2M712.7,395.2v2M714.3,395.2v2M715.7,395.2v2M716.9,395.2v3.6M600.9,395.2v2M602.4,395.2v2M603.5,395.2v2M604.4,395.2v2M605.1,395.2v2M605.8,395.2v2M606.4,395.2v2" stroke="#333" stroke-width="0.8"/>
<text x="603.90" y="416.90" font-size="11.4">10</text>
<text x="617.70" y="407.20" font-size="11.4">1</text>
<text x="631.70" y="416.90" font-size="11.4">10</text>
<text x="645.50" y="407.20" font-size="11.4">2</text>
<text x="658.90" y="416.90" font-size="11.4">10</text>
<text x="672.70" y="407.20" font-size="11.4">3</text>
<text x="686.70" y="416.90" font-size="11.4">10</text>
<text x="700.50" y="407.20" font-size="11.4">4</text>
<text x="710.20" y="416.90" font-size="11.4">10</text>
<text x="724.00" y="407.20" font-size="11.4">5</text>
<path d="M783.4,395.2v3.6M791.9,395.2v2M797.0,395.2v2M800.5,395.2v2M803.3,395.2v2M805.5,395.2v2M807.4,395.2v2M809.0,395.2v2M810.5,395.2v2M811.8,395.2v3.6M819.9,395.2v2M824.7,395.2v2M828.1,395.2v2M830.7,395.2v2M832.8,395.2v2M834.6,395.2v2M836.2,395.2v2M837.6,395.2v2M838.8,395.2v3.6M847.1,395.2v2M852.0,395.2v2M855.5,395.2v2M858.2,395.2v2M860.4,395.2v2M862.2,395.2v2M863.8,395.2v2M865.2,395.2v2M866.5,395.2v3.6M874.6,395.2v2M879.3,395.2v2M882.7,395.2v2M885.3,395.2v2M887.4,395.2v2M889.2,395.2v2M890.8,395.2v2M892.2,395.2v2M893.4,395.2v3.6M777.4,395.2v2M778.9,395.2v2M780.0,395.2v2M780.9,395.2v2M781.6,395.2v2M782.3,395.2v2M782.9,395.2v2" stroke="#333" stroke-width="0.8"/>
<text x="780.40" y="416.90" font-size="11.4">10</text>
<text x="794.20" y="407.20" font-size="11.4">1</text>
<text x="808.20" y="416.90" font-size="11.4">10</text>
<text x="822.00" y="407.20" font-size="11.4">2</text>
<text x="835.40" y="416.90" font-size="11.4">10</text>
<text x="849.20" y="407.20" font-size="11.4">3</text>
<text x="863.20" y="416.90" font-size="11.4">10</text>
<text x="877.00" y="407.20" font-size="11.4">4</text>
<text x="886.70" y="416.90" font-size="11.4">10</text>
<text x="900.50" y="407.20" font-size="11.4">5</text>
<path d="M1021.1,394.9v3.6M1029.6,394.9v2M1034.7,394.9v2M1038.2,394.9v2M1041.0,394.9v2M1043.2,394.9v2M1045.1,394.9v2M1046.7,394.9v2M1048.2,394.9v2M1049.5,394.9v3.6M1057.6,394.9v2M1062.4,394.9v2M1065.8,394.9v2M1068.4,394.9v2M1070.5,394.9v2M1072.3,394.9v2M1073.9,394.9v2M1075.3,394.9v2M1076.5,394.9v3.6M1084.8,394.9v2M1089.7,394.9v2M1093.2,394.9v2M1095.9,394.9v2M1098.1,394.9v2M1099.9,394.9v2M1101.5,394.9v2M1102.9,394.9v2M1104.2,394.9v3.6M1112.3,394.9v2M1117.0,394.9v2M1120.4,394.9v2M1123.0,394.9v2M1125.1,394.9v2M1126.9,394.9v2M1128.5,394.9v2M1129.9,394.9v2M1131.1,394.9v3.6M1015.1,394.9v2M1016.6,394.9v2M1017.7,394.9v2M1018.6,394.9v2M1019.3,394.9v2M1020.0,394.9v2M1020.6,394.9v2" stroke="#333" stroke-width="0.8"/>
<text x="1018.10" y="416.60" font-size="11.4">10</text>
<text x="1031.90" y="406.90" font-size="11.4">1</text>
<text x="1045.90" y="416.60" font-size="11.4">10</text>
<text x="1059.70" y="406.90" font-size="11.4">2</text>
<text x="1073.10" y="416.60" font-size="11.4">10</text>
<text x="1086.90" y="406.90" font-size="11.4">3</text>
<text x="1100.90" y="416.60" font-size="11.4">10</text>
<text x="1114.70" y="406.90" font-size="11.4">4</text>
<text x="1124.40" y="416.60" font-size="11.4">10</text>
<text x="1138.20" y="406.90" font-size="11.4">5</text>
<path d="M1003.7,380.3h4M1005.7,372.0h2M1005.7,367.2h2M1005.7,363.7h2M1005.7,361.1h2M1005.7,358.9h2M1005.7,357.1h2M1005.7,355.5h2M1005.7,354.1h2M1003.7,352.8h4M1005.7,344.6h2M1005.7,339.7h2M1005.7,336.3h2M1005.7,333.6h2M1005.7,331.5h2M1005.7,329.6h2M1005.7,328.1h2M1005.7,326.7h2M1003.7,325.4h4M1005.7,317.1h2M1005.7,312.2h2M1005.7,308.7h2M1005.7,306.0h2M1005.7,303.8h2M1005.7,302.0h2M1005.7,300.4h2M1005.7,299.0h2M1003.7,297.7h4M1005.7,289.4h2M1005.7,284.5h2M1005.7,281.0h2M1005.7,278.3h2M1005.7,276.1h2M1005.7,274.3h2M1005.7,272.7h2M1005.7,271.3h2M1003.7,270.0h4M1005.7,383.8h2M1005.7,385.9h2M1005.7,387.3h2M1005.7,388.5h2M1005.7,389.4h2M1005.7,390.2h2M1005.7,390.9h2M1005.7,391.5h2" stroke="#333" stroke-width="0.8"/>
<text x="980.50" y="391.30" font-size="11.4">10</text>
<text x="995.20" y="382.50" font-size="11.4">1</text>
<text x="980.50" y="363.80" font-size="11.4">10</text>
<text x="995.20" y="355.00" font-size="11.4">2</text>
<text x="980.50" y="336.40" font-size="11.4">10</text>
<text x="995.20" y="327.60" font-size="11.4">3</text>
<text x="980.50" y="308.70" font-size="11.4">10</text>
<text x="995.20" y="299.90" font-size="11.4">4</text>
<text x="980.50" y="281.00" font-size="11.4">10</text>
<text x="995.20" y="272.20" font-size="11.4">5</text>
<text x="684.80" y="307.20" font-size="15.8" text-anchor="middle">93.3</text>
<text x="861.00" y="307.30" font-size="15.8" text-anchor="middle">82.6</text>
<text x="1025.00" y="281.00" font-size="15.8" text-anchor="middle">11.2</text>
<text x="1109.50" y="281.00" font-size="15.8" text-anchor="middle">49.0</text>
<text x="1025.00" y="382.00" font-size="15.8" text-anchor="middle">22.1</text>
<text x="1110.00" y="382.00" font-size="15.8" text-anchor="middle">17.6</text>
<text x="0.00" y="645.20" font-size="31">d</text>
<path d="M37.6,689.7h100M37.6,709.4000000000001h100M37.6,729.2h100" stroke="#c9c9c9" stroke-width="0.9"/>
<path d="M64.1,689.7 L64.1,689.6 L64.6,689.5 L65.1,689.4 L65.6,689.2 L66.1,688.9 L66.6,688.5 L67.1,688.0 L67.6,687.2 L68.1,686.2 L68.6,685.0 L69.1,683.6 L69.6,682.0 L70.1,680.2 L70.6,678.4 L71.1,676.6 L71.6,675.1 L72.1,673.8 L72.6,673.0 L73.1,672.6 L73.6,672.7 L74.1,673.4 L74.6,674.4 L75.1,675.7 L75.6,677.3 L76.1,678.8 L76.6,680.4 L77.1,681.8 L77.6,683.0 L78.1,684.0 L78.6,684.7 L79.1,685.2 L79.6,685.6 L80.1,685.8 L80.6,685.9 L81.1,685.8 L81.6,685.8 L82.1,685.6 L82.6,685.5 L83.1,685.3 L83.6,685.1 L84.1,685.0 L84.6,684.8 L85.1,684.6 L85.6,684.4 L86.1,684.2 L86.6,684.0 L87.1,683.7 L87.6,683.5 L88.1,683.2 L88.6,683.0 L89.1,682.7 L89.6,682.4 L90.1,682.0 L90.6,681.7 L91.1,681.3 L91.6,680.9 L92.1,680.5 L92.6,680.0 L93.1,679.6 L93.6,679.1 L94.1,678.6 L94.6,678.0 L95.1,677.4 L95.6,676.8 L96.1,676.1 L96.6,675.3 L97.1,674.4 L97.6,673.5 L98.1,672.4 L98.6,671.1 L99.1,669.7 L99.6,668.2 L100.1,666.5 L100.6,664.7 L101.1,662.9 L101.6,661.0 L102.1,659.3 L102.6,657.7 L103.1,656.3 L103.6,655.3 L104.1,654.8 L104.6,654.7 L105.1,655.1 L105.6,656.1 L106.1,657.6 L106.6,659.5 L107.1,661.7 L107.6,664.3 L108.1,667.0 L108.6,669.8 L109.1,672.6 L109.6,675.2 L110.1,677.7 L110.6,679.9 L111.1,681.8 L111.6,683.5 L112.1,684.9 L112.6,686.1 L113.1,687.0 L113.6,687.7 L114.1,688.3 L114.6,688.7 L115.1,689.0 L115.6,689.2 L116.1,689.4 L116.6,689.5 L117.1,689.6 L117.1,689.7 Z" fill="#737378" fill-opacity="1.0" stroke="#555" stroke-opacity="0.55" stroke-width="0.5"/>
<path d="M64.6,709.4 L64.6,709.3 L65.1,709.2 L65.6,709.1 L66.1,709.0 L66.6,708.8 L67.1,708.5 L67.6,708.1 L68.1,707.5 L68.6,706.8 L69.1,705.8 L69.6,704.6 L70.1,703.3 L70.6,701.7 L71.1,700.1 L71.6,698.5 L72.1,697.0 L72.6,695.7 L73.1,694.7 L73.6,694.1 L74.1,694.0 L74.6,694.3 L75.1,695.0 L75.6,696.1 L76.1,697.4 L76.6,698.8 L77.1,700.3 L77.6,701.6 L78.1,702.9 L78.6,703.9 L79.1,704.7 L79.6,705.4 L80.1,705.8 L80.6,706.1 L81.1,706.2 L81.6,706.3 L82.1,706.3 L82.6,706.3 L83.1,706.2 L83.6,706.1 L84.1,706.0 L84.6,705.9 L85.1,705.8 L85.6,705.7 L86.1,705.6 L86.6,705.5 L87.1,705.4 L87.6,705.2 L88.1,705.1 L88.6,705.0 L89.1,704.8 L89.6,704.6 L90.1,704.4 L90.6,704.2 L91.1,703.9 L91.6,703.6 L92.1,703.3 L92.6,702.9 L93.1,702.5 L93.6,702.1 L94.1,701.6 L94.6,701.0 L95.1,700.4 L95.6,699.8 L96.1,699.1 L96.6,698.3 L97.1,697.5 L97.6,696.5 L98.1,695.5 L98.6,694.3 L99.1,692.9 L99.6,691.4 L100.1,689.8 L100.6,688.0 L101.1,686.1 L101.6,684.2 L102.1,682.2 L102.6,680.3 L103.1,678.6 L103.6,677.0 L104.1,675.8 L104.6,674.9 L105.1,674.4 L105.6,674.4 L106.1,674.9 L106.6,675.9 L107.1,677.4 L107.6,679.2 L108.1,681.4 L108.6,683.9 L109.1,686.5 L109.6,689.2 L110.1,691.8 L110.6,694.4 L111.1,696.8 L111.6,699.0 L112.1,700.9 L112.6,702.6 L113.1,704.1 L113.6,705.3 L114.1,706.3 L114.6,707.1 L115.1,707.7 L115.6,708.2 L116.1,708.5 L116.6,708.8 L117.1,709.0 L117.6,709.1 L118.1,709.2 L118.6,709.3 L118.6,709.4 Z" fill="#5c5c60" fill-opacity="0.43" stroke="#555" stroke-opacity="0.55" stroke-width="0.5"/>
<path d="M64.1,729.2 L64.1,729.1 L64.6,729.0 L65.1,728.9 L65.6,728.8 L66.1,728.6 L66.6,728.3 L67.1,727.8 L67.6,727.3 L68.1,726.6 L68.6,725.8 L69.1,724.9 L69.6,723.8 L70.1,722.7 L70.6,721.6 L71.1,720.6 L71.6,719.8 L72.1,719.2 L72.6,718.8 L73.1,718.8 L73.6,719.1 L74.1,719.6 L74.6,720.4 L75.1,721.3 L75.6,722.2 L76.1,723.2 L76.6,724.1 L77.1,724.9 L77.6,725.5 L78.1,726.0 L78.6,726.4 L79.1,726.7 L79.6,726.8 L80.1,726.9 L80.6,726.9 L81.1,726.9 L81.6,726.8 L82.1,726.7 L82.6,726.6 L83.1,726.5 L83.6,726.4 L84.1,726.3 L84.6,726.2 L85.1,726.1 L85.6,726.0 L86.1,725.9 L86.6,725.8 L87.1,725.7 L87.6,725.6 L88.1,725.5 L88.6,725.3 L89.1,725.2 L89.6,725.0 L90.1,724.7 L90.6,724.5 L91.1,724.2 L91.6,723.9 L92.1,723.5 L92.6,723.2 L93.1,722.7 L93.6,722.3 L94.1,721.8 L94.6,721.2 L95.1,720.7 L95.6,720.0 L96.1,719.4 L96.6,718.7 L97.1,717.9 L97.6,717.0 L98.1,716.1 L98.6,715.0 L99.1,713.8 L99.6,712.5 L100.1,711.0 L100.6,709.3 L101.1,707.6 L101.6,705.7 L102.1,703.7 L102.6,701.8 L103.1,699.9 L103.6,698.2 L104.1,696.6 L104.6,695.4 L105.1,694.6 L105.6,694.2 L106.1,694.3 L106.6,694.9 L107.1,695.9 L107.6,697.5 L108.1,699.4 L108.6,701.6 L109.1,704.1 L109.6,706.8 L110.1,709.5 L110.6,712.1 L111.1,714.6 L111.6,717.0 L112.1,719.2 L112.6,721.1 L113.1,722.7 L113.6,724.1 L114.1,725.3 L114.6,726.3 L115.1,727.0 L115.6,727.6 L116.1,728.0 L116.6,728.4 L117.1,728.6 L117.6,728.8 L118.1,728.9 L118.6,729.0 L119.1,729.1 L119.1,729.2 Z" fill="#000000" fill-opacity="0.106" stroke="#555" stroke-opacity="0.55" stroke-width="0.5"/>
<path d="M63.6,748.7 L63.6,748.6 L64.1,748.5 L64.6,748.4 L65.1,748.2 L65.6,747.8 L66.1,747.2 L66.6,746.3 L67.1,745.0 L67.6,743.2 L68.1,740.9 L68.6,738.0 L69.1,734.6 L69.6,730.7 L70.1,726.7 L70.6,722.7 L71.1,719.1 L71.6,716.2 L72.1,714.3 L72.6,713.7 L73.1,714.3 L73.6,716.2 L74.1,719.1 L74.6,722.7 L75.1,726.7 L75.6,730.7 L76.1,734.6 L76.6,738.0 L77.1,740.9 L77.6,743.2 L78.1,745.0 L78.6,746.3 L79.1,747.2 L79.6,747.8 L80.1,748.2 L80.6,748.4 L81.1,748.5 L81.6,748.6 L81.6,748.7 Z" fill="#000000" fill-opacity="0.1" stroke="#999" stroke-width="0.6" stroke-dasharray="1 1"/>
<rect x="37.6" y="648.7" width="99.5" height="100" fill="none" stroke="#8c8c8c" stroke-width="0.9"/>
<path d="M47.8,748.7v2.6M53.9,748.7v1.5M57.4,748.7v1.5M60.0,748.7v1.5M61.9,748.7v1.5M63.5,748.7v1.5M64.9,748.7v1.5M66.0,748.7v1.5M67.1,748.7v1.5M68.0,748.7v2.6M73.9,748.7v1.5M77.4,748.7v1.5M79.9,748.7v1.5M81.8,748.7v1.5M83.3,748.7v1.5M84.6,748.7v1.5M85.8,748.7v1.5M86.8,748.7v1.5M87.7,748.7v2.6M93.8,748.7v1.5M97.3,748.7v1.5M99.9,748.7v1.5M101.8,748.7v1.5M103.4,748.7v1.5M104.8,748.7v1.5M105.9,748.7v1.5M107.0,748.7v1.5M107.9,748.7v2.6M113.8,748.7v1.5M117.3,748.7v1.5M119.8,748.7v1.5M121.7,748.7v1.5M123.2,748.7v1.5M124.5,748.7v1.5M125.7,748.7v1.5M126.7,748.7v1.5M127.6,748.7v2.6M43.0,748.7v1.5M44.1,748.7v1.5M45.0,748.7v1.5M45.8,748.7v1.5M46.4,748.7v1.5M46.9,748.7v1.5M47.4,748.7v1.5" stroke="#444" stroke-width="0.6"/>
<text x="45.30" y="764.70" font-size="8.5">10</text>
<text x="55.60" y="757.70" font-size="8.5">1</text>
<text x="65.70" y="764.70" font-size="8.5">10</text>
<text x="76.00" y="757.70" font-size="8.5">2</text>
<text x="85.90" y="764.70" font-size="8.5">10</text>
<text x="96.20" y="757.70" font-size="8.5">3</text>
<text x="106.00" y="764.70" font-size="8.5">10</text>
<text x="116.30" y="757.70" font-size="8.5">4</text>
<text x="122.50" y="764.70" font-size="8.5">10</text>
<text x="132.80" y="757.70" font-size="8.5">5</text>
<text x="87.60" y="640.00" font-size="20.5" text-anchor="middle">CD16</text>
<path d="M147.9,689.7h100M147.9,709.4000000000001h100M147.9,729.2h100" stroke="#c9c9c9" stroke-width="0.9"/>
<path d="M177.4,689.7 L177.4,689.6 L177.9,689.5 L178.4,689.4 L178.9,689.1 L179.4,688.8 L179.9,688.4 L180.4,687.8 L180.9,687.2 L181.4,686.4 L181.9,685.7 L182.4,685.0 L182.9,684.5 L183.4,684.2 L183.9,684.2 L184.4,684.3 L184.9,684.6 L185.4,685.0 L185.9,685.3 L186.4,685.5 L186.9,685.5 L187.4,685.5 L187.9,685.3 L188.4,685.0 L188.9,684.7 L189.4,684.2 L189.9,683.8 L190.4,683.3 L190.9,682.8 L191.4,682.3 L191.9,681.7 L192.4,681.2 L192.9,680.6 L193.4,679.9 L193.9,679.2 L194.4,678.4 L194.9,677.5 L195.4,676.4 L195.9,675.1 L196.4,673.6 L196.9,671.8 L197.4,669.7 L197.9,667.3 L198.4,664.8 L198.9,662.2 L199.4,659.7 L199.9,657.6 L200.4,655.9 L200.9,654.9 L201.4,654.7 L201.9,655.4 L202.4,657.0 L202.9,659.3 L203.4,662.3 L203.9,665.7 L204.4,669.3 L204.9,672.8 L205.4,676.2 L205.9,679.2 L206.4,681.8 L206.9,683.9 L207.4,685.6 L207.9,686.8 L208.4,687.8 L208.9,688.4 L209.4,688.9 L209.9,689.2 L210.4,689.4 L210.9,689.5 L211.4,689.6 L211.4,689.7 Z" fill="#737378" fill-opacity="1.0" stroke="#555" stroke-opacity="0.55" stroke-width="0.5"/>
<path d="M176.4,709.4 L176.4,709.3 L176.9,709.2 L177.4,709.1 L177.9,708.9 L178.4,708.7 L178.9,708.5 L179.4,708.1 L179.9,707.8 L180.4,707.4 L180.9,707.0 L181.4,706.6 L181.9,706.2 L182.4,705.9 L182.9,705.8 L183.4,705.7 L183.9,705.7 L184.4,705.8 L184.9,705.9 L185.4,706.0 L185.9,706.1 L186.4,706.2 L186.9,706.1 L187.4,706.0 L187.9,705.9 L188.4,705.6 L188.9,705.3 L189.4,704.9 L189.9,704.5 L190.4,704.0 L190.9,703.4 L191.4,702.8 L191.9,702.1 L192.4,701.3 L192.9,700.4 L193.4,699.4 L193.9,698.2 L194.4,696.8 L194.9,695.2 L195.4,693.3 L195.9,691.2 L196.4,688.8 L196.9,686.3 L197.4,683.7 L197.9,681.1 L198.4,678.7 L198.9,676.7 L199.4,675.2 L199.9,674.4 L200.4,674.4 L200.9,675.2 L201.4,676.7 L201.9,678.9 L202.4,681.7 L202.9,684.9 L203.4,688.3 L203.9,691.6 L204.4,694.9 L204.9,697.8 L205.4,700.4 L205.9,702.6 L206.4,704.4 L206.9,705.8 L207.4,706.9 L207.9,707.7 L208.4,708.3 L208.9,708.7 L209.4,708.9 L209.9,709.1 L210.4,709.2 L210.9,709.3 L210.9,709.4 Z" fill="#5c5c60" fill-opacity="0.43" stroke="#555" stroke-opacity="0.55" stroke-width="0.5"/>
<path d="M177.9,729.2 L177.9,729.1 L178.4,729.0 L178.9,728.9 L179.4,728.7 L179.9,728.4 L180.4,728.1 L180.9,727.7 L181.4,727.3 L181.9,726.8 L182.4,726.3 L182.9,725.9 L183.4,725.5 L183.9,725.2 L184.4,725.0 L184.9,724.9 L185.4,724.9 L185.9,725.1 L186.4,725.2 L186.9,725.4 L187.4,725.6 L187.9,725.7 L188.4,725.7 L188.9,725.7 L189.4,725.5 L189.9,725.3 L190.4,725.0 L190.9,724.7 L191.4,724.2 L191.9,723.8 L192.4,723.2 L192.9,722.6 L193.4,721.8 L193.9,720.9 L194.4,719.9 L194.9,718.6 L195.4,717.1 L195.9,715.3 L196.4,713.3 L196.9,710.9 L197.4,708.4 L197.9,705.8 L198.4,703.1 L198.9,700.6 L199.4,698.2 L199.9,696.3 L200.4,694.9 L200.9,694.2 L201.4,694.2 L201.9,694.9 L202.4,696.4 L202.9,698.5 L203.4,701.1 L203.9,704.0 L204.4,707.2 L204.9,710.4 L205.4,713.5 L205.9,716.5 L206.4,719.1 L206.9,721.3 L207.4,723.2 L207.9,724.8 L208.4,726.0 L208.9,726.9 L209.4,727.6 L209.9,728.2 L210.4,728.5 L210.9,728.8 L211.4,728.9 L211.9,729.0 L212.4,729.1 L212.4,729.2 Z" fill="#000000" fill-opacity="0.106" stroke="#555" stroke-opacity="0.55" stroke-width="0.5"/>
<path d="M173.9,748.7 L173.9,748.6 L174.4,748.6 L174.9,748.4 L175.4,748.2 L175.9,747.8 L176.4,747.2 L176.9,746.3 L177.4,745.0 L177.9,743.1 L178.4,740.7 L178.9,737.6 L179.4,734.0 L179.9,729.9 L180.4,725.7 L180.9,721.6 L181.4,718.0 L181.9,715.3 L182.4,713.8 L182.9,713.7 L183.4,714.9 L183.9,717.4 L184.4,720.8 L184.9,724.9 L185.4,729.1 L185.9,733.2 L186.4,737.0 L186.9,740.1 L187.4,742.7 L187.9,744.7 L188.4,746.1 L188.9,747.1 L189.4,747.7 L189.9,748.1 L190.4,748.4 L190.9,748.5 L191.4,748.6 L191.4,748.7 Z" fill="#000000" fill-opacity="0.1" stroke="#999" stroke-width="0.6" stroke-dasharray="1 1"/>
<rect x="147.9" y="648.7" width="99.5" height="100" fill="none" stroke="#8c8c8c" stroke-width="0.9"/>
<path d="M158.1,748.7v2.6M164.2,748.7v1.5M167.7,748.7v1.5M170.3,748.7v1.5M172.2,748.7v1.5M173.8,748.7v1.5M175.2,748.7v1.5M176.3,748.7v1.5M177.4,748.7v1.5M178.3,748.7v2.6M184.2,748.7v1.5M187.7,748.7v1.5M190.2,748.7v1.5M192.1,748.7v1.5M193.6,748.7v1.5M194.9,748.7v1.5M196.1,748.7v1.5M197.1,748.7v1.5M198.0,748.7v2.6M204.1,748.7v1.5M207.6,748.7v1.5M210.2,748.7v1.5M212.1,748.7v1.5M213.7,748.7v1.5M215.1,748.7v1.5M216.2,748.7v1.5M217.3,748.7v1.5M218.2,748.7v2.6M224.1,748.7v1.5M227.6,748.7v1.5M230.1,748.7v1.5M232.0,748.7v1.5M233.5,748.7v1.5M234.8,748.7v1.5M236.0,748.7v1.5M237.0,748.7v1.5M237.9,748.7v2.6M153.3,748.7v1.5M154.4,748.7v1.5M155.3,748.7v1.5M156.1,748.7v1.5M156.7,748.7v1.5M157.2,748.7v1.5M157.7,748.7v1.5" stroke="#444" stroke-width="0.6"/>
<text x="155.60" y="764.70" font-size="8.5">10</text>
<text x="165.90" y="757.70" font-size="8.5">1</text>
<text x="176.00" y="764.70" font-size="8.5">10</text>
<text x="186.30" y="757.70" font-size="8.5">2</text>
<text x="196.20" y="764.70" font-size="8.5">10</text>
<text x="206.50" y="757.70" font-size="8.5">3</text>
<text x="216.30" y="764.70" font-size="8.5">10</text>
<text x="226.60" y="757.70" font-size="8.5">4</text>
<text x="232.80" y="764.70" font-size="8.5">10</text>
<text x="243.10" y="757.70" font-size="8.5">5</text>
<text x="197.90" y="640.00" font-size="20.5" text-anchor="middle">CD69</text>
<path d="M258.4,689.7h100M258.4,709.4000000000001h100M258.4,729.2h100" stroke="#c9c9c9" stroke-width="0.9"/>
<path d="M302.4,689.7 L302.4,689.5 L302.9,689.5 L303.4,689.4 L303.9,689.3 L304.4,689.3 L304.9,689.2 L305.4,689.0 L305.9,688.9 L306.4,688.7 L306.9,688.6 L307.4,688.4 L307.9,688.2 L308.4,687.9 L308.9,687.7 L309.4,687.4 L309.9,687.1 L310.4,686.8 L310.9,686.5 L311.4,686.1 L311.9,685.8 L312.4,685.4 L312.9,685.0 L313.4,684.6 L313.9,684.2 L314.4,683.8 L314.9,683.4 L315.4,683.0 L315.9,682.6 L316.4,682.1 L316.9,681.7 L317.4,681.3 L317.9,680.8 L318.4,680.4 L318.9,680.0 L319.4,679.5 L319.9,679.1 L320.4,678.7 L320.9,678.3 L321.4,678.0 L321.9,677.6 L322.4,677.2 L322.9,676.8 L323.4,676.3 L323.9,675.7 L324.4,675.1 L324.9,674.3 L325.4,673.3 L325.9,672.2 L326.4,670.8 L326.9,669.2 L327.4,667.4 L327.9,665.4 L328.4,663.4 L328.9,661.3 L329.4,659.3 L329.9,657.6 L330.4,656.1 L330.9,655.2 L331.4,654.7 L331.9,654.8 L332.4,655.6 L332.9,656.9 L333.4,658.8 L333.9,661.1 L334.4,663.8 L334.9,666.7 L335.4,669.6 L335.9,672.6 L336.4,675.3 L336.9,677.9 L337.4,680.2 L337.9,682.2 L338.4,683.9 L338.9,685.3 L339.4,686.4 L339.9,687.3 L340.4,688.0 L340.9,688.5 L341.4,688.8 L341.9,689.1 L342.4,689.3 L342.9,689.4 L343.4,689.5 L343.9,689.6 L343.9,689.7 Z" fill="#737378" fill-opacity="1.0" stroke="#555" stroke-opacity="0.55" stroke-width="0.5"/>
<path d="M304.4,709.4 L304.4,709.2 L304.9,709.2 L305.4,709.1 L305.9,709.0 L306.4,708.9 L306.9,708.8 L307.4,708.7 L307.9,708.5 L308.4,708.4 L308.9,708.2 L309.4,708.0 L309.9,707.7 L310.4,707.4 L310.9,707.2 L311.4,706.8 L311.9,706.5 L312.4,706.1 L312.9,705.7 L313.4,705.3 L313.9,704.9 L314.4,704.5 L314.9,704.0 L315.4,703.6 L315.9,703.1 L316.4,702.6 L316.9,702.1 L317.4,701.7 L317.9,701.2 L318.4,700.7 L318.9,700.2 L319.4,699.8 L319.9,699.3 L320.4,698.9 L320.9,698.5 L321.4,698.1 L321.9,697.7 L322.4,697.3 L322.9,697.0 L323.4,696.6 L323.9,696.2 L324.4,695.8 L324.9,695.2 L325.4,694.6 L325.9,693.8 L326.4,692.9 L326.9,691.8 L327.4,690.4 L327.9,688.8 L328.4,687.0 L328.9,685.1 L329.4,683.0 L329.9,681.0 L330.4,679.0 L330.9,677.3 L331.4,675.8 L331.9,674.9 L332.4,674.4 L332.9,674.5 L333.4,675.3 L333.9,676.6 L334.4,678.5 L334.9,680.8 L335.4,683.5 L335.9,686.4 L336.4,689.3 L336.9,692.3 L337.4,695.0 L337.9,697.6 L338.4,699.9 L338.9,701.9 L339.4,703.6 L339.9,705.0 L340.4,706.1 L340.9,707.0 L341.4,707.7 L341.9,708.2 L342.4,708.5 L342.9,708.8 L343.4,709.0 L343.9,709.1 L344.4,709.2 L344.9,709.3 L344.9,709.4 Z" fill="#5c5c60" fill-opacity="0.43" stroke="#555" stroke-opacity="0.55" stroke-width="0.5"/>
<path d="M304.4,729.2 L304.4,729.0 L304.9,729.0 L305.4,728.9 L305.9,728.8 L306.4,728.7 L306.9,728.6 L307.4,728.5 L307.9,728.3 L308.4,728.2 L308.9,728.0 L309.4,727.7 L309.9,727.5 L310.4,727.2 L310.9,726.9 L311.4,726.6 L311.9,726.2 L312.4,725.9 L312.9,725.5 L313.4,725.0 L313.9,724.6 L314.4,724.1 L314.9,723.6 L315.4,723.1 L315.9,722.6 L316.4,722.1 L316.9,721.6 L317.4,721.0 L317.9,720.5 L318.4,720.0 L318.9,719.4 L319.4,718.9 L319.9,718.4 L320.4,717.9 L320.9,717.4 L321.4,716.9 L321.9,716.4 L322.4,716.0 L322.9,715.5 L323.4,715.0 L323.9,714.5 L324.4,713.9 L324.9,713.3 L325.4,712.6 L325.9,711.7 L326.4,710.7 L326.9,709.5 L327.4,708.1 L327.9,706.5 L328.4,704.9 L328.9,703.1 L329.4,701.2 L329.9,699.4 L330.4,697.8 L330.9,696.3 L331.4,695.2 L331.9,694.5 L332.4,694.2 L332.9,694.4 L333.4,695.2 L333.9,696.5 L334.4,698.3 L334.9,700.4 L335.4,702.9 L335.9,705.6 L336.4,708.3 L336.9,711.1 L337.4,713.8 L337.9,716.3 L338.4,718.6 L338.9,720.6 L339.4,722.4 L339.9,723.9 L340.4,725.1 L340.9,726.1 L341.4,726.9 L341.9,727.5 L342.4,728.0 L342.9,728.4 L343.4,728.6 L343.9,728.8 L344.4,728.9 L344.9,729.0 L345.4,729.1 L345.4,729.2 Z" fill="#000000" fill-opacity="0.106" stroke="#555" stroke-opacity="0.55" stroke-width="0.5"/>
<path d="M280.9,748.7 L280.9,748.6 L281.4,748.6 L281.9,748.4 L282.4,748.3 L282.9,748.0 L283.4,747.5 L283.9,746.9 L284.4,745.9 L284.9,744.6 L285.4,742.8 L285.9,740.6 L286.4,737.9 L286.9,734.7 L287.4,731.2 L287.9,727.4 L288.4,723.7 L288.9,720.2 L289.4,717.2 L289.9,715.0 L290.4,713.8 L290.9,713.7 L291.4,714.7 L291.9,716.7 L292.4,719.5 L292.9,722.9 L293.4,726.7 L293.9,730.4 L294.4,734.0 L294.9,737.3 L295.4,740.1 L295.9,742.4 L296.4,744.3 L296.9,745.7 L297.4,746.7 L297.9,747.4 L298.4,747.9 L298.9,748.2 L299.4,748.4 L299.9,748.5 L300.4,748.6 L300.4,748.7 Z" fill="#000000" fill-opacity="0.1" stroke="#999" stroke-width="0.6" stroke-dasharray="1 1"/>
<rect x="258.4" y="648.7" width="99.5" height="100" fill="none" stroke="#8c8c8c" stroke-width="0.9"/>
<path d="M268.6,748.7v2.6M274.7,748.7v1.5M278.2,748.7v1.5M280.8,748.7v1.5M282.7,748.7v1.5M284.3,748.7v1.5M285.7,748.7v1.5M286.8,748.7v1.5M287.9,748.7v1.5M288.8,748.7v2.6M294.7,748.7v1.5M298.2,748.7v1.5M300.7,748.7v1.5M302.6,748.7v1.5M304.1,748.7v1.5M305.4,748.7v1.5M306.6,748.7v1.5M307.6,748.7v1.5M308.5,748.7v2.6M314.6,748.7v1.5M318.1,748.7v1.5M320.7,748.7v1.5M322.6,748.7v1.5M324.2,748.7v1.5M325.6,748.7v1.5M326.7,748.7v1.5M327.8,748.7v1.5M328.7,748.7v2.6M334.6,748.7v1.5M338.1,748.7v1.5M340.6,748.7v1.5M342.5,748.7v1.5M344.0,748.7v1.5M345.3,748.7v1.5M346.5,748.7v1.5M347.5,748.7v1.5M348.4,748.7v2.6M263.8,748.7v1.5M264.9,748.7v1.5M265.8,748.7v1.5M266.6,748.7v1.5M267.2,748.7v1.5M267.7,748.7v1.5M268.2,748.7v1.5" stroke="#444" stroke-width="0.6"/>
<text x="266.10" y="764.70" font-size="8.5">10</text>
<text x="276.40" y="757.70" font-size="8.5">1</text>
<text x="286.50" y="764.70" font-size="8.5">10</text>
<text x="296.80" y="757.70" font-size="8.5">2</text>
<text x="306.70" y="764.70" font-size="8.5">10</text>
<text x="317.00" y="757.70" font-size="8.5">3</text>
<text x="326.80" y="764.70" font-size="8.5">10</text>
<text x="337.10" y="757.70" font-size="8.5">4</text>
<text x="343.30" y="764.70" font-size="8.5">10</text>
<text x="353.60" y="757.70" font-size="8.5">5</text>
<text x="308.40" y="640.00" font-size="20.5" text-anchor="middle">NKp30</text>
<path d="M369.2,689.7h100M369.2,709.4000000000001h100M369.2,729.2h100" stroke="#c9c9c9" stroke-width="0.9"/>
<path d="M397.2,689.7 L397.2,689.6 L397.7,689.5 L398.2,689.4 L398.7,689.2 L399.2,688.9 L399.7,688.4 L400.2,687.7 L400.7,686.6 L401.2,685.0 L401.7,683.0 L402.2,680.3 L402.7,677.0 L403.2,673.2 L403.7,669.2 L404.2,665.0 L404.7,661.2 L405.2,658.0 L405.7,655.8 L406.2,654.7 L406.7,654.8 L407.2,655.8 L407.7,657.8 L408.2,660.1 L408.7,662.7 L409.2,665.1 L409.7,667.2 L410.2,668.8 L410.7,669.9 L411.2,670.6 L411.7,670.9 L412.2,671.0 L412.7,671.0 L413.2,671.0 L413.7,670.9 L414.2,671.0 L414.7,671.1 L415.2,671.3 L415.7,671.7 L416.2,672.1 L416.7,672.7 L417.2,673.2 L417.7,673.9 L418.2,674.5 L418.7,675.2 L419.2,675.9 L419.7,676.6 L420.2,677.2 L420.7,677.8 L421.2,678.4 L421.7,678.9 L422.2,679.5 L422.7,679.9 L423.2,680.4 L423.7,680.8 L424.2,681.2 L424.7,681.6 L425.2,681.9 L425.7,682.3 L426.2,682.6 L426.7,682.9 L427.2,683.3 L427.7,683.6 L428.2,684.0 L428.7,684.3 L429.2,684.6 L429.7,685.0 L430.2,685.3 L430.7,685.6 L431.2,685.9 L431.7,686.2 L432.2,686.5 L432.7,686.8 L433.2,687.1 L433.7,687.4 L434.2,687.6 L434.7,687.8 L435.2,688.0 L435.7,688.2 L436.2,688.4 L436.7,688.6 L437.2,688.7 L437.7,688.9 L438.2,689.0 L438.7,689.1 L439.2,689.2 L439.7,689.3 L440.2,689.3 L440.7,689.4 L441.2,689.4 L441.7,689.5 L442.2,689.5 L442.2,689.7 Z" fill="#737378" fill-opacity="1.0" stroke="#555" stroke-opacity="0.55" stroke-width="0.5"/>
<path d="M398.7,709.4 L398.7,709.2 L399.2,709.2 L399.7,709.0 L400.2,708.8 L400.7,708.5 L401.2,708.1 L401.7,707.4 L402.2,706.5 L402.7,705.2 L403.2,703.4 L403.7,701.2 L404.2,698.5 L404.7,695.2 L405.2,691.7 L405.7,687.9 L406.2,684.1 L406.7,680.7 L407.2,677.8 L407.7,675.7 L408.2,674.6 L408.7,674.4 L409.2,675.1 L409.7,676.6 L410.2,678.6 L410.7,680.9 L411.2,683.2 L411.7,685.3 L412.2,687.2 L412.7,688.6 L413.2,689.7 L413.7,690.5 L414.2,691.0 L414.7,691.3 L415.2,691.4 L415.7,691.5 L416.2,691.6 L416.7,691.7 L417.2,691.8 L417.7,692.0 L418.2,692.2 L418.7,692.5 L419.2,692.8 L419.7,693.2 L420.2,693.6 L420.7,694.1 L421.2,694.6 L421.7,695.2 L422.2,695.8 L422.7,696.4 L423.2,697.1 L423.7,697.8 L424.2,698.5 L424.7,699.3 L425.2,700.0 L425.7,700.8 L426.2,701.5 L426.7,702.3 L427.2,703.0 L427.7,703.7 L428.2,704.4 L428.7,705.0 L429.2,705.6 L429.7,706.1 L430.2,706.6 L430.7,707.0 L431.2,707.4 L431.7,707.8 L432.2,708.1 L432.7,708.3 L433.2,708.5 L433.7,708.7 L434.2,708.8 L434.7,709.0 L435.2,709.1 L435.7,709.1 L436.2,709.2 L436.7,709.3 L436.7,709.4 Z" fill="#5c5c60" fill-opacity="0.43" stroke="#555" stroke-opacity="0.55" stroke-width="0.5"/>
<path d="M397.2,729.2 L397.2,729.0 L397.7,729.0 L398.2,728.9 L398.7,728.8 L399.2,728.7 L399.7,728.5 L400.2,728.2 L400.7,727.9 L401.2,727.4 L401.7,726.7 L402.2,725.8 L402.7,724.5 L403.2,722.9 L403.7,720.9 L404.2,718.5 L404.7,715.7 L405.2,712.5 L405.7,709.1 L406.2,705.7 L406.7,702.4 L407.2,699.4 L407.7,697.0 L408.2,695.2 L408.7,694.3 L409.2,694.2 L409.7,694.9 L410.2,696.2 L410.7,698.0 L411.2,700.0 L411.7,702.2 L412.2,704.2 L412.7,706.1 L413.2,707.7 L413.7,709.0 L414.2,710.0 L414.7,710.8 L415.2,711.3 L415.7,711.7 L416.2,712.0 L416.7,712.2 L417.2,712.4 L417.7,712.6 L418.2,712.8 L418.7,713.1 L419.2,713.4 L419.7,713.8 L420.2,714.1 L420.7,714.5 L421.2,715.0 L421.7,715.4 L422.2,715.9 L422.7,716.4 L423.2,716.9 L423.7,717.4 L424.2,717.9 L424.7,718.4 L425.2,718.9 L425.7,719.4 L426.2,719.9 L426.7,720.4 L427.2,720.9 L427.7,721.4 L428.2,721.9 L428.7,722.4 L429.2,722.9 L429.7,723.4 L430.2,723.9 L430.7,724.3 L431.2,724.7 L431.7,725.2 L432.2,725.6 L432.7,725.9 L433.2,726.3 L433.7,726.6 L434.2,726.9 L434.7,727.2 L435.2,727.5 L435.7,727.7 L436.2,727.9 L436.7,728.1 L437.2,728.3 L437.7,728.4 L438.2,728.6 L438.7,728.7 L439.2,728.8 L439.7,728.8 L440.2,728.9 L440.7,729.0 L441.2,729.0 L441.2,729.2 Z" fill="#000000" fill-opacity="0.106" stroke="#555" stroke-opacity="0.55" stroke-width="0.5"/>
<path d="M395.2,748.7 L395.2,748.6 L395.7,748.6 L396.2,748.4 L396.7,748.2 L397.2,747.8 L397.7,747.2 L398.2,746.3 L398.7,745.0 L399.2,743.1 L399.7,740.7 L400.2,737.6 L400.7,734.0 L401.2,729.9 L401.7,725.7 L402.2,721.6 L402.7,718.0 L403.2,715.3 L403.7,713.8 L404.2,713.7 L404.7,714.9 L405.2,717.4 L405.7,720.8 L406.2,724.9 L406.7,729.1 L407.2,733.2 L407.7,737.0 L408.2,740.1 L408.7,742.7 L409.2,744.7 L409.7,746.1 L410.2,747.1 L410.7,747.7 L411.2,748.1 L411.7,748.4 L412.2,748.5 L412.7,748.6 L412.7,748.7 Z" fill="#000000" fill-opacity="0.1" stroke="#999" stroke-width="0.6" stroke-dasharray="1 1"/>
<rect x="369.2" y="648.7" width="99.5" height="100" fill="none" stroke="#8c8c8c" stroke-width="0.9"/>
<path d="M379.4,748.7v2.6M385.5,748.7v1.5M389.0,748.7v1.5M391.6,748.7v1.5M393.5,748.7v1.5M395.1,748.7v1.5M396.5,748.7v1.5M397.6,748.7v1.5M398.7,748.7v1.5M399.6,748.7v2.6M405.5,748.7v1.5M409.0,748.7v1.5M411.5,748.7v1.5M413.4,748.7v1.5M414.9,748.7v1.5M416.2,748.7v1.5M417.4,748.7v1.5M418.4,748.7v1.5M419.3,748.7v2.6M425.4,748.7v1.5M428.9,748.7v1.5M431.5,748.7v1.5M433.4,748.7v1.5M435.0,748.7v1.5M436.4,748.7v1.5M437.5,748.7v1.5M438.6,748.7v1.5M439.5,748.7v2.6M445.4,748.7v1.5M448.9,748.7v1.5M451.4,748.7v1.5M453.3,748.7v1.5M454.8,748.7v1.5M456.1,748.7v1.5M457.3,748.7v1.5M458.3,748.7v1.5M459.2,748.7v2.6M374.6,748.7v1.5M375.7,748.7v1.5M376.6,748.7v1.5M377.4,748.7v1.5M378.0,748.7v1.5M378.5,748.7v1.5M379.0,748.7v1.5" stroke="#444" stroke-width="0.6"/>
<text x="376.90" y="764.70" font-size="8.5">10</text>
<text x="387.20" y="757.70" font-size="8.5">1</text>
<text x="397.30" y="764.70" font-size="8.5">10</text>
<text x="407.60" y="757.70" font-size="8.5">2</text>
<text x="417.50" y="764.70" font-size="8.5">10</text>
<text x="427.80" y="757.70" font-size="8.5">3</text>
<text x="437.60" y="764.70" font-size="8.5">10</text>
<text x="447.90" y="757.70" font-size="8.5">4</text>
<text x="454.10" y="764.70" font-size="8.5">10</text>
<text x="464.40" y="757.70" font-size="8.5">5</text>
<text x="419.20" y="640.00" font-size="20.5" text-anchor="middle">NKp44</text>
<path d="M479.5,689.7h100M479.5,709.4000000000001h100M479.5,729.2h100" stroke="#c9c9c9" stroke-width="0.9"/>
<path d="M508.0,689.7 L508.0,689.6 L508.5,689.5 L509.0,689.4 L509.5,689.3 L510.0,689.2 L510.5,689.1 L511.0,688.9 L511.5,688.8 L512.0,688.6 L512.5,688.5 L513.0,688.4 L513.5,688.3 L514.0,688.2 L514.5,688.2 L515.0,688.2 L515.5,688.3 L516.0,688.3 L516.5,688.5 L517.0,688.6 L517.5,688.8 L518.0,688.9 L518.5,689.0 L519.0,689.2 L519.5,689.3 L520.0,689.3 L520.5,689.4 L521.0,689.4 L521.5,689.4 L522.0,689.4 L522.5,689.3 L523.0,689.3 L523.5,689.2 L524.0,689.0 L524.5,688.9 L525.0,688.7 L525.5,688.5 L526.0,688.2 L526.5,687.9 L527.0,687.5 L527.5,687.2 L528.0,686.7 L528.5,686.3 L529.0,685.8 L529.5,685.2 L530.0,684.7 L530.5,684.1 L531.0,683.5 L531.5,682.8 L532.0,682.2 L532.5,681.5 L533.0,680.8 L533.5,680.0 L534.0,679.1 L534.5,678.1 L535.0,676.9 L535.5,675.6 L536.0,674.0 L536.5,672.1 L537.0,670.1 L537.5,667.8 L538.0,665.4 L538.5,663.0 L539.0,660.6 L539.5,658.4 L540.0,656.6 L540.5,655.4 L541.0,654.7 L541.5,654.7 L542.0,655.5 L542.5,656.9 L543.0,659.0 L543.5,661.6 L544.0,664.5 L544.5,667.6 L545.0,670.8 L545.5,673.9 L546.0,676.8 L546.5,679.4 L547.0,681.7 L547.5,683.6 L548.0,685.2 L548.5,686.4 L549.0,687.4 L549.5,688.1 L550.0,688.6 L550.5,689.0 L551.0,689.2 L551.5,689.4 L552.0,689.5 L552.5,689.6 L552.5,689.7 Z" fill="#737378" fill-opacity="1.0" stroke="#555" stroke-opacity="0.55" stroke-width="0.5"/>
<path d="M519.5,709.4 L519.5,709.3 L520.0,709.2 L520.5,709.1 L521.0,709.0 L521.5,708.9 L522.0,708.7 L522.5,708.5 L523.0,708.2 L523.5,707.8 L524.0,707.4 L524.5,706.9 L525.0,706.3 L525.5,705.6 L526.0,704.8 L526.5,704.0 L527.0,703.1 L527.5,702.1 L528.0,701.1 L528.5,700.1 L529.0,699.2 L529.5,698.3 L530.0,697.4 L530.5,696.7 L531.0,696.0 L531.5,695.5 L532.0,695.1 L532.5,694.8 L533.0,694.5 L533.5,694.3 L534.0,694.0 L534.5,693.6 L535.0,693.0 L535.5,692.2 L536.0,691.1 L536.5,689.6 L537.0,687.8 L537.5,685.7 L538.0,683.4 L538.5,681.1 L539.0,678.8 L539.5,676.8 L540.0,675.4 L540.5,674.5 L541.0,674.4 L541.5,675.1 L542.0,676.6 L542.5,678.8 L543.0,681.5 L543.5,684.6 L544.0,688.0 L544.5,691.4 L545.0,694.6 L545.5,697.6 L546.0,700.2 L546.5,702.4 L547.0,704.2 L547.5,705.6 L548.0,706.7 L548.5,707.5 L549.0,708.1 L549.5,708.6 L550.0,708.8 L550.5,709.0 L551.0,709.2 L551.5,709.3 L551.5,709.4 Z" fill="#5c5c60" fill-opacity="0.43" stroke="#555" stroke-opacity="0.55" stroke-width="0.5"/>
<path d="M515.0,729.2 L515.0,729.0 L515.5,729.0 L516.0,728.9 L516.5,728.8 L517.0,728.8 L517.5,728.7 L518.0,728.6 L518.5,728.5 L519.0,728.4 L519.5,728.3 L520.0,728.2 L520.5,728.0 L521.0,727.9 L521.5,727.7 L522.0,727.6 L522.5,727.4 L523.0,727.2 L523.5,727.0 L524.0,726.8 L524.5,726.6 L525.0,726.4 L525.5,726.2 L526.0,726.0 L526.5,725.8 L527.0,725.6 L527.5,725.4 L528.0,725.2 L528.5,724.9 L529.0,724.7 L529.5,724.4 L530.0,724.1 L530.5,723.7 L531.0,723.3 L531.5,722.8 L532.0,722.2 L532.5,721.4 L533.0,720.4 L533.5,719.2 L534.0,717.8 L534.5,716.1 L535.0,714.2 L535.5,712.1 L536.0,709.8 L536.5,707.3 L537.0,704.8 L537.5,702.3 L538.0,699.9 L538.5,697.9 L539.0,696.2 L539.5,694.9 L540.0,694.3 L540.5,694.2 L541.0,694.8 L541.5,695.9 L542.0,697.6 L542.5,699.7 L543.0,702.3 L543.5,705.0 L544.0,707.9 L544.5,710.7 L545.0,713.5 L545.5,716.1 L546.0,718.5 L546.5,720.6 L547.0,722.4 L547.5,724.0 L548.0,725.2 L548.5,726.2 L549.0,727.0 L549.5,727.6 L550.0,728.1 L550.5,728.4 L551.0,728.7 L551.5,728.8 L552.0,729.0 L552.5,729.0 L552.5,729.2 Z" fill="#000000" fill-opacity="0.106" stroke="#555" stroke-opacity="0.55" stroke-width="0.5"/>
<path d="M503.0,748.7 L503.0,748.6 L503.5,748.5 L504.0,748.4 L504.5,748.2 L505.0,747.8 L505.5,747.2 L506.0,746.3 L506.5,745.0 L507.0,743.2 L507.5,740.9 L508.0,738.0 L508.5,734.6 L509.0,730.7 L509.5,726.7 L510.0,722.7 L510.5,719.1 L511.0,716.2 L511.5,714.3 L512.0,713.7 L512.5,714.3 L513.0,716.2 L513.5,719.1 L514.0,722.7 L514.5,726.7 L515.0,730.7 L515.5,734.6 L516.0,738.0 L516.5,740.9 L517.0,743.2 L517.5,745.0 L518.0,746.3 L518.5,747.2 L519.0,747.8 L519.5,748.2 L520.0,748.4 L520.5,748.5 L521.0,748.6 L521.0,748.7 Z" fill="#000000" fill-opacity="0.1" stroke="#999" stroke-width="0.6" stroke-dasharray="1 1"/>
<rect x="479.5" y="648.7" width="99.5" height="100" fill="none" stroke="#8c8c8c" stroke-width="0.9"/>
<path d="M489.7,748.7v2.6M495.8,748.7v1.5M499.3,748.7v1.5M501.9,748.7v1.5M503.8,748.7v1.5M505.4,748.7v1.5M506.8,748.7v1.5M507.9,748.7v1.5M509.0,748.7v1.5M509.9,748.7v2.6M515.8,748.7v1.5M519.3,748.7v1.5M521.8,748.7v1.5M523.7,748.7v1.5M525.2,748.7v1.5M526.5,748.7v1.5M527.7,748.7v1.5M528.7,748.7v1.5M529.6,748.7v2.6M535.7,748.7v1.5M539.2,748.7v1.5M541.8,748.7v1.5M543.7,748.7v1.5M545.3,748.7v1.5M546.7,748.7v1.5M547.8,748.7v1.5M548.9,748.7v1.5M549.8,748.7v2.6M555.7,748.7v1.5M559.2,748.7v1.5M561.7,748.7v1.5M563.6,748.7v1.5M565.1,748.7v1.5M566.4,748.7v1.5M567.6,748.7v1.5M568.6,748.7v1.5M569.5,748.7v2.6M484.9,748.7v1.5M486.0,748.7v1.5M486.9,748.7v1.5M487.7,748.7v1.5M488.3,748.7v1.5M488.8,748.7v1.5M489.3,748.7v1.5" stroke="#444" stroke-width="0.6"/>
<text x="487.20" y="764.70" font-size="8.5">10</text>
<text x="497.50" y="757.70" font-size="8.5">1</text>
<text x="507.60" y="764.70" font-size="8.5">10</text>
<text x="517.90" y="757.70" font-size="8.5">2</text>
<text x="527.80" y="764.70" font-size="8.5">10</text>
<text x="538.10" y="757.70" font-size="8.5">3</text>
<text x="547.90" y="764.70" font-size="8.5">10</text>
<text x="558.20" y="757.70" font-size="8.5">4</text>
<text x="564.40" y="764.70" font-size="8.5">10</text>
<text x="574.70" y="757.70" font-size="8.5">5</text>
<text x="529.50" y="640.00" font-size="20.5" text-anchor="middle">NKp46</text>
<path d="M37.6,839.2h100M37.6,858.9000000000001h100M37.6,878.7h100" stroke="#c9c9c9" stroke-width="0.9"/>
<path d="M72.6,839.2 L72.6,839.0 L73.1,839.0 L73.6,838.9 L74.1,838.8 L74.6,838.7 L75.1,838.5 L75.6,838.3 L76.1,838.0 L76.6,837.7 L77.1,837.3 L77.6,836.9 L78.1,836.4 L78.6,835.8 L79.1,835.2 L79.6,834.6 L80.1,833.9 L80.6,833.2 L81.1,832.4 L81.6,831.7 L82.1,831.0 L82.6,830.3 L83.1,829.7 L83.6,829.1 L84.1,828.6 L84.6,828.1 L85.1,827.7 L85.6,827.3 L86.1,827.0 L86.6,826.7 L87.1,826.5 L87.6,826.3 L88.1,826.1 L88.6,825.8 L89.1,825.5 L89.6,825.1 L90.1,824.5 L90.6,823.8 L91.1,822.9 L91.6,821.7 L92.1,820.2 L92.6,818.5 L93.1,816.6 L93.6,814.4 L94.1,812.2 L94.6,810.0 L95.1,807.9 L95.6,806.2 L96.1,804.9 L96.6,804.2 L97.1,804.2 L97.6,804.9 L98.1,806.2 L98.6,808.2 L99.1,810.7 L99.6,813.6 L100.1,816.7 L100.6,819.9 L101.1,823.0 L101.6,825.9 L102.1,828.6 L102.6,830.9 L103.1,832.8 L103.6,834.5 L104.1,835.7 L104.6,836.7 L105.1,837.5 L105.6,838.0 L106.1,838.4 L106.6,838.7 L107.1,838.9 L107.6,839.0 L108.1,839.1 L108.1,839.2 Z" fill="#737378" fill-opacity="1.0" stroke="#555" stroke-opacity="0.55" stroke-width="0.5"/>
<path d="M69.1,858.9 L69.1,858.7 L69.6,858.7 L70.1,858.6 L70.6,858.5 L71.1,858.4 L71.6,858.3 L72.1,858.2 L72.6,858.0 L73.1,857.8 L73.6,857.6 L74.1,857.3 L74.6,857.1 L75.1,856.7 L75.6,856.4 L76.1,856.0 L76.6,855.6 L77.1,855.2 L77.6,854.7 L78.1,854.2 L78.6,853.7 L79.1,853.1 L79.6,852.6 L80.1,852.0 L80.6,851.5 L81.1,850.9 L81.6,850.4 L82.1,849.8 L82.6,849.3 L83.1,848.9 L83.6,848.5 L84.1,848.1 L84.6,847.8 L85.1,847.6 L85.6,847.5 L86.1,847.4 L86.6,847.4 L87.1,847.5 L87.6,847.6 L88.1,847.8 L88.6,848.0 L89.1,848.2 L89.6,848.3 L90.1,848.4 L90.6,848.3 L91.1,847.9 L91.6,847.4 L92.1,846.5 L92.6,845.2 L93.1,843.6 L93.6,841.6 L94.1,839.2 L94.6,836.6 L95.1,833.9 L95.6,831.2 L96.1,828.7 L96.6,826.6 L97.1,825.0 L97.6,824.1 L98.1,823.9 L98.6,824.5 L99.1,825.9 L99.6,827.9 L100.1,830.5 L100.6,833.5 L101.1,836.8 L101.6,840.0 L102.1,843.2 L102.6,846.2 L103.1,848.8 L103.6,851.1 L104.1,853.0 L104.6,854.6 L105.1,855.8 L105.6,856.7 L106.1,857.4 L106.6,857.9 L107.1,858.2 L107.6,858.5 L108.1,858.6 L108.6,858.7 L109.1,858.8 L109.1,858.9 Z" fill="#5c5c60" fill-opacity="0.43" stroke="#555" stroke-opacity="0.55" stroke-width="0.5"/>
<path d="M66.6,878.7 L66.6,878.5 L67.1,878.5 L67.6,878.4 L68.1,878.4 L68.6,878.3 L69.1,878.2 L69.6,878.1 L70.1,878.0 L70.6,877.8 L71.1,877.7 L71.6,877.5 L72.1,877.3 L72.6,877.1 L73.1,876.9 L73.6,876.6 L74.1,876.3 L74.6,876.1 L75.1,875.7 L75.6,875.4 L76.1,875.1 L76.6,874.7 L77.1,874.3 L77.6,873.9 L78.1,873.5 L78.6,873.1 L79.1,872.7 L79.6,872.3 L80.1,871.9 L80.6,871.5 L81.1,871.0 L81.6,870.6 L82.1,870.2 L82.6,869.8 L83.1,869.3 L83.6,868.9 L84.1,868.5 L84.6,868.1 L85.1,867.7 L85.6,867.4 L86.1,867.0 L86.6,866.7 L87.1,866.4 L87.6,866.1 L88.1,865.8 L88.6,865.5 L89.1,865.2 L89.6,864.9 L90.1,864.4 L90.6,863.9 L91.1,863.2 L91.6,862.3 L92.1,861.2 L92.6,859.9 L93.1,858.3 L93.6,856.5 L94.1,854.5 L94.6,852.4 L95.1,850.3 L95.6,848.3 L96.1,846.5 L96.6,845.1 L97.1,844.1 L97.6,843.7 L98.1,843.9 L98.6,844.7 L99.1,846.1 L99.6,848.1 L100.1,850.5 L100.6,853.3 L101.1,856.3 L101.6,859.3 L102.1,862.2 L102.6,865.0 L103.1,867.6 L103.6,869.8 L104.1,871.8 L104.6,873.4 L105.1,874.8 L105.6,875.8 L106.1,876.6 L106.6,877.3 L107.1,877.7 L107.6,878.0 L108.1,878.3 L108.6,878.4 L109.1,878.5 L109.6,878.6 L109.6,878.7 Z" fill="#000000" fill-opacity="0.106" stroke="#555" stroke-opacity="0.55" stroke-width="0.5"/>
<path d="M63.6,898.2 L63.6,898.1 L64.1,898.0 L64.6,897.9 L65.1,897.6 L65.6,897.2 L66.1,896.5 L66.6,895.4 L67.1,893.8 L67.6,891.7 L68.1,888.8 L68.6,885.4 L69.1,881.3 L69.6,877.0 L70.1,872.6 L70.6,868.7 L71.1,865.5 L71.6,863.7 L72.1,863.2 L72.6,864.2 L73.1,866.7 L73.6,870.1 L74.1,874.3 L74.6,878.7 L75.1,883.0 L75.6,886.8 L76.1,890.1 L76.6,892.6 L77.1,894.5 L77.6,895.9 L78.1,896.8 L78.6,897.4 L79.1,897.8 L79.6,898.0 L80.1,898.1 L80.1,898.2 Z" fill="#000000" fill-opacity="0.1" stroke="#999" stroke-width="0.6" stroke-dasharray="1 1"/>
<rect x="37.6" y="798.2" width="99.5" height="100" fill="none" stroke="#8c8c8c" stroke-width="0.9"/>
<path d="M47.8,898.2v2.6M53.9,898.2v1.5M57.4,898.2v1.5M60.0,898.2v1.5M61.9,898.2v1.5M63.5,898.2v1.5M64.9,898.2v1.5M66.0,898.2v1.5M67.1,898.2v1.5M68.0,898.2v2.6M73.9,898.2v1.5M77.4,898.2v1.5M79.9,898.2v1.5M81.8,898.2v1.5M83.3,898.2v1.5M84.6,898.2v1.5M85.8,898.2v1.5M86.8,898.2v1.5M87.7,898.2v2.6M93.8,898.2v1.5M97.3,898.2v1.5M99.9,898.2v1.5M101.8,898.2v1.5M103.4,898.2v1.5M104.8,898.2v1.5M105.9,898.2v1.5M107.0,898.2v1.5M107.9,898.2v2.6M113.8,898.2v1.5M117.3,898.2v1.5M119.8,898.2v1.5M121.7,898.2v1.5M123.2,898.2v1.5M124.5,898.2v1.5M125.7,898.2v1.5M126.7,898.2v1.5M127.6,898.2v2.6M43.0,898.2v1.5M44.1,898.2v1.5M45.0,898.2v1.5M45.8,898.2v1.5M46.4,898.2v1.5M46.9,898.2v1.5M47.4,898.2v1.5" stroke="#444" stroke-width="0.6"/>
<text x="45.30" y="914.20" font-size="8.5">10</text>
<text x="55.60" y="907.20" font-size="8.5">1</text>
<text x="65.70" y="914.20" font-size="8.5">10</text>
<text x="76.00" y="907.20" font-size="8.5">2</text>
<text x="85.90" y="914.20" font-size="8.5">10</text>
<text x="96.20" y="907.20" font-size="8.5">3</text>
<text x="106.00" y="914.20" font-size="8.5">10</text>
<text x="116.30" y="907.20" font-size="8.5">4</text>
<text x="122.50" y="914.20" font-size="8.5">10</text>
<text x="132.80" y="907.20" font-size="8.5">5</text>
<text x="87.60" y="789.50" font-size="20.5" text-anchor="middle">NKG2D</text>
<path d="M147.9,839.2h100M147.9,858.9000000000001h100M147.9,878.7h100" stroke="#c9c9c9" stroke-width="0.9"/>
<path d="M160.4,839.2 L160.4,839.0 L160.9,839.0 L161.4,838.9 L161.9,838.8 L162.4,838.7 L162.9,838.6 L163.4,838.5 L163.9,838.3 L164.4,838.1 L164.9,837.9 L165.4,837.6 L165.9,837.4 L166.4,837.0 L166.9,836.7 L167.4,836.3 L167.9,835.9 L168.4,835.4 L168.9,835.0 L169.4,834.5 L169.9,834.0 L170.4,833.4 L170.9,832.8 L171.4,832.3 L171.9,831.6 L172.4,831.0 L172.9,830.3 L173.4,829.6 L173.9,828.8 L174.4,828.0 L174.9,827.1 L175.4,826.1 L175.9,825.0 L176.4,823.9 L176.9,822.6 L177.4,821.2 L177.9,819.8 L178.4,818.3 L178.9,816.7 L179.4,815.1 L179.9,813.5 L180.4,811.9 L180.9,810.4 L181.4,809.0 L181.9,807.7 L182.4,806.6 L182.9,805.6 L183.4,804.9 L183.9,804.5 L184.4,804.2 L184.9,804.2 L185.4,804.4 L185.9,804.8 L186.4,805.4 L186.9,806.1 L187.4,806.9 L187.9,807.7 L188.4,808.6 L188.9,809.5 L189.4,810.4 L189.9,811.2 L190.4,811.9 L190.9,812.5 L191.4,813.1 L191.9,813.6 L192.4,814.1 L192.9,814.6 L193.4,815.0 L193.9,815.5 L194.4,816.0 L194.9,816.5 L195.4,817.1 L195.9,817.8 L196.4,818.7 L196.9,819.6 L197.4,820.6 L197.9,821.6 L198.4,822.8 L198.9,824.0 L199.4,825.2 L199.9,826.5 L200.4,827.7 L200.9,828.9 L201.4,830.1 L201.9,831.2 L202.4,832.3 L202.9,833.2 L203.4,834.1 L203.9,834.9 L204.4,835.6 L204.9,836.2 L205.4,836.8 L205.9,837.2 L206.4,837.6 L206.9,837.9 L207.4,838.2 L207.9,838.4 L208.4,838.6 L208.9,838.7 L209.4,838.9 L209.9,838.9 L210.4,839.0 L210.9,839.1 L210.9,839.2 Z" fill="#737378" fill-opacity="1.0" stroke="#555" stroke-opacity="0.55" stroke-width="0.5"/>
<path d="M161.4,858.9 L161.4,858.7 L161.9,858.7 L162.4,858.6 L162.9,858.6 L163.4,858.5 L163.9,858.3 L164.4,858.2 L164.9,858.1 L165.4,857.9 L165.9,857.7 L166.4,857.4 L166.9,857.2 L167.4,856.9 L167.9,856.6 L168.4,856.2 L168.9,855.8 L169.4,855.5 L169.9,855.1 L170.4,854.7 L170.9,854.2 L171.4,853.8 L171.9,853.4 L172.4,853.0 L172.9,852.6 L173.4,852.2 L173.9,851.8 L174.4,851.3 L174.9,850.9 L175.4,850.3 L175.9,849.8 L176.4,849.1 L176.9,848.4 L177.4,847.5 L177.9,846.5 L178.4,845.3 L178.9,844.1 L179.4,842.6 L179.9,841.0 L180.4,839.3 L180.9,837.6 L181.4,835.7 L181.9,833.9 L182.4,832.0 L182.9,830.3 L183.4,828.7 L183.9,827.3 L184.4,826.1 L184.9,825.1 L185.4,824.4 L185.9,824.0 L186.4,823.9 L186.9,824.1 L187.4,824.4 L187.9,825.1 L188.4,825.8 L188.9,826.8 L189.4,827.8 L189.9,828.8 L190.4,829.9 L190.9,831.0 L191.4,832.0 L191.9,833.0 L192.4,833.9 L192.9,834.8 L193.4,835.7 L193.9,836.5 L194.4,837.3 L194.9,838.2 L195.4,839.0 L195.9,839.9 L196.4,840.8 L196.9,841.8 L197.4,842.8 L197.9,843.9 L198.4,845.0 L198.9,846.1 L199.4,847.2 L199.9,848.4 L200.4,849.4 L200.9,850.5 L201.4,851.5 L201.9,852.5 L202.4,853.3 L202.9,854.1 L203.4,854.9 L203.9,855.5 L204.4,856.1 L204.9,856.6 L205.4,857.0 L205.9,857.4 L206.4,857.7 L206.9,857.9 L207.4,858.2 L207.9,858.3 L208.4,858.5 L208.9,858.6 L209.4,858.6 L209.9,858.7 L210.4,858.8 L210.4,858.9 Z" fill="#5c5c60" fill-opacity="0.43" stroke="#555" stroke-opacity="0.55" stroke-width="0.5"/>
<path d="M161.4,878.7 L161.4,878.5 L161.9,878.5 L162.4,878.4 L162.9,878.3 L163.4,878.3 L163.9,878.1 L164.4,878.0 L164.9,877.9 L165.4,877.7 L165.9,877.5 L166.4,877.2 L166.9,877.0 L167.4,876.7 L167.9,876.3 L168.4,876.0 L168.9,875.6 L169.4,875.2 L169.9,874.8 L170.4,874.4 L170.9,874.0 L171.4,873.6 L171.9,873.2 L172.4,872.7 L172.9,872.3 L173.4,871.9 L173.9,871.5 L174.4,871.0 L174.9,870.6 L175.4,870.1 L175.9,869.5 L176.4,868.8 L176.9,868.1 L177.4,867.2 L177.9,866.2 L178.4,865.0 L178.9,863.7 L179.4,862.3 L179.9,860.7 L180.4,859.0 L180.9,857.2 L181.4,855.3 L181.9,853.5 L182.4,851.6 L182.9,849.9 L183.4,848.3 L183.9,846.9 L184.4,845.7 L184.9,844.8 L185.4,844.1 L185.9,843.8 L186.4,843.7 L186.9,843.9 L187.4,844.4 L187.9,845.1 L188.4,846.0 L188.9,847.0 L189.4,848.1 L189.9,849.3 L190.4,850.4 L190.9,851.6 L191.4,852.7 L191.9,853.8 L192.4,854.8 L192.9,855.8 L193.4,856.7 L193.9,857.6 L194.4,858.5 L194.9,859.3 L195.4,860.2 L195.9,861.1 L196.4,862.0 L196.9,862.9 L197.4,863.9 L197.9,864.9 L198.4,865.9 L198.9,866.9 L199.4,868.0 L199.9,869.0 L200.4,870.0 L200.9,871.0 L201.4,871.9 L201.9,872.8 L202.4,873.6 L202.9,874.3 L203.4,875.0 L203.9,875.6 L204.4,876.1 L204.9,876.6 L205.4,877.0 L205.9,877.3 L206.4,877.6 L206.9,877.8 L207.4,878.0 L207.9,878.2 L208.4,878.3 L208.9,878.4 L209.4,878.5 L209.9,878.5 L209.9,878.7 Z" fill="#000000" fill-opacity="0.106" stroke="#555" stroke-opacity="0.55" stroke-width="0.5"/>
<path d="M169.9,898.2 L169.9,898.1 L170.4,898.0 L170.9,897.9 L171.4,897.8 L171.9,897.5 L172.4,897.2 L172.9,896.7 L173.4,896.0 L173.9,895.0 L174.4,893.8 L174.9,892.2 L175.4,890.2 L175.9,887.9 L176.4,885.2 L176.9,882.2 L177.4,879.0 L177.9,875.6 L178.4,872.4 L178.9,869.4 L179.4,866.8 L179.9,864.9 L180.4,863.6 L180.9,863.2 L181.4,863.6 L181.9,864.9 L182.4,866.8 L182.9,869.4 L183.4,872.4 L183.9,875.6 L184.4,879.0 L184.9,882.2 L185.4,885.2 L185.9,887.9 L186.4,890.2 L186.9,892.2 L187.4,893.8 L187.9,895.0 L188.4,896.0 L188.9,896.7 L189.4,897.2 L189.9,897.5 L190.4,897.8 L190.9,897.9 L191.4,898.0 L191.9,898.1 L191.9,898.2 Z" fill="#000000" fill-opacity="0.1" stroke="#999" stroke-width="0.6" stroke-dasharray="1 1"/>
<rect x="147.9" y="798.2" width="99.5" height="100" fill="none" stroke="#8c8c8c" stroke-width="0.9"/>
<path d="M158.1,898.2v2.6M164.2,898.2v1.5M167.7,898.2v1.5M170.3,898.2v1.5M172.2,898.2v1.5M173.8,898.2v1.5M175.2,898.2v1.5M176.3,898.2v1.5M177.4,898.2v1.5M178.3,898.2v2.6M184.2,898.2v1.5M187.7,898.2v1.5M190.2,898.2v1.5M192.1,898.2v1.5M193.6,898.2v1.5M194.9,898.2v1.5M196.1,898.2v1.5M197.1,898.2v1.5M198.0,898.2v2.6M204.1,898.2v1.5M207.6,898.2v1.5M210.2,898.2v1.5M212.1,898.2v1.5M213.7,898.2v1.5M215.1,898.2v1.5M216.2,898.2v1.5M217.3,898.2v1.5M218.2,898.2v2.6M224.1,898.2v1.5M227.6,898.2v1.5M230.1,898.2v1.5M232.0,898.2v1.5M233.5,898.2v1.5M234.8,898.2v1.5M236.0,898.2v1.5M237.0,898.2v1.5M237.9,898.2v2.6M153.3,898.2v1.5M154.4,898.2v1.5M155.3,898.2v1.5M156.1,898.2v1.5M156.7,898.2v1.5M157.2,898.2v1.5M157.7,898.2v1.5" stroke="#444" stroke-width="0.6"/>
<text x="155.60" y="914.20" font-size="8.5">10</text>
<text x="165.90" y="907.20" font-size="8.5">1</text>
<text x="176.00" y="914.20" font-size="8.5">10</text>
<text x="186.30" y="907.20" font-size="8.5">2</text>
<text x="196.20" y="914.20" font-size="8.5">10</text>
<text x="206.50" y="907.20" font-size="8.5">3</text>
<text x="216.30" y="914.20" font-size="8.5">10</text>
<text x="226.60" y="907.20" font-size="8.5">4</text>
<text x="232.80" y="914.20" font-size="8.5">10</text>
<text x="243.10" y="907.20" font-size="8.5">5</text>
<text x="197.90" y="789.50" font-size="20.5" text-anchor="middle">TRAIL</text>
<path d="M258.4,839.2h100M258.4,858.9000000000001h100M258.4,878.7h100" stroke="#c9c9c9" stroke-width="0.9"/>
<path d="M281.9,839.2 L281.9,839.1 L282.4,839.0 L282.9,838.8 L283.4,838.6 L283.9,838.2 L284.4,837.7 L284.9,837.0 L285.4,836.0 L285.9,834.7 L286.4,832.9 L286.9,830.8 L287.4,828.3 L287.9,825.4 L288.4,822.1 L288.9,818.7 L289.4,815.2 L289.9,811.9 L290.4,809.0 L290.9,806.6 L291.4,805.0 L291.9,804.2 L292.4,804.3 L292.9,805.2 L293.4,806.9 L293.9,809.2 L294.4,812.0 L294.9,815.0 L295.4,818.1 L295.9,821.0 L296.4,823.8 L296.9,826.3 L297.4,828.4 L297.9,830.3 L298.4,831.8 L298.9,833.1 L299.4,834.1 L299.9,835.0 L300.4,835.7 L300.9,836.3 L301.4,836.8 L301.9,837.2 L302.4,837.6 L302.9,837.9 L303.4,838.1 L303.9,838.4 L304.4,838.5 L304.9,838.7 L305.4,838.8 L305.9,838.9 L306.4,839.0 L306.9,839.0 L306.9,839.2 Z" fill="#737378" fill-opacity="1.0" stroke="#555" stroke-opacity="0.55" stroke-width="0.5"/>
<path d="M281.9,858.9 L281.9,858.8 L282.4,858.7 L282.9,858.5 L283.4,858.3 L283.9,857.9 L284.4,857.4 L284.9,856.7 L285.4,855.7 L285.9,854.4 L286.4,852.6 L286.9,850.5 L287.4,848.0 L287.9,845.1 L288.4,841.8 L288.9,838.4 L289.4,834.9 L289.9,831.6 L290.4,828.7 L290.9,826.3 L291.4,824.7 L291.9,823.9 L292.4,824.0 L292.9,824.9 L293.4,826.6 L293.9,828.9 L294.4,831.7 L294.9,834.7 L295.4,837.8 L295.9,840.7 L296.4,843.5 L296.9,846.0 L297.4,848.1 L297.9,850.0 L298.4,851.5 L298.9,852.8 L299.4,853.8 L299.9,854.7 L300.4,855.4 L300.9,856.0 L301.4,856.5 L301.9,856.9 L302.4,857.3 L302.9,857.6 L303.4,857.8 L303.9,858.1 L304.4,858.2 L304.9,858.4 L305.4,858.5 L305.9,858.6 L306.4,858.7 L306.9,858.7 L306.9,858.9 Z" fill="#5c5c60" fill-opacity="0.43" stroke="#555" stroke-opacity="0.55" stroke-width="0.5"/>
<path d="M281.4,878.7 L281.4,878.6 L281.9,878.5 L282.4,878.4 L282.9,878.2 L283.4,877.9 L283.9,877.5 L284.4,876.9 L284.9,876.1 L285.4,875.0 L285.9,873.6 L286.4,871.8 L286.9,869.6 L287.4,867.0 L287.9,864.1 L288.4,860.9 L288.9,857.6 L289.4,854.2 L289.9,851.1 L290.4,848.3 L290.9,846.0 L291.4,844.5 L291.9,843.7 L292.4,843.8 L292.9,844.6 L293.4,846.2 L293.9,848.4 L294.4,851.0 L294.9,853.9 L295.4,856.8 L295.9,859.8 L296.4,862.5 L296.9,865.0 L297.4,867.3 L297.9,869.2 L298.4,870.8 L298.9,872.2 L299.4,873.3 L299.9,874.2 L300.4,875.0 L300.9,875.6 L301.4,876.2 L301.9,876.6 L302.4,877.0 L302.9,877.3 L303.4,877.6 L303.9,877.8 L304.4,878.0 L304.9,878.2 L305.4,878.3 L305.9,878.4 L306.4,878.5 L306.9,878.5 L306.9,878.7 Z" fill="#000000" fill-opacity="0.106" stroke="#555" stroke-opacity="0.55" stroke-width="0.5"/>
<path d="M280.9,898.2 L280.9,898.1 L281.4,898.0 L281.9,897.8 L282.4,897.6 L282.9,897.2 L283.4,896.7 L283.9,895.9 L284.4,894.9 L284.9,893.5 L285.4,891.7 L285.9,889.5 L286.4,886.8 L286.9,883.8 L287.4,880.5 L287.9,877.0 L288.4,873.5 L288.9,870.2 L289.4,867.3 L289.9,865.1 L290.4,863.7 L290.9,863.2 L291.4,863.7 L291.9,865.1 L292.4,867.3 L292.9,870.2 L293.4,873.5 L293.9,877.0 L294.4,880.5 L294.9,883.8 L295.4,886.8 L295.9,889.5 L296.4,891.7 L296.9,893.5 L297.4,894.9 L297.9,895.9 L298.4,896.7 L298.9,897.2 L299.4,897.6 L299.9,897.8 L300.4,898.0 L300.9,898.1 L300.9,898.2 Z" fill="#000000" fill-opacity="0.1" stroke="#999" stroke-width="0.6" stroke-dasharray="1 1"/>
<rect x="258.4" y="798.2" width="99.5" height="100" fill="none" stroke="#8c8c8c" stroke-width="0.9"/>
<path d="M268.6,898.2v2.6M274.7,898.2v1.5M278.2,898.2v1.5M280.8,898.2v1.5M282.7,898.2v1.5M284.3,898.2v1.5M285.7,898.2v1.5M286.8,898.2v1.5M287.9,898.2v1.5M288.8,898.2v2.6M294.7,898.2v1.5M298.2,898.2v1.5M300.7,898.2v1.5M302.6,898.2v1.5M304.1,898.2v1.5M305.4,898.2v1.5M306.6,898.2v1.5M307.6,898.2v1.5M308.5,898.2v2.6M314.6,898.2v1.5M318.1,898.2v1.5M320.7,898.2v1.5M322.6,898.2v1.5M324.2,898.2v1.5M325.6,898.2v1.5M326.7,898.2v1.5M327.8,898.2v1.5M328.7,898.2v2.6M334.6,898.2v1.5M338.1,898.2v1.5M340.6,898.2v1.5M342.5,898.2v1.5M344.0,898.2v1.5M345.3,898.2v1.5M346.5,898.2v1.5M347.5,898.2v1.5M348.4,898.2v2.6M263.8,898.2v1.5M264.9,898.2v1.5M265.8,898.2v1.5M266.6,898.2v1.5M267.2,898.2v1.5M267.7,898.2v1.5M268.2,898.2v1.5" stroke="#444" stroke-width="0.6"/>
<text x="266.10" y="914.20" font-size="8.5">10</text>
<text x="276.40" y="907.20" font-size="8.5">1</text>
<text x="286.50" y="914.20" font-size="8.5">10</text>
<text x="296.80" y="907.20" font-size="8.5">2</text>
<text x="306.70" y="914.20" font-size="8.5">10</text>
<text x="317.00" y="907.20" font-size="8.5">3</text>
<text x="326.80" y="914.20" font-size="8.5">10</text>
<text x="337.10" y="907.20" font-size="8.5">4</text>
<text x="343.30" y="914.20" font-size="8.5">10</text>
<text x="353.60" y="907.20" font-size="8.5">5</text>
<text x="308.40" y="789.50" font-size="20.5" text-anchor="middle">CD25</text>
<path d="M369.2,839.2h100M369.2,858.9000000000001h100M369.2,878.7h100" stroke="#c9c9c9" stroke-width="0.9"/>
<path d="M398.2,839.2 L398.2,839.0 L398.7,839.0 L399.2,838.9 L399.7,838.9 L400.2,838.9 L400.7,838.8 L401.2,838.8 L401.7,838.7 L402.2,838.7 L402.7,838.6 L403.2,838.6 L403.7,838.5 L404.2,838.5 L404.7,838.4 L405.2,838.4 L405.7,838.3 L406.2,838.3 L406.7,838.3 L407.2,838.2 L407.7,838.2 L408.2,838.2 L408.7,838.1 L409.2,838.1 L409.7,838.1 L410.2,838.1 L410.7,838.0 L411.2,838.0 L411.7,838.0 L412.2,837.9 L412.7,837.8 L413.2,837.7 L413.7,837.5 L414.2,837.4 L414.7,837.2 L415.2,836.9 L415.7,836.6 L416.2,836.3 L416.7,836.0 L417.2,835.6 L417.7,835.2 L418.2,834.8 L418.7,834.3 L419.2,833.8 L419.7,833.3 L420.2,832.7 L420.7,832.0 L421.2,831.2 L421.7,830.2 L422.2,828.9 L422.7,827.4 L423.2,825.7 L423.7,823.6 L424.2,821.3 L424.7,818.7 L425.2,816.0 L425.7,813.3 L426.2,810.6 L426.7,808.3 L427.2,806.3 L427.7,804.9 L428.2,804.2 L428.7,804.2 L429.2,804.9 L429.7,806.4 L430.2,808.4 L430.7,811.0 L431.2,814.0 L431.7,817.1 L432.2,820.3 L432.7,823.3 L433.2,826.2 L433.7,828.8 L434.2,831.1 L434.7,833.0 L435.2,834.6 L435.7,835.8 L436.2,836.8 L436.7,837.5 L437.2,838.1 L437.7,838.4 L438.2,838.7 L438.7,838.9 L439.2,839.0 L439.7,839.1 L439.7,839.2 Z" fill="#737378" fill-opacity="1.0" stroke="#555" stroke-opacity="0.55" stroke-width="0.5"/>
<path d="M398.2,858.9 L398.2,858.7 L398.7,858.7 L399.2,858.6 L399.7,858.6 L400.2,858.6 L400.7,858.5 L401.2,858.5 L401.7,858.4 L402.2,858.4 L402.7,858.3 L403.2,858.3 L403.7,858.2 L404.2,858.2 L404.7,858.1 L405.2,858.1 L405.7,858.0 L406.2,858.0 L406.7,858.0 L407.2,857.9 L407.7,857.9 L408.2,857.9 L408.7,857.9 L409.2,857.9 L409.7,857.8 L410.2,857.8 L410.7,857.8 L411.2,857.8 L411.7,857.8 L412.2,857.8 L412.7,857.7 L413.2,857.7 L413.7,857.6 L414.2,857.5 L414.7,857.3 L415.2,857.2 L415.7,857.0 L416.2,856.7 L416.7,856.4 L417.2,856.1 L417.7,855.8 L418.2,855.4 L418.7,855.0 L419.2,854.5 L419.7,854.1 L420.2,853.6 L420.7,853.1 L421.2,852.5 L421.7,851.8 L422.2,850.9 L422.7,849.9 L423.2,848.7 L423.7,847.2 L424.2,845.4 L424.7,843.3 L425.2,841.0 L425.7,838.4 L426.2,835.7 L426.7,833.0 L427.2,830.3 L427.7,828.0 L428.2,826.0 L428.7,824.6 L429.2,823.9 L429.7,823.9 L430.2,824.6 L430.7,826.1 L431.2,828.1 L431.7,830.7 L432.2,833.7 L432.7,836.8 L433.2,840.0 L433.7,843.0 L434.2,845.9 L434.7,848.5 L435.2,850.8 L435.7,852.7 L436.2,854.3 L436.7,855.5 L437.2,856.5 L437.7,857.2 L438.2,857.8 L438.7,858.1 L439.2,858.4 L439.7,858.6 L440.2,858.7 L440.7,858.8 L440.7,858.9 Z" fill="#5c5c60" fill-opacity="0.43" stroke="#555" stroke-opacity="0.55" stroke-width="0.5"/>
<path d="M397.2,878.7 L397.2,878.5 L397.7,878.5 L398.2,878.4 L398.7,878.4 L399.2,878.4 L399.7,878.3 L400.2,878.3 L400.7,878.2 L401.2,878.1 L401.7,878.1 L402.2,878.0 L402.7,877.9 L403.2,877.9 L403.7,877.8 L404.2,877.7 L404.7,877.7 L405.2,877.6 L405.7,877.5 L406.2,877.5 L406.7,877.4 L407.2,877.4 L407.7,877.4 L408.2,877.3 L408.7,877.3 L409.2,877.3 L409.7,877.3 L410.2,877.3 L410.7,877.2 L411.2,877.2 L411.7,877.2 L412.2,877.2 L412.7,877.1 L413.2,877.0 L413.7,877.0 L414.2,876.8 L414.7,876.7 L415.2,876.5 L415.7,876.3 L416.2,876.1 L416.7,875.8 L417.2,875.5 L417.7,875.2 L418.2,874.8 L418.7,874.4 L419.2,873.9 L419.7,873.4 L420.2,872.8 L420.7,872.0 L421.2,871.2 L421.7,870.1 L422.2,868.8 L422.7,867.2 L423.2,865.4 L423.7,863.4 L424.2,861.1 L424.7,858.6 L425.2,856.0 L425.7,853.3 L426.2,850.8 L426.7,848.4 L427.2,846.5 L427.7,844.9 L428.2,844.0 L428.7,843.7 L429.2,844.1 L429.7,845.1 L430.2,846.7 L430.7,848.9 L431.2,851.4 L431.7,854.2 L432.2,857.2 L432.7,860.2 L433.2,863.1 L433.7,865.8 L434.2,868.2 L434.7,870.4 L435.2,872.2 L435.7,873.8 L436.2,875.0 L436.7,876.0 L437.2,876.8 L437.7,877.3 L438.2,877.8 L438.7,878.1 L439.2,878.3 L439.7,878.4 L440.2,878.5 L440.7,878.6 L440.7,878.7 Z" fill="#000000" fill-opacity="0.106" stroke="#555" stroke-opacity="0.55" stroke-width="0.5"/>
<path d="M392.2,898.2 L392.2,898.1 L392.7,898.0 L393.2,897.9 L393.7,897.7 L394.2,897.3 L394.7,896.8 L395.2,896.0 L395.7,894.9 L396.2,893.5 L396.7,891.5 L397.2,889.1 L397.7,886.2 L398.2,882.9 L398.7,879.2 L399.2,875.4 L399.7,871.8 L400.2,868.5 L400.7,865.8 L401.2,864.0 L401.7,863.2 L402.2,863.5 L402.7,864.9 L403.2,867.3 L403.7,870.4 L404.2,873.9 L404.7,877.7 L405.2,881.4 L405.7,884.9 L406.2,888.0 L406.7,890.6 L407.2,892.7 L407.7,894.4 L408.2,895.6 L408.7,896.5 L409.2,897.1 L409.7,897.5 L410.2,897.8 L410.7,898.0 L411.2,898.1 L411.2,898.2 Z" fill="#000000" fill-opacity="0.1" stroke="#999" stroke-width="0.6" stroke-dasharray="1 1"/>
<rect x="369.2" y="798.2" width="99.5" height="100" fill="none" stroke="#8c8c8c" stroke-width="0.9"/>
<path d="M379.4,898.2v2.6M385.5,898.2v1.5M389.0,898.2v1.5M391.6,898.2v1.5M393.5,898.2v1.5M395.1,898.2v1.5M396.5,898.2v1.5M397.6,898.2v1.5M398.7,898.2v1.5M399.6,898.2v2.6M405.5,898.2v1.5M409.0,898.2v1.5M411.5,898.2v1.5M413.4,898.2v1.5M414.9,898.2v1.5M416.2,898.2v1.5M417.4,898.2v1.5M418.4,898.2v1.5M419.3,898.2v2.6M425.4,898.2v1.5M428.9,898.2v1.5M431.5,898.2v1.5M433.4,898.2v1.5M435.0,898.2v1.5M436.4,898.2v1.5M437.5,898.2v1.5M438.6,898.2v1.5M439.5,898.2v2.6M445.4,898.2v1.5M448.9,898.2v1.5M451.4,898.2v1.5M453.3,898.2v1.5M454.8,898.2v1.5M456.1,898.2v1.5M457.3,898.2v1.5M458.3,898.2v1.5M459.2,898.2v2.6M374.6,898.2v1.5M375.7,898.2v1.5M376.6,898.2v1.5M377.4,898.2v1.5M378.0,898.2v1.5M378.5,898.2v1.5M379.0,898.2v1.5" stroke="#444" stroke-width="0.6"/>
<text x="376.90" y="914.20" font-size="8.5">10</text>
<text x="387.20" y="907.20" font-size="8.5">1</text>
<text x="397.30" y="914.20" font-size="8.5">10</text>
<text x="407.60" y="907.20" font-size="8.5">2</text>
<text x="417.50" y="914.20" font-size="8.5">10</text>
<text x="427.80" y="907.20" font-size="8.5">3</text>
<text x="437.60" y="914.20" font-size="8.5">10</text>
<text x="447.90" y="907.20" font-size="8.5">4</text>
<text x="454.10" y="914.20" font-size="8.5">10</text>
<text x="464.40" y="907.20" font-size="8.5">5</text>
<text x="419.20" y="789.50" font-size="20.5" text-anchor="middle">DNAM-1</text>
<path d="M479.5,839.2h100M479.5,858.9000000000001h100M479.5,878.7h100" stroke="#c9c9c9" stroke-width="0.9"/>
<path d="M506.0,839.2 L506.0,839.1 L506.5,839.0 L507.0,838.8 L507.5,838.5 L508.0,837.9 L508.5,837.1 L509.0,835.9 L509.5,834.1 L510.0,831.8 L510.5,828.8 L511.0,825.1 L511.5,821.0 L512.0,816.7 L512.5,812.5 L513.0,808.8 L513.5,806.0 L514.0,804.4 L514.5,804.2 L515.0,805.4 L515.5,807.7 L516.0,810.9 L516.5,814.6 L517.0,818.4 L517.5,822.0 L518.0,825.2 L518.5,827.8 L519.0,829.8 L519.5,831.4 L520.0,832.5 L520.5,833.4 L521.0,834.0 L521.5,834.5 L522.0,835.0 L522.5,835.4 L523.0,835.8 L523.5,836.2 L524.0,836.6 L524.5,836.9 L525.0,837.3 L525.5,837.6 L526.0,837.9 L526.5,838.1 L527.0,838.3 L527.5,838.5 L528.0,838.7 L528.5,838.8 L529.0,838.9 L529.5,839.0 L530.0,839.0 L530.0,839.2 Z" fill="#737378" fill-opacity="1.0" stroke="#555" stroke-opacity="0.55" stroke-width="0.5"/>
<path d="M506.5,858.9 L506.5,858.8 L507.0,858.7 L507.5,858.5 L508.0,858.2 L508.5,857.6 L509.0,856.8 L509.5,855.6 L510.0,853.8 L510.5,851.4 L511.0,848.4 L511.5,844.8 L512.0,840.7 L512.5,836.4 L513.0,832.2 L513.5,828.5 L514.0,825.7 L514.5,824.1 L515.0,823.9 L515.5,825.0 L516.0,827.4 L516.5,830.6 L517.0,834.2 L517.5,838.0 L518.0,841.6 L518.5,844.8 L519.0,847.5 L519.5,849.6 L520.0,851.2 L520.5,852.4 L521.0,853.3 L521.5,854.0 L522.0,854.6 L522.5,855.0 L523.0,855.5 L523.5,855.9 L524.0,856.3 L524.5,856.6 L525.0,857.0 L525.5,857.3 L526.0,857.6 L526.5,857.8 L527.0,858.1 L527.5,858.2 L528.0,858.4 L528.5,858.5 L529.0,858.6 L529.5,858.7 L530.0,858.7 L530.0,858.9 Z" fill="#5c5c60" fill-opacity="0.43" stroke="#555" stroke-opacity="0.55" stroke-width="0.5"/>
<path d="M505.5,878.7 L505.5,878.6 L506.0,878.6 L506.5,878.4 L507.0,878.3 L507.5,877.9 L508.0,877.4 L508.5,876.7 L509.0,875.6 L509.5,874.1 L510.0,872.0 L510.5,869.5 L511.0,866.3 L511.5,862.7 L512.0,858.8 L512.5,854.8 L513.0,851.1 L513.5,847.8 L514.0,845.3 L514.5,843.9 L515.0,843.7 L515.5,844.6 L516.0,846.6 L516.5,849.3 L517.0,852.6 L517.5,856.1 L518.0,859.6 L518.5,862.7 L519.0,865.5 L519.5,867.9 L520.0,869.8 L520.5,871.2 L521.0,872.4 L521.5,873.3 L522.0,874.0 L522.5,874.6 L523.0,875.2 L523.5,875.6 L524.0,876.0 L524.5,876.4 L525.0,876.8 L525.5,877.1 L526.0,877.4 L526.5,877.6 L527.0,877.9 L527.5,878.0 L528.0,878.2 L528.5,878.3 L529.0,878.4 L529.5,878.5 L530.0,878.5 L530.0,878.7 Z" fill="#000000" fill-opacity="0.106" stroke="#555" stroke-opacity="0.55" stroke-width="0.5"/>
<path d="M505.0,898.2 L505.0,898.1 L505.5,898.0 L506.0,897.9 L506.5,897.7 L507.0,897.3 L507.5,896.7 L508.0,895.8 L508.5,894.5 L509.0,892.7 L509.5,890.4 L510.0,887.5 L510.5,884.1 L511.0,880.2 L511.5,876.2 L512.0,872.2 L512.5,868.6 L513.0,865.7 L513.5,863.8 L514.0,863.2 L514.5,863.8 L515.0,865.7 L515.5,868.6 L516.0,872.2 L516.5,876.2 L517.0,880.2 L517.5,884.1 L518.0,887.5 L518.5,890.4 L519.0,892.7 L519.5,894.5 L520.0,895.8 L520.5,896.7 L521.0,897.3 L521.5,897.7 L522.0,897.9 L522.5,898.0 L523.0,898.1 L523.0,898.2 Z" fill="#000000" fill-opacity="0.1" stroke="#999" stroke-width="0.6" stroke-dasharray="1 1"/>
<rect x="479.5" y="798.2" width="99.5" height="100" fill="none" stroke="#8c8c8c" stroke-width="0.9"/>
<path d="M489.7,898.2v2.6M495.8,898.2v1.5M499.3,898.2v1.5M501.9,898.2v1.5M503.8,898.2v1.5M505.4,898.2v1.5M506.8,898.2v1.5M507.9,898.2v1.5M509.0,898.2v1.5M509.9,898.2v2.6M515.8,898.2v1.5M519.3,898.2v1.5M521.8,898.2v1.5M523.7,898.2v1.5M525.2,898.2v1.5M526.5,898.2v1.5M527.7,898.2v1.5M528.7,898.2v1.5M529.6,898.2v2.6M535.7,898.2v1.5M539.2,898.2v1.5M541.8,898.2v1.5M543.7,898.2v1.5M545.3,898.2v1.5M546.7,898.2v1.5M547.8,898.2v1.5M548.9,898.2v1.5M549.8,898.2v2.6M555.7,898.2v1.5M559.2,898.2v1.5M561.7,898.2v1.5M563.6,898.2v1.5M565.1,898.2v1.5M566.4,898.2v1.5M567.6,898.2v1.5M568.6,898.2v1.5M569.5,898.2v2.6M484.9,898.2v1.5M486.0,898.2v1.5M486.9,898.2v1.5M487.7,898.2v1.5M488.3,898.2v1.5M488.8,898.2v1.5M489.3,898.2v1.5" stroke="#444" stroke-width="0.6"/>
<text x="487.20" y="914.20" font-size="8.5">10</text>
<text x="497.50" y="907.20" font-size="8.5">1</text>
<text x="507.60" y="914.20" font-size="8.5">10</text>
<text x="517.90" y="907.20" font-size="8.5">2</text>
<text x="527.80" y="914.20" font-size="8.5">10</text>
<text x="538.10" y="907.20" font-size="8.5">3</text>
<text x="547.90" y="914.20" font-size="8.5">10</text>
<text x="558.20" y="907.20" font-size="8.5">4</text>
<text x="564.40" y="914.20" font-size="8.5">10</text>
<text x="574.70" y="907.20" font-size="8.5">5</text>
<text x="529.50" y="789.50" font-size="20.5" text-anchor="middle">CD62L</text>
<path d="M37.6,988.0h100M37.6,1007.7h100M37.6,1027.5h100" stroke="#c9c9c9" stroke-width="0.9"/>
<path d="M72.6,988.0 L72.6,987.8 L73.1,987.8 L73.6,987.7 L74.1,987.6 L74.6,987.4 L75.1,987.3 L75.6,987.0 L76.1,986.8 L76.6,986.4 L77.1,986.1 L77.6,985.6 L78.1,985.1 L78.6,984.6 L79.1,983.9 L79.6,983.3 L80.1,982.6 L80.6,981.9 L81.1,981.1 L81.6,980.4 L82.1,979.7 L82.6,979.0 L83.1,978.3 L83.6,977.7 L84.1,977.2 L84.6,976.7 L85.1,976.3 L85.6,975.9 L86.1,975.6 L86.6,975.4 L87.1,975.2 L87.6,975.0 L88.1,974.8 L88.6,974.7 L89.1,974.5 L89.6,974.2 L90.1,973.8 L90.6,973.4 L91.1,972.7 L91.6,971.8 L92.1,970.6 L92.6,969.2 L93.1,967.5 L93.6,965.6 L94.1,963.4 L94.6,961.2 L95.1,959.0 L95.6,956.9 L96.1,955.1 L96.6,953.8 L97.1,953.1 L97.6,953.0 L98.1,953.6 L98.6,955.0 L99.1,956.9 L99.6,959.4 L100.1,962.3 L100.6,965.4 L101.1,968.6 L101.6,971.7 L102.1,974.7 L102.6,977.3 L103.1,979.7 L103.6,981.6 L104.1,983.3 L104.6,984.5 L105.1,985.5 L105.6,986.3 L106.1,986.8 L106.6,987.2 L107.1,987.5 L107.6,987.7 L108.1,987.8 L108.6,987.9 L108.6,988.0 Z" fill="#737378" fill-opacity="1.0" stroke="#555" stroke-opacity="0.55" stroke-width="0.5"/>
<path d="M69.1,1007.7 L69.1,1007.5 L69.6,1007.5 L70.1,1007.4 L70.6,1007.3 L71.1,1007.2 L71.6,1007.1 L72.1,1007.0 L72.6,1006.8 L73.1,1006.7 L73.6,1006.5 L74.1,1006.3 L74.6,1006.0 L75.1,1005.7 L75.6,1005.4 L76.1,1005.1 L76.6,1004.7 L77.1,1004.4 L77.6,1004.0 L78.1,1003.5 L78.6,1003.1 L79.1,1002.6 L79.6,1002.1 L80.1,1001.7 L80.6,1001.2 L81.1,1000.7 L81.6,1000.2 L82.1,999.7 L82.6,999.2 L83.1,998.7 L83.6,998.3 L84.1,997.9 L84.6,997.5 L85.1,997.2 L85.6,996.9 L86.1,996.7 L86.6,996.6 L87.1,996.5 L87.6,996.4 L88.1,996.4 L88.6,996.4 L89.1,996.4 L89.6,996.4 L90.1,996.3 L90.6,996.1 L91.1,995.7 L91.6,995.1 L92.1,994.2 L92.6,992.9 L93.1,991.3 L93.6,989.4 L94.1,987.1 L94.6,984.6 L95.1,982.0 L95.6,979.5 L96.1,977.1 L96.6,975.1 L97.1,973.6 L97.6,972.8 L98.1,972.7 L98.6,973.4 L99.1,974.8 L99.6,976.9 L100.1,979.5 L100.6,982.5 L101.1,985.7 L101.6,989.0 L102.1,992.1 L102.6,995.1 L103.1,997.7 L103.6,1000.0 L104.1,1001.9 L104.6,1003.4 L105.1,1004.6 L105.6,1005.5 L106.1,1006.2 L106.6,1006.7 L107.1,1007.0 L107.6,1007.3 L108.1,1007.4 L108.6,1007.5 L109.1,1007.6 L109.1,1007.7 Z" fill="#5c5c60" fill-opacity="0.43" stroke="#555" stroke-opacity="0.55" stroke-width="0.5"/>
<path d="M68.1,1027.5 L68.1,1027.3 L68.6,1027.3 L69.1,1027.2 L69.6,1027.1 L70.1,1027.1 L70.6,1027.0 L71.1,1026.9 L71.6,1026.7 L72.1,1026.6 L72.6,1026.5 L73.1,1026.3 L73.6,1026.1 L74.1,1025.9 L74.6,1025.7 L75.1,1025.4 L75.6,1025.1 L76.1,1024.8 L76.6,1024.5 L77.1,1024.2 L77.6,1023.8 L78.1,1023.5 L78.6,1023.1 L79.1,1022.7 L79.6,1022.3 L80.1,1021.8 L80.6,1021.4 L81.1,1020.9 L81.6,1020.5 L82.1,1020.0 L82.6,1019.5 L83.1,1019.0 L83.6,1018.5 L84.1,1018.0 L84.6,1017.6 L85.1,1017.1 L85.6,1016.6 L86.1,1016.2 L86.6,1015.7 L87.1,1015.3 L87.6,1014.9 L88.1,1014.4 L88.6,1014.0 L89.1,1013.4 L89.6,1012.8 L90.1,1012.0 L90.6,1011.1 L91.1,1010.0 L91.6,1008.7 L92.1,1007.2 L92.6,1005.4 L93.1,1003.5 L93.6,1001.5 L94.1,999.4 L94.6,997.4 L95.1,995.6 L95.6,994.1 L96.1,993.1 L96.6,992.5 L97.1,992.5 L97.6,993.2 L98.1,994.4 L98.6,996.2 L99.1,998.5 L99.6,1001.1 L100.1,1004.0 L100.6,1007.0 L101.1,1010.0 L101.6,1012.8 L102.1,1015.5 L102.6,1017.9 L103.1,1019.9 L103.6,1021.7 L104.1,1023.1 L104.6,1024.2 L105.1,1025.1 L105.6,1025.8 L106.1,1026.3 L106.6,1026.7 L107.1,1027.0 L107.6,1027.2 L108.1,1027.3 L108.6,1027.4 L108.6,1027.5 Z" fill="#000000" fill-opacity="0.106" stroke="#555" stroke-opacity="0.55" stroke-width="0.5"/>
<path d="M64.1,1047.0 L64.1,1046.9 L64.6,1046.8 L65.1,1046.7 L65.6,1046.4 L66.1,1046.0 L66.6,1045.3 L67.1,1044.2 L67.6,1042.6 L68.1,1040.5 L68.6,1037.6 L69.1,1034.2 L69.6,1030.1 L70.1,1025.8 L70.6,1021.4 L71.1,1017.5 L71.6,1014.3 L72.1,1012.5 L72.6,1012.0 L73.1,1013.0 L73.6,1015.5 L74.1,1018.9 L74.6,1023.1 L75.1,1027.5 L75.6,1031.8 L76.1,1035.6 L76.6,1038.9 L77.1,1041.4 L77.6,1043.3 L78.1,1044.7 L78.6,1045.6 L79.1,1046.2 L79.6,1046.6 L80.1,1046.8 L80.6,1046.9 L80.6,1047.0 Z" fill="#000000" fill-opacity="0.1" stroke="#999" stroke-width="0.6" stroke-dasharray="1 1"/>
<rect x="37.6" y="947.0" width="99.5" height="100" fill="none" stroke="#8c8c8c" stroke-width="0.9"/>
<path d="M47.8,1047.0v2.6M53.9,1047.0v1.5M57.4,1047.0v1.5M60.0,1047.0v1.5M61.9,1047.0v1.5M63.5,1047.0v1.5M64.9,1047.0v1.5M66.0,1047.0v1.5M67.1,1047.0v1.5M68.0,1047.0v2.6M73.9,1047.0v1.5M77.4,1047.0v1.5M79.9,1047.0v1.5M81.8,1047.0v1.5M83.3,1047.0v1.5M84.6,1047.0v1.5M85.8,1047.0v1.5M86.8,1047.0v1.5M87.7,1047.0v2.6M93.8,1047.0v1.5M97.3,1047.0v1.5M99.9,1047.0v1.5M101.8,1047.0v1.5M103.4,1047.0v1.5M104.8,1047.0v1.5M105.9,1047.0v1.5M107.0,1047.0v1.5M107.9,1047.0v2.6M113.8,1047.0v1.5M117.3,1047.0v1.5M119.8,1047.0v1.5M121.7,1047.0v1.5M123.2,1047.0v1.5M124.5,1047.0v1.5M125.7,1047.0v1.5M126.7,1047.0v1.5M127.6,1047.0v2.6M43.0,1047.0v1.5M44.1,1047.0v1.5M45.0,1047.0v1.5M45.8,1047.0v1.5M46.4,1047.0v1.5M46.9,1047.0v1.5M47.4,1047.0v1.5" stroke="#444" stroke-width="0.6"/>
<text x="45.30" y="1063.00" font-size="8.5">10</text>
<text x="55.60" y="1056.00" font-size="8.5">1</text>
<text x="65.70" y="1063.00" font-size="8.5">10</text>
<text x="76.00" y="1056.00" font-size="8.5">2</text>
<text x="85.90" y="1063.00" font-size="8.5">10</text>
<text x="96.20" y="1056.00" font-size="8.5">3</text>
<text x="106.00" y="1063.00" font-size="8.5">10</text>
<text x="116.30" y="1056.00" font-size="8.5">4</text>
<text x="122.50" y="1063.00" font-size="8.5">10</text>
<text x="132.80" y="1056.00" font-size="8.5">5</text>
<text x="87.60" y="938.30" font-size="20.5" text-anchor="middle">CD94</text>
<path d="M147.9,988.0h100M147.9,1007.7h100M147.9,1027.5h100" stroke="#c9c9c9" stroke-width="0.9"/>
<path d="M174.9,988.0 L174.9,987.9 L175.4,987.8 L175.9,987.6 L176.4,987.3 L176.9,986.8 L177.4,985.9 L177.9,984.6 L178.4,982.8 L178.9,980.4 L179.4,977.3 L179.9,973.6 L180.4,969.3 L180.9,964.9 L181.4,960.7 L181.9,957.0 L182.4,954.3 L182.9,953.0 L183.4,953.2 L183.9,954.8 L184.4,957.7 L184.9,961.5 L185.4,965.8 L185.9,970.2 L186.4,974.4 L186.9,978.0 L187.4,980.9 L187.9,983.2 L188.4,984.9 L188.9,986.1 L189.4,986.9 L189.9,987.4 L190.4,987.7 L190.9,987.8 L191.4,987.9 L191.9,988.0 L192.4,988.0 L192.9,988.0 L193.4,988.0 L193.9,988.0 L194.4,988.0 L194.9,988.0 L195.4,988.0 L195.9,988.0 L196.4,988.0 L196.9,988.0 L197.4,988.0 L197.9,987.9 L198.4,987.9 L198.9,987.9 L199.4,987.8 L199.9,987.7 L200.4,987.7 L200.9,987.6 L201.4,987.4 L201.9,987.3 L202.4,987.1 L202.9,986.9 L203.4,986.6 L203.9,986.4 L204.4,986.1 L204.9,985.8 L205.4,985.5 L205.9,985.3 L206.4,985.0 L206.9,984.7 L207.4,984.5 L207.9,984.3 L208.4,984.2 L208.9,984.1 L209.4,984.1 L209.9,984.2 L210.4,984.3 L210.9,984.5 L211.4,984.7 L211.9,984.9 L212.4,985.2 L212.9,985.5 L213.4,985.8 L213.9,986.1 L214.4,986.3 L214.9,986.6 L215.4,986.8 L215.9,987.0 L216.4,987.2 L216.9,987.4 L217.4,987.5 L217.9,987.6 L218.4,987.7 L218.9,987.8 L219.4,987.9 L219.4,988.0 Z" fill="#737378" fill-opacity="1.0" stroke="#555" stroke-opacity="0.55" stroke-width="0.5"/>
<path d="M174.9,1007.7 L174.9,1007.6 L175.4,1007.5 L175.9,1007.3 L176.4,1007.0 L176.9,1006.5 L177.4,1005.6 L177.9,1004.3 L178.4,1002.5 L178.9,1000.1 L179.4,997.0 L179.9,993.3 L180.4,989.0 L180.9,984.6 L181.4,980.4 L181.9,976.7 L182.4,974.0 L182.9,972.7 L183.4,972.9 L183.9,974.5 L184.4,977.4 L184.9,981.2 L185.4,985.5 L185.9,989.9 L186.4,994.1 L186.9,997.7 L187.4,1000.6 L187.9,1002.9 L188.4,1004.6 L188.9,1005.8 L189.4,1006.6 L189.9,1007.1 L190.4,1007.4 L190.9,1007.5 L191.4,1007.6 L191.9,1007.7 L192.4,1007.7 L192.9,1007.7 L193.4,1007.7 L193.9,1007.7 L194.4,1007.7 L194.9,1007.7 L195.4,1007.7 L195.9,1007.7 L196.4,1007.7 L196.9,1007.7 L197.4,1007.7 L197.9,1007.6 L198.4,1007.6 L198.9,1007.6 L199.4,1007.5 L199.9,1007.5 L200.4,1007.4 L200.9,1007.3 L201.4,1007.2 L201.9,1007.0 L202.4,1006.9 L202.9,1006.7 L203.4,1006.5 L203.9,1006.2 L204.4,1006.0 L204.9,1005.7 L205.4,1005.5 L205.9,1005.2 L206.4,1005.0 L206.9,1004.7 L207.4,1004.5 L207.9,1004.4 L208.4,1004.3 L208.9,1004.2 L209.4,1004.2 L209.9,1004.2 L210.4,1004.3 L210.9,1004.5 L211.4,1004.7 L211.9,1004.9 L212.4,1005.1 L212.9,1005.4 L213.4,1005.7 L213.9,1005.9 L214.4,1006.2 L214.9,1006.4 L215.4,1006.6 L215.9,1006.8 L216.4,1007.0 L216.9,1007.1 L217.4,1007.3 L217.9,1007.4 L218.4,1007.5 L218.9,1007.5 L218.9,1007.7 Z" fill="#5c5c60" fill-opacity="0.43" stroke="#555" stroke-opacity="0.55" stroke-width="0.5"/>
<path d="M172.9,1027.5 L172.9,1027.4 L173.4,1027.3 L173.9,1027.1 L174.4,1026.8 L174.9,1026.4 L175.4,1025.6 L175.9,1024.6 L176.4,1023.1 L176.9,1021.1 L177.4,1018.6 L177.9,1015.4 L178.4,1011.8 L178.9,1007.8 L179.4,1003.8 L179.9,999.9 L180.4,996.5 L180.9,994.0 L181.4,992.6 L181.9,992.5 L182.4,993.6 L182.9,995.9 L183.4,999.2 L183.9,1003.0 L184.4,1007.0 L184.9,1011.0 L185.4,1014.7 L185.9,1018.0 L186.4,1020.6 L186.9,1022.7 L187.4,1024.3 L187.9,1025.5 L188.4,1026.2 L188.9,1026.7 L189.4,1027.1 L189.9,1027.3 L190.4,1027.4 L190.9,1027.4 L191.4,1027.5 L191.9,1027.5 L192.4,1027.5 L192.9,1027.5 L193.4,1027.5 L193.9,1027.5 L194.4,1027.5 L194.9,1027.5 L195.4,1027.5 L195.9,1027.5 L196.4,1027.5 L196.9,1027.5 L197.4,1027.4 L197.9,1027.4 L198.4,1027.4 L198.9,1027.3 L199.4,1027.3 L199.9,1027.2 L200.4,1027.1 L200.9,1027.0 L201.4,1026.9 L201.9,1026.7 L202.4,1026.5 L202.9,1026.3 L203.4,1026.0 L203.9,1025.7 L204.4,1025.4 L204.9,1025.1 L205.4,1024.8 L205.9,1024.5 L206.4,1024.2 L206.9,1023.9 L207.4,1023.7 L207.9,1023.5 L208.4,1023.4 L208.9,1023.3 L209.4,1023.3 L209.9,1023.4 L210.4,1023.5 L210.9,1023.7 L211.4,1023.9 L211.9,1024.1 L212.4,1024.4 L212.9,1024.8 L213.4,1025.1 L213.9,1025.4 L214.4,1025.7 L214.9,1026.0 L215.4,1026.2 L215.9,1026.5 L216.4,1026.7 L216.9,1026.8 L217.4,1027.0 L217.9,1027.1 L218.4,1027.2 L218.9,1027.3 L219.4,1027.3 L219.4,1027.5 Z" fill="#000000" fill-opacity="0.106" stroke="#555" stroke-opacity="0.55" stroke-width="0.5"/>
<path d="M173.4,1047.0 L173.4,1046.9 L173.9,1046.8 L174.4,1046.7 L174.9,1046.4 L175.4,1045.9 L175.9,1045.1 L176.4,1043.9 L176.9,1042.2 L177.4,1039.9 L177.9,1037.0 L178.4,1033.4 L178.9,1029.2 L179.4,1024.8 L179.9,1020.5 L180.4,1016.7 L180.9,1013.8 L181.4,1012.2 L181.9,1012.0 L182.4,1013.3 L182.9,1016.0 L183.4,1019.7 L183.9,1023.9 L184.4,1028.3 L184.9,1032.6 L185.4,1036.3 L185.9,1039.4 L186.4,1041.8 L186.9,1043.6 L187.4,1044.9 L187.9,1045.8 L188.4,1046.3 L188.9,1046.6 L189.4,1046.8 L189.9,1046.9 L189.9,1047.0 Z" fill="#000000" fill-opacity="0.1" stroke="#999" stroke-width="0.6" stroke-dasharray="1 1"/>
<rect x="147.9" y="947.0" width="99.5" height="100" fill="none" stroke="#8c8c8c" stroke-width="0.9"/>
<path d="M158.1,1047.0v2.6M164.2,1047.0v1.5M167.7,1047.0v1.5M170.3,1047.0v1.5M172.2,1047.0v1.5M173.8,1047.0v1.5M175.2,1047.0v1.5M176.3,1047.0v1.5M177.4,1047.0v1.5M178.3,1047.0v2.6M184.2,1047.0v1.5M187.7,1047.0v1.5M190.2,1047.0v1.5M192.1,1047.0v1.5M193.6,1047.0v1.5M194.9,1047.0v1.5M196.1,1047.0v1.5M197.1,1047.0v1.5M198.0,1047.0v2.6M204.1,1047.0v1.5M207.6,1047.0v1.5M210.2,1047.0v1.5M212.1,1047.0v1.5M213.7,1047.0v1.5M215.1,1047.0v1.5M216.2,1047.0v1.5M217.3,1047.0v1.5M218.2,1047.0v2.6M224.1,1047.0v1.5M227.6,1047.0v1.5M230.1,1047.0v1.5M232.0,1047.0v1.5M233.5,1047.0v1.5M234.8,1047.0v1.5M236.0,1047.0v1.5M237.0,1047.0v1.5M237.9,1047.0v2.6M153.3,1047.0v1.5M154.4,1047.0v1.5M155.3,1047.0v1.5M156.1,1047.0v1.5M156.7,1047.0v1.5M157.2,1047.0v1.5M157.7,1047.0v1.5" stroke="#444" stroke-width="0.6"/>
<text x="155.60" y="1063.00" font-size="8.5">10</text>
<text x="165.90" y="1056.00" font-size="8.5">1</text>
<text x="176.00" y="1063.00" font-size="8.5">10</text>
<text x="186.30" y="1056.00" font-size="8.5">2</text>
<text x="196.20" y="1063.00" font-size="8.5">10</text>
<text x="206.50" y="1056.00" font-size="8.5">3</text>
<text x="216.30" y="1063.00" font-size="8.5">10</text>
<text x="226.60" y="1056.00" font-size="8.5">4</text>
<text x="232.80" y="1063.00" font-size="8.5">10</text>
<text x="243.10" y="1056.00" font-size="8.5">5</text>
<text x="197.90" y="938.30" font-size="20.5" text-anchor="middle">KIR-NKAT2</text>
<path d="M258.4,988.0h100M258.4,1007.7h100M258.4,1027.5h100" stroke="#c9c9c9" stroke-width="0.9"/>
<path d="M289.9,988.0 L289.9,987.9 L290.4,987.8 L290.9,987.6 L291.4,987.5 L291.9,987.2 L292.4,986.9 L292.9,986.5 L293.4,986.0 L293.9,985.4 L294.4,984.7 L294.9,984.1 L295.4,983.5 L295.9,982.9 L296.4,982.5 L296.9,982.2 L297.4,982.1 L297.9,982.1 L298.4,982.2 L298.9,982.4 L299.4,982.7 L299.9,982.9 L300.4,983.1 L300.9,983.1 L301.4,983.1 L301.9,983.0 L302.4,982.8 L302.9,982.5 L303.4,982.2 L303.9,981.8 L304.4,981.4 L304.9,980.9 L305.4,980.4 L305.9,980.0 L306.4,979.5 L306.9,979.0 L307.4,978.5 L307.9,978.0 L308.4,977.5 L308.9,977.1 L309.4,976.6 L309.9,976.1 L310.4,975.6 L310.9,975.1 L311.4,974.4 L311.9,973.7 L312.4,972.8 L312.9,971.7 L313.4,970.3 L313.9,968.8 L314.4,966.9 L314.9,964.9 L315.4,962.7 L315.9,960.5 L316.4,958.3 L316.9,956.3 L317.4,954.7 L317.9,953.6 L318.4,953.0 L318.9,953.1 L319.4,953.9 L319.9,955.4 L320.4,957.5 L320.9,960.1 L321.4,963.0 L321.9,966.2 L322.4,969.3 L322.9,972.4 L323.4,975.3 L323.9,977.9 L324.4,980.1 L324.9,982.0 L325.4,983.5 L325.9,984.8 L326.4,985.7 L326.9,986.4 L327.4,986.9 L327.9,987.3 L328.4,987.5 L328.9,987.7 L329.4,987.8 L329.9,987.9 L329.9,988.0 Z" fill="#737378" fill-opacity="1.0" stroke="#555" stroke-opacity="0.55" stroke-width="0.5"/>
<path d="M288.4,1007.7 L288.4,1007.6 L288.9,1007.5 L289.4,1007.4 L289.9,1007.3 L290.4,1007.2 L290.9,1007.0 L291.4,1006.7 L291.9,1006.3 L292.4,1005.9 L292.9,1005.5 L293.4,1004.9 L293.9,1004.4 L294.4,1003.8 L294.9,1003.2 L295.4,1002.7 L295.9,1002.2 L296.4,1001.8 L296.9,1001.5 L297.4,1001.3 L297.9,1001.2 L298.4,1001.2 L298.9,1001.2 L299.4,1001.3 L299.9,1001.4 L300.4,1001.5 L300.9,1001.5 L301.4,1001.5 L301.9,1001.4 L302.4,1001.3 L302.9,1001.1 L303.4,1000.9 L303.9,1000.6 L304.4,1000.3 L304.9,999.9 L305.4,999.6 L305.9,999.2 L306.4,998.9 L306.9,998.5 L307.4,998.1 L307.9,997.8 L308.4,997.5 L308.9,997.1 L309.4,996.8 L309.9,996.4 L310.4,996.0 L310.9,995.6 L311.4,995.0 L311.9,994.3 L312.4,993.4 L312.9,992.3 L313.4,991.0 L313.9,989.4 L314.4,987.5 L314.9,985.4 L315.4,983.1 L315.9,980.8 L316.4,978.5 L316.9,976.4 L317.4,974.6 L317.9,973.4 L318.4,972.7 L318.9,972.7 L319.4,973.5 L319.9,974.9 L320.4,977.0 L320.9,979.6 L321.4,982.5 L321.9,985.7 L322.4,988.8 L322.9,992.0 L323.4,994.9 L323.9,997.5 L324.4,999.7 L324.9,1001.6 L325.4,1003.2 L325.9,1004.4 L326.4,1005.4 L326.9,1006.1 L327.4,1006.6 L327.9,1007.0 L328.4,1007.2 L328.9,1007.4 L329.4,1007.5 L329.9,1007.6 L329.9,1007.7 Z" fill="#5c5c60" fill-opacity="0.43" stroke="#555" stroke-opacity="0.55" stroke-width="0.5"/>
<path d="M288.9,1027.5 L288.9,1027.4 L289.4,1027.3 L289.9,1027.2 L290.4,1027.0 L290.9,1026.7 L291.4,1026.4 L291.9,1026.0 L292.4,1025.5 L292.9,1024.9 L293.4,1024.2 L293.9,1023.6 L294.4,1022.9 L294.9,1022.4 L295.4,1022.0 L295.9,1021.7 L296.4,1021.6 L296.9,1021.6 L297.4,1021.7 L297.9,1022.0 L298.4,1022.2 L298.9,1022.5 L299.4,1022.6 L299.9,1022.7 L300.4,1022.7 L300.9,1022.6 L301.4,1022.5 L301.9,1022.2 L302.4,1022.0 L302.9,1021.6 L303.4,1021.3 L303.9,1021.0 L304.4,1020.6 L304.9,1020.3 L305.4,1020.0 L305.9,1019.7 L306.4,1019.4 L306.9,1019.1 L307.4,1018.8 L307.9,1018.5 L308.4,1018.2 L308.9,1018.0 L309.4,1017.7 L309.9,1017.3 L310.4,1016.9 L310.9,1016.4 L311.4,1015.8 L311.9,1014.9 L312.4,1013.9 L312.9,1012.6 L313.4,1011.0 L313.9,1009.1 L314.4,1007.0 L314.9,1004.7 L315.4,1002.2 L315.9,999.7 L316.4,997.4 L316.9,995.4 L317.4,993.8 L317.9,992.8 L318.4,992.5 L318.9,992.9 L319.4,994.0 L319.9,995.8 L320.4,998.2 L320.9,1001.0 L321.4,1004.1 L321.9,1007.3 L322.4,1010.4 L322.9,1013.4 L323.4,1016.2 L323.9,1018.6 L324.4,1020.7 L324.9,1022.4 L325.4,1023.7 L325.9,1024.8 L326.4,1025.6 L326.9,1026.2 L327.4,1026.6 L327.9,1026.9 L328.4,1027.1 L328.9,1027.3 L329.4,1027.4 L329.4,1027.5 Z" fill="#000000" fill-opacity="0.106" stroke="#555" stroke-opacity="0.55" stroke-width="0.5"/>
<path d="M284.4,1047.0 L284.4,1046.9 L284.9,1046.8 L285.4,1046.7 L285.9,1046.4 L286.4,1046.0 L286.9,1045.3 L287.4,1044.2 L287.9,1042.6 L288.4,1040.5 L288.9,1037.6 L289.4,1034.2 L289.9,1030.1 L290.4,1025.8 L290.9,1021.4 L291.4,1017.5 L291.9,1014.3 L292.4,1012.5 L292.9,1012.0 L293.4,1013.0 L293.9,1015.5 L294.4,1018.9 L294.9,1023.1 L295.4,1027.5 L295.9,1031.8 L296.4,1035.6 L296.9,1038.9 L297.4,1041.4 L297.9,1043.3 L298.4,1044.7 L298.9,1045.6 L299.4,1046.2 L299.9,1046.6 L300.4,1046.8 L300.9,1046.9 L300.9,1047.0 Z" fill="#000000" fill-opacity="0.1" stroke="#999" stroke-width="0.6" stroke-dasharray="1 1"/>
<rect x="258.4" y="947.0" width="99.5" height="100" fill="none" stroke="#8c8c8c" stroke-width="0.9"/>
<path d="M268.6,1047.0v2.6M274.7,1047.0v1.5M278.2,1047.0v1.5M280.8,1047.0v1.5M282.7,1047.0v1.5M284.3,1047.0v1.5M285.7,1047.0v1.5M286.8,1047.0v1.5M287.9,1047.0v1.5M288.8,1047.0v2.6M294.7,1047.0v1.5M298.2,1047.0v1.5M300.7,1047.0v1.5M302.6,1047.0v1.5M304.1,1047.0v1.5M305.4,1047.0v1.5M306.6,1047.0v1.5M307.6,1047.0v1.5M308.5,1047.0v2.6M314.6,1047.0v1.5M318.1,1047.0v1.5M320.7,1047.0v1.5M322.6,1047.0v1.5M324.2,1047.0v1.5M325.6,1047.0v1.5M326.7,1047.0v1.5M327.8,1047.0v1.5M328.7,1047.0v2.6M334.6,1047.0v1.5M338.1,1047.0v1.5M340.6,1047.0v1.5M342.5,1047.0v1.5M344.0,1047.0v1.5M345.3,1047.0v1.5M346.5,1047.0v1.5M347.5,1047.0v1.5M348.4,1047.0v2.6M263.8,1047.0v1.5M264.9,1047.0v1.5M265.8,1047.0v1.5M266.6,1047.0v1.5M267.2,1047.0v1.5M267.7,1047.0v1.5M268.2,1047.0v1.5" stroke="#444" stroke-width="0.6"/>
<text x="266.10" y="1063.00" font-size="8.5">10</text>
<text x="276.40" y="1056.00" font-size="8.5">1</text>
<text x="286.50" y="1063.00" font-size="8.5">10</text>
<text x="296.80" y="1056.00" font-size="8.5">2</text>
<text x="306.70" y="1063.00" font-size="8.5">10</text>
<text x="317.00" y="1056.00" font-size="8.5">3</text>
<text x="326.80" y="1063.00" font-size="8.5">10</text>
<text x="337.10" y="1056.00" font-size="8.5">4</text>
<text x="343.30" y="1063.00" font-size="8.5">10</text>
<text x="353.60" y="1056.00" font-size="8.5">5</text>
<text x="308.40" y="938.30" font-size="20.5" text-anchor="middle">NKG2A</text>
<path d="M367.3,958.9H414" stroke="#4a4a4e" stroke-width="3.2"/>
<path d="M367.3,986.6H414" stroke="#8a8a8e" stroke-width="3.2"/>
<path d="M367.3,1014.3H414" stroke="#d2d3d5" stroke-width="3.2"/>
<path d="M367.3,1038.8H414" stroke="#d2d3d5" stroke-width="3.2" stroke-dasharray="9.7 3.3"/>
<text x="425.00" y="967.50" font-size="20.5">mACE2-CAR_sIL15 NK</text>
<text x="425.00" y="994.60" font-size="20.5">sIL15 NK</text>
<text x="425.00" y="1022.20" font-size="20.5">tEGFR NK</text>
<text x="425.00" y="1047.50" font-size="20.5">Isotype</text>
<rect x="693.6" y="631.5" width="11.8" height="16.4" fill="#d5d6d8" stroke="#231f20" stroke-width="1.4"/>
<text x="714.80" y="647.50" font-size="21">tEGFR NK</text>
<rect x="822.6" y="631.5" width="11.8" height="16.4" fill="#8e8f93" stroke="#231f20" stroke-width="1.4"/>
<text x="844.60" y="647.50" font-size="21">sIL15 NK</text>
<rect x="947.8" y="631.5" width="11.8" height="16.4" fill="#231f20" stroke="#231f20" stroke-width="1.4"/>
<text x="969.00" y="647.50" font-size="21">mACE2-CAR_sIL15 NK</text>
<text x="684.60" y="969.45" font-size="21" text-anchor="end">0</text>
<text x="684.60" y="918.70" font-size="21" text-anchor="end">3500</text>
<text x="684.60" y="867.95" font-size="21" text-anchor="end">7000</text>
<text x="684.60" y="817.20" font-size="21" text-anchor="end">10500</text>
<text x="684.60" y="766.45" font-size="21" text-anchor="end">14000</text>
<text x="684.60" y="715.70" font-size="21" text-anchor="end">17500</text>
<text x="684.60" y="664.95" font-size="21" text-anchor="end">21000</text>
<path d="M692.9,655.9V961.25M692,961.25H1183.5M686.2,961.25H692.9M686.2,910.50H692.9M686.2,859.75H692.9M686.2,809.00H692.9M686.2,758.25H692.9M686.2,707.50H692.9M686.2,656.75H692.9M711.75,961.25V967.8M749.25,961.25V967.8M786.75,961.25V967.8M824.25,961.25V967.8M861.75,961.25V967.8M899.25,961.25V967.8M936.75,961.25V967.8M974.25,961.25V967.8M1011.75,961.25V967.8M1049.25,961.25V967.8M1086.75,961.25V967.8M1124.25,961.25V967.8M1161.75,961.25V967.8" stroke="#231f20" stroke-width="1.8" fill="none"/>
<path d="M701.25,859.3V801.0M698.65,801.0H703.85" stroke="#231f20" stroke-width="1.4"/>
<rect x="697.45" y="859.3" width="7.6" height="102.0" fill="#d5d6d8" stroke="#231f20" stroke-width="1.3"/>
<circle cx="701.25" cy="792.0" r="3.3" fill="#fff" stroke="#231f20" stroke-width="1.3"/>
<circle cx="701.25" cy="891.4" r="3.3" fill="#fff" stroke="#231f20" stroke-width="1.3"/>
<circle cx="701.25" cy="893.7" r="3.3" fill="#fff" stroke="#231f20" stroke-width="1.3"/>
<path d="M711.75,869.1V813.5M709.15,813.5H714.35" stroke="#231f20" stroke-width="1.4"/>
<rect x="707.95" y="869.1" width="7.6" height="92.1" fill="#8e8f93" stroke="#231f20" stroke-width="1.3"/>
<circle cx="711.75" cy="806.4" r="3.3" fill="#fff" stroke="#231f20" stroke-width="1.3"/>
<circle cx="711.75" cy="896.7" r="3.3" fill="#fff" stroke="#231f20" stroke-width="1.3"/>
<circle cx="711.75" cy="903.0" r="3.3" fill="#fff" stroke="#231f20" stroke-width="1.3"/>
<path d="M722.25,866.4V810.7M719.65,810.7H724.85" stroke="#231f20" stroke-width="1.4"/>
<rect x="718.45" y="866.4" width="7.6" height="94.9" fill="#231f20" stroke="#231f20" stroke-width="1.3"/>
<circle cx="722.25" cy="802.3" r="3.3" fill="#fff" stroke="#231f20" stroke-width="1.3"/>
<circle cx="722.25" cy="894.0" r="3.3" fill="#fff" stroke="#231f20" stroke-width="1.3"/>
<circle cx="722.25" cy="900.3" r="3.3" fill="#fff" stroke="#231f20" stroke-width="1.3"/>
<rect x="734.95" y="955.0" width="7.6" height="6.2" fill="#d5d6d8" stroke="#231f20" stroke-width="1.3"/>
<circle cx="738.75" cy="950.2" r="3.3" fill="#fff" stroke="#231f20" stroke-width="1.3"/>
<circle cx="738.75" cy="955.0" r="3.3" fill="#fff" stroke="#231f20" stroke-width="1.3"/>
<circle cx="738.75" cy="957.0" r="3.3" fill="#fff" stroke="#231f20" stroke-width="1.3"/>
<rect x="745.45" y="955.0" width="7.6" height="6.2" fill="#8e8f93" stroke="#231f20" stroke-width="1.3"/>
<circle cx="749.25" cy="950.0" r="3.3" fill="#fff" stroke="#231f20" stroke-width="1.3"/>
<circle cx="749.25" cy="955.0" r="3.3" fill="#fff" stroke="#231f20" stroke-width="1.3"/>
<circle cx="749.25" cy="957.5" r="3.3" fill="#fff" stroke="#231f20" stroke-width="1.3"/>
<rect x="755.95" y="955.5" width="7.6" height="5.8" fill="#231f20" stroke="#231f20" stroke-width="1.3"/>
<circle cx="759.75" cy="952.0" r="3.3" fill="#fff" stroke="#231f20" stroke-width="1.3"/>
<circle cx="759.75" cy="956.0" r="3.3" fill="#fff" stroke="#231f20" stroke-width="1.3"/>
<circle cx="759.75" cy="958.0" r="3.3" fill="#fff" stroke="#231f20" stroke-width="1.3"/>
<rect x="772.45" y="956.0" width="7.6" height="5.2" fill="#d5d6d8" stroke="#231f20" stroke-width="1.3"/>
<circle cx="776.25" cy="953.3" r="3.3" fill="#fff" stroke="#231f20" stroke-width="1.3"/>
<circle cx="776.25" cy="957.0" r="3.3" fill="#fff" stroke="#231f20" stroke-width="1.3"/>
<circle cx="776.25" cy="958.0" r="3.3" fill="#fff" stroke="#231f20" stroke-width="1.3"/>
<rect x="782.95" y="956.5" width="7.6" height="4.8" fill="#8e8f93" stroke="#231f20" stroke-width="1.3"/>
<circle cx="786.75" cy="954.0" r="3.3" fill="#fff" stroke="#231f20" stroke-width="1.3"/>
<circle cx="786.75" cy="957.5" r="3.3" fill="#fff" stroke="#231f20" stroke-width="1.3"/>
<circle cx="786.75" cy="958.0" r="3.3" fill="#fff" stroke="#231f20" stroke-width="1.3"/>
<rect x="793.45" y="956.0" width="7.6" height="5.2" fill="#231f20" stroke="#231f20" stroke-width="1.3"/>
<circle cx="797.25" cy="953.0" r="3.3" fill="#fff" stroke="#231f20" stroke-width="1.3"/>
<circle cx="797.25" cy="957.0" r="3.3" fill="#fff" stroke="#231f20" stroke-width="1.3"/>
<circle cx="797.25" cy="958.0" r="3.3" fill="#fff" stroke="#231f20" stroke-width="1.3"/>
<rect x="809.95" y="952.0" width="7.6" height="9.2" fill="#d5d6d8" stroke="#231f20" stroke-width="1.3"/>
<circle cx="813.75" cy="942.2" r="3.3" fill="#fff" stroke="#231f20" stroke-width="1.3"/>
<circle cx="813.75" cy="951.4" r="3.3" fill="#fff" stroke="#231f20" stroke-width="1.3"/>
<circle cx="813.75" cy="955.0" r="3.3" fill="#fff" stroke="#231f20" stroke-width="1.3"/>
<rect x="820.45" y="951.0" width="7.6" height="10.2" fill="#8e8f93" stroke="#231f20" stroke-width="1.3"/>
<circle cx="824.25" cy="942.0" r="3.3" fill="#fff" stroke="#231f20" stroke-width="1.3"/>
<circle cx="824.25" cy="945.5" r="3.3" fill="#fff" stroke="#231f20" stroke-width="1.3"/>
<circle cx="824.25" cy="951.5" r="3.3" fill="#fff" stroke="#231f20" stroke-width="1.3"/>
<rect x="830.95" y="950.5" width="7.6" height="10.8" fill="#231f20" stroke="#231f20" stroke-width="1.3"/>
<circle cx="834.75" cy="942.0" r="3.3" fill="#fff" stroke="#231f20" stroke-width="1.3"/>
<circle cx="834.75" cy="947.5" r="3.3" fill="#fff" stroke="#231f20" stroke-width="1.3"/>
<circle cx="834.75" cy="952.5" r="3.3" fill="#fff" stroke="#231f20" stroke-width="1.3"/>
<rect x="847.45" y="959.5" width="7.6" height="1.8" fill="#d5d6d8" stroke="#231f20" stroke-width="1.3"/>
<circle cx="851.25" cy="958.6" r="3.3" fill="#fff" stroke="#231f20" stroke-width="1.3"/>
<circle cx="851.25" cy="959.0" r="3.3" fill="#fff" stroke="#231f20" stroke-width="1.3"/>
<circle cx="851.25" cy="959.4" r="3.3" fill="#fff" stroke="#231f20" stroke-width="1.3"/>
<rect x="857.95" y="959.5" width="7.6" height="1.8" fill="#8e8f93" stroke="#231f20" stroke-width="1.3"/>
<circle cx="861.75" cy="958.6" r="3.3" fill="#fff" stroke="#231f20" stroke-width="1.3"/>
<circle cx="861.75" cy="959.0" r="3.3" fill="#fff" stroke="#231f20" stroke-width="1.3"/>
<circle cx="861.75" cy="959.4" r="3.3" fill="#fff" stroke="#231f20" stroke-width="1.3"/>
<rect x="868.45" y="959.5" width="7.6" height="1.8" fill="#231f20" stroke="#231f20" stroke-width="1.3"/>
<circle cx="872.25" cy="958.6" r="3.3" fill="#fff" stroke="#231f20" stroke-width="1.3"/>
<circle cx="872.25" cy="959.0" r="3.3" fill="#fff" stroke="#231f20" stroke-width="1.3"/>
<circle cx="872.25" cy="959.4" r="3.3" fill="#fff" stroke="#231f20" stroke-width="1.3"/>
<rect x="884.95" y="923.7" width="7.6" height="37.5" fill="#d5d6d8" stroke="#231f20" stroke-width="1.3"/>
<circle cx="888.75" cy="916.6" r="3.3" fill="#fff" stroke="#231f20" stroke-width="1.3"/>
<circle cx="888.75" cy="920.3" r="3.3" fill="#fff" stroke="#231f20" stroke-width="1.3"/>
<circle cx="888.75" cy="924.5" r="3.3" fill="#fff" stroke="#231f20" stroke-width="1.3"/>
<rect x="895.45" y="925.3" width="7.6" height="36.0" fill="#8e8f93" stroke="#231f20" stroke-width="1.3"/>
<circle cx="899.25" cy="920.6" r="3.3" fill="#fff" stroke="#231f20" stroke-width="1.3"/>
<circle cx="899.25" cy="922.2" r="3.3" fill="#fff" stroke="#231f20" stroke-width="1.3"/>
<circle cx="899.25" cy="923.5" r="3.3" fill="#fff" stroke="#231f20" stroke-width="1.3"/>
<rect x="905.95" y="923.7" width="7.6" height="37.5" fill="#231f20" stroke="#231f20" stroke-width="1.3"/>
<circle cx="909.75" cy="919.8" r="3.3" fill="#fff" stroke="#231f20" stroke-width="1.3"/>
<circle cx="909.75" cy="920.8" r="3.3" fill="#fff" stroke="#231f20" stroke-width="1.3"/>
<circle cx="909.75" cy="922.5" r="3.3" fill="#fff" stroke="#231f20" stroke-width="1.3"/>
<path d="M926.25,849.5V800.8M923.65,800.8H928.85" stroke="#231f20" stroke-width="1.4"/>
<rect x="922.45" y="849.5" width="7.6" height="111.8" fill="#d5d6d8" stroke="#231f20" stroke-width="1.3"/>
<circle cx="926.25" cy="813.3" r="3.3" fill="#fff" stroke="#231f20" stroke-width="1.3"/>
<circle cx="926.25" cy="829.3" r="3.3" fill="#fff" stroke="#231f20" stroke-width="1.3"/>
<circle cx="926.25" cy="902.6" r="3.3" fill="#fff" stroke="#231f20" stroke-width="1.3"/>
<path d="M936.75,842.7V792.8M934.15,792.8H939.35" stroke="#231f20" stroke-width="1.4"/>
<rect x="932.95" y="842.7" width="7.6" height="118.5" fill="#8e8f93" stroke="#231f20" stroke-width="1.3"/>
<circle cx="936.75" cy="798.2" r="3.3" fill="#fff" stroke="#231f20" stroke-width="1.3"/>
<circle cx="936.75" cy="833.0" r="3.3" fill="#fff" stroke="#231f20" stroke-width="1.3"/>
<circle cx="936.75" cy="895.4" r="3.3" fill="#fff" stroke="#231f20" stroke-width="1.3"/>
<path d="M947.25,849.8V804.0M944.65,804.0H949.85" stroke="#231f20" stroke-width="1.4"/>
<rect x="943.45" y="849.8" width="7.6" height="111.5" fill="#231f20" stroke="#231f20" stroke-width="1.3"/>
<circle cx="947.25" cy="814.2" r="3.3" fill="#fff" stroke="#231f20" stroke-width="1.3"/>
<circle cx="947.25" cy="833.4" r="3.3" fill="#fff" stroke="#231f20" stroke-width="1.3"/>
<circle cx="947.25" cy="899.7" r="3.3" fill="#fff" stroke="#231f20" stroke-width="1.3"/>
<rect x="959.95" y="953.0" width="7.6" height="8.2" fill="#d5d6d8" stroke="#231f20" stroke-width="1.3"/>
<circle cx="963.75" cy="938.8" r="3.3" fill="#fff" stroke="#231f20" stroke-width="1.3"/>
<circle cx="963.75" cy="950.3" r="3.3" fill="#fff" stroke="#231f20" stroke-width="1.3"/>
<circle cx="963.75" cy="951.0" r="3.3" fill="#fff" stroke="#231f20" stroke-width="1.3"/>
<rect x="970.45" y="952.2" width="7.6" height="9.0" fill="#8e8f93" stroke="#231f20" stroke-width="1.3"/>
<circle cx="974.25" cy="942.0" r="3.3" fill="#fff" stroke="#231f20" stroke-width="1.3"/>
<circle cx="974.25" cy="947.2" r="3.3" fill="#fff" stroke="#231f20" stroke-width="1.3"/>
<circle cx="974.25" cy="949.0" r="3.3" fill="#fff" stroke="#231f20" stroke-width="1.3"/>
<rect x="980.95" y="950.7" width="7.6" height="10.5" fill="#231f20" stroke="#231f20" stroke-width="1.3"/>
<circle cx="984.75" cy="942.7" r="3.3" fill="#fff" stroke="#231f20" stroke-width="1.3"/>
<circle cx="984.75" cy="948.3" r="3.3" fill="#fff" stroke="#231f20" stroke-width="1.3"/>
<circle cx="984.75" cy="949.5" r="3.3" fill="#fff" stroke="#231f20" stroke-width="1.3"/>
<rect x="997.45" y="928.5" width="7.6" height="32.8" fill="#d5d6d8" stroke="#231f20" stroke-width="1.3"/>
<circle cx="1001.25" cy="921.4" r="3.3" fill="#fff" stroke="#231f20" stroke-width="1.3"/>
<circle cx="1001.25" cy="928.5" r="3.3" fill="#fff" stroke="#231f20" stroke-width="1.3"/>
<circle cx="1001.25" cy="932.5" r="3.3" fill="#fff" stroke="#231f20" stroke-width="1.3"/>
<rect x="1007.95" y="925.5" width="7.6" height="35.8" fill="#8e8f93" stroke="#231f20" stroke-width="1.3"/>
<circle cx="1011.75" cy="917.4" r="3.3" fill="#fff" stroke="#231f20" stroke-width="1.3"/>
<circle cx="1011.75" cy="923.8" r="3.3" fill="#fff" stroke="#231f20" stroke-width="1.3"/>
<circle cx="1011.75" cy="930.9" r="3.3" fill="#fff" stroke="#231f20" stroke-width="1.3"/>
<rect x="1018.45" y="927.5" width="7.6" height="33.8" fill="#231f20" stroke="#231f20" stroke-width="1.3"/>
<circle cx="1022.25" cy="919.8" r="3.3" fill="#fff" stroke="#231f20" stroke-width="1.3"/>
<circle cx="1022.25" cy="927.7" r="3.3" fill="#fff" stroke="#231f20" stroke-width="1.3"/>
<circle cx="1022.25" cy="930.9" r="3.3" fill="#fff" stroke="#231f20" stroke-width="1.3"/>
<rect x="1034.95" y="925.3" width="7.6" height="36.0" fill="#d5d6d8" stroke="#231f20" stroke-width="1.3"/>
<circle cx="1038.75" cy="921.4" r="3.3" fill="#fff" stroke="#231f20" stroke-width="1.3"/>
<circle cx="1038.75" cy="923.0" r="3.3" fill="#fff" stroke="#231f20" stroke-width="1.3"/>
<circle cx="1038.75" cy="924.5" r="3.3" fill="#fff" stroke="#231f20" stroke-width="1.3"/>
<rect x="1045.45" y="927.7" width="7.6" height="33.5" fill="#8e8f93" stroke="#231f20" stroke-width="1.3"/>
<circle cx="1049.25" cy="919.8" r="3.3" fill="#fff" stroke="#231f20" stroke-width="1.3"/>
<circle cx="1049.25" cy="924.5" r="3.3" fill="#fff" stroke="#231f20" stroke-width="1.3"/>
<circle cx="1049.25" cy="926.0" r="3.3" fill="#fff" stroke="#231f20" stroke-width="1.3"/>
<rect x="1055.95" y="925.3" width="7.6" height="36.0" fill="#231f20" stroke="#231f20" stroke-width="1.3"/>
<circle cx="1059.75" cy="920.6" r="3.3" fill="#fff" stroke="#231f20" stroke-width="1.3"/>
<circle cx="1059.75" cy="923.0" r="3.3" fill="#fff" stroke="#231f20" stroke-width="1.3"/>
<circle cx="1059.75" cy="924.5" r="3.3" fill="#fff" stroke="#231f20" stroke-width="1.3"/>
<path d="M1076.25,743.7V707.5M1073.65,707.5H1078.85" stroke="#231f20" stroke-width="1.4"/>
<rect x="1072.45" y="743.7" width="7.6" height="217.5" fill="#d5d6d8" stroke="#231f20" stroke-width="1.3"/>
<circle cx="1076.25" cy="707.5" r="3.3" fill="#fff" stroke="#231f20" stroke-width="1.3"/>
<circle cx="1076.25" cy="743.7" r="3.3" fill="#fff" stroke="#231f20" stroke-width="1.3"/>
<circle cx="1076.25" cy="774.0" r="3.3" fill="#fff" stroke="#231f20" stroke-width="1.3"/>
<path d="M1086.75,704.4V661.0M1084.15,661.0H1089.35" stroke="#231f20" stroke-width="1.4"/>
<rect x="1082.95" y="704.4" width="7.6" height="256.9" fill="#8e8f93" stroke="#231f20" stroke-width="1.3"/>
<circle cx="1086.75" cy="666.3" r="3.3" fill="#fff" stroke="#231f20" stroke-width="1.3"/>
<circle cx="1086.75" cy="695.1" r="3.3" fill="#fff" stroke="#231f20" stroke-width="1.3"/>
<circle cx="1086.75" cy="750.0" r="3.3" fill="#fff" stroke="#231f20" stroke-width="1.3"/>
<path d="M1097.25,727.6V712.0M1094.65,712.0H1099.85" stroke="#231f20" stroke-width="1.4"/>
<rect x="1093.45" y="727.6" width="7.6" height="233.6" fill="#231f20" stroke="#231f20" stroke-width="1.3"/>
<circle cx="1097.25" cy="712.8" r="3.3" fill="#fff" stroke="#231f20" stroke-width="1.3"/>
<circle cx="1097.25" cy="727.6" r="3.3" fill="#fff" stroke="#231f20" stroke-width="1.3"/>
<circle cx="1097.25" cy="749.0" r="3.3" fill="#fff" stroke="#231f20" stroke-width="1.3"/>
<rect x="1109.95" y="948.5" width="7.6" height="12.8" fill="#d5d6d8" stroke="#231f20" stroke-width="1.3"/>
<circle cx="1113.75" cy="945.0" r="3.3" fill="#fff" stroke="#231f20" stroke-width="1.3"/>
<circle cx="1113.75" cy="948.0" r="3.3" fill="#fff" stroke="#231f20" stroke-width="1.3"/>
<circle cx="1113.75" cy="949.7" r="3.3" fill="#fff" stroke="#231f20" stroke-width="1.3"/>
<rect x="1120.45" y="946.0" width="7.6" height="15.2" fill="#8e8f93" stroke="#231f20" stroke-width="1.3"/>
<circle cx="1124.25" cy="938.9" r="3.3" fill="#fff" stroke="#231f20" stroke-width="1.3"/>
<circle cx="1124.25" cy="944.0" r="3.3" fill="#fff" stroke="#231f20" stroke-width="1.3"/>
<circle cx="1124.25" cy="948.0" r="3.3" fill="#fff" stroke="#231f20" stroke-width="1.3"/>
<rect x="1130.95" y="948.5" width="7.6" height="12.8" fill="#231f20" stroke="#231f20" stroke-width="1.3"/>
<circle cx="1134.75" cy="944.0" r="3.3" fill="#fff" stroke="#231f20" stroke-width="1.3"/>
<circle cx="1134.75" cy="948.0" r="3.3" fill="#fff" stroke="#231f20" stroke-width="1.3"/>
<circle cx="1134.75" cy="950.0" r="3.3" fill="#fff" stroke="#231f20" stroke-width="1.3"/>
<path d="M1151.25,886.8V865.5M1148.65,865.5H1153.85" stroke="#231f20" stroke-width="1.4"/>
<rect x="1147.45" y="886.8" width="7.6" height="74.5" fill="#d5d6d8" stroke="#231f20" stroke-width="1.3"/>
<circle cx="1151.25" cy="872.3" r="3.3" fill="#fff" stroke="#231f20" stroke-width="1.3"/>
<circle cx="1151.25" cy="875.4" r="3.3" fill="#fff" stroke="#231f20" stroke-width="1.3"/>
<circle cx="1151.25" cy="909.4" r="3.3" fill="#fff" stroke="#231f20" stroke-width="1.3"/>
<path d="M1161.75,890.0V867.5M1159.15,867.5H1164.35" stroke="#231f20" stroke-width="1.4"/>
<rect x="1157.95" y="890.0" width="7.6" height="71.2" fill="#8e8f93" stroke="#231f20" stroke-width="1.3"/>
<circle cx="1161.75" cy="871.6" r="3.3" fill="#fff" stroke="#231f20" stroke-width="1.3"/>
<circle cx="1161.75" cy="883.1" r="3.3" fill="#fff" stroke="#231f20" stroke-width="1.3"/>
<circle cx="1161.75" cy="912.5" r="3.3" fill="#fff" stroke="#231f20" stroke-width="1.3"/>
<path d="M1172.25,885.3V860.5M1169.65,860.5H1174.85" stroke="#231f20" stroke-width="1.4"/>
<rect x="1168.45" y="885.3" width="7.6" height="76.0" fill="#231f20" stroke="#231f20" stroke-width="1.3"/>
<circle cx="1172.25" cy="867.6" r="3.3" fill="#fff" stroke="#231f20" stroke-width="1.3"/>
<circle cx="1172.25" cy="873.8" r="3.3" fill="#fff" stroke="#231f20" stroke-width="1.3"/>
<circle cx="1172.25" cy="912.5" r="3.3" fill="#fff" stroke="#231f20" stroke-width="1.3"/>
<text x="718.55" y="984.00" font-size="21.3" text-anchor="end" transform="rotate(-45 718.55 984.00)">CD16</text>
<text x="756.05" y="984.00" font-size="21.3" text-anchor="end" transform="rotate(-45 756.05 984.00)">TRAIL</text>
<text x="793.55" y="984.00" font-size="21.3" text-anchor="end" transform="rotate(-45 793.55 984.00)">CD62L</text>
<text x="831.05" y="984.00" font-size="21.3" text-anchor="end" transform="rotate(-45 831.05 984.00)">CD69</text>
<text x="868.55" y="984.00" font-size="21.3" text-anchor="end" transform="rotate(-45 868.55 984.00)">CD25</text>
<text x="906.05" y="984.00" font-size="21.3" text-anchor="end" transform="rotate(-45 906.05 984.00)">CD94</text>
<text x="943.55" y="984.00" font-size="21.3" text-anchor="end" transform="rotate(-45 943.55 984.00)">NKG2D</text>
<text x="981.05" y="984.00" font-size="21.3" text-anchor="end" transform="rotate(-45 981.05 984.00)">KIR-NKAT2</text>
<text x="1018.55" y="984.00" font-size="21.3" text-anchor="end" transform="rotate(-45 1018.55 984.00)">DNAM-1</text>
<text x="1056.05" y="984.00" font-size="21.3" text-anchor="end" transform="rotate(-45 1056.05 984.00)">NKG2A</text>
<text x="1093.55" y="984.00" font-size="21.3" text-anchor="end" transform="rotate(-45 1093.55 984.00)">NKp30</text>
<text x="1131.05" y="984.00" font-size="21.3" text-anchor="end" transform="rotate(-45 1131.05 984.00)">NKp44</text>
<text x="1168.55" y="984.00" font-size="21.3" text-anchor="end" transform="rotate(-45 1168.55 984.00)">NKp46</text>
<text x="616.00" y="802.60" font-size="20.8" text-anchor="middle" transform="rotate(-90 616 802.6)">MFI</text>
</svg>
</body></html>
